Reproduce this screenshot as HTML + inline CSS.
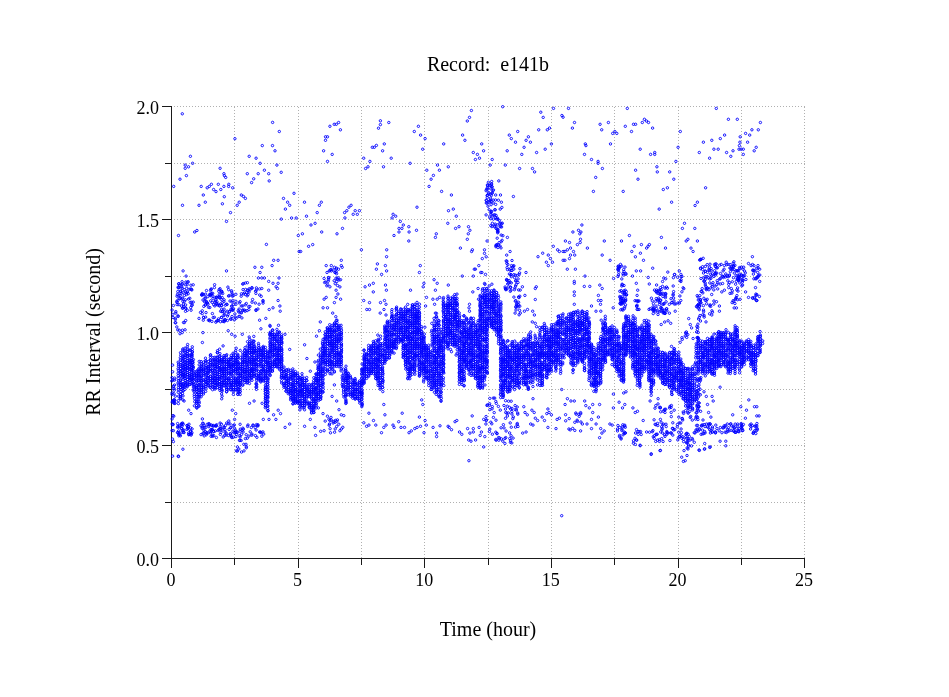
<!DOCTYPE html>
<html><head><meta charset="utf-8"><style>
html,body{margin:0;padding:0;background:#fff;width:949px;height:697px;overflow:hidden}
svg{display:block}
text{font-family:"Liberation Serif",serif;fill:#000}
</style></head><body>
<svg width="949" height="697" viewBox="0 0 949 697">
<path d="M171.5 107V558M234.5 107V558M298.5 107V558M361.5 107V558M424.5 107V558M488.5 107V558M551.5 107V558M614.5 107V558M678.5 107V558M741.5 107V558M804.5 107V558M171 558.5H805M171 502.5H805M171 445.5H805M171 389.5H805M171 332.5H805M171 276.5H805M171 219.5H805M171 163.5H805M171 106.5H805" stroke="#b0b0b0" stroke-width="1" stroke-dasharray="1 2" fill="none"/><path d="M171.5 106V559M171 558.5H805M162 558.5H171M165 502.5H171M162 445.5H171M165 389.5H171M162 332.5H171M165 276.5H171M162 219.5H171M165 163.5H171M162 106.5H171M171.5 559V568M234.5 559V565M298.5 559V568M361.5 559V565M424.5 559V568M488.5 559V565M551.5 559V568M614.5 559V565M678.5 559V568M741.5 559V565M804.5 559V568" stroke="#1a1a1a" stroke-width="1" fill="none"/><defs><marker id="m" markerUnits="userSpaceOnUse" markerWidth="6" markerHeight="6" refX="3" refY="3" overflow="visible"><circle cx="3" cy="3" r="1.2" fill="none" stroke="#0000ff" stroke-width="0.9"/></marker></defs><path d="M182.3 113.8m52.6 24.9m37.7-16.3m6.7 9.1m-17 14.1m10.2 0m2.5 5.2m-25.8 5.5m6.9 1.9m4 5.1m16.8 1.8m-12.5 5.1m16.8 2.1m-33.9 1.4m10.9 0m10.5 0m-15 5.1m-2.1 3.8m17.6-1.7m-78.8-24.6m2.2 7m-7.4 1.8m0 3.2m3.3-1.5m-2.1 8.8m-6.4 3.6m-6.3 7.2m8.8 18.9m18.7-18.9m2.1 8.6m2 7.2m-6.3 3.1m8.2-17.5m2.1-1.4m2.1-2.1m2.2 5.2m2.4 2.1m2.3-7.3m2.5 5.2m-0.7-21.2m3.8 5.4m0.5 2m1.3 1.7m-1.8 9m4.9-2.1m-0.2 2.1m4.1 1.4m-8.4 8.9m-1.9 7.1m8.1 8.8m6.7-7.3m2-3.1m2.1-7.2m2.1 1.4m2 2m48.6-5.1m-10.5 5.1m4.1 3.8m2.1 3.1m-4.3 3.8m44.5-82.8m4.3-2m2.1 0m2.3-1.8m1.8 7.3m-14.9 7m2 0m-2 3.5m-1.9 10.5m8.6 3.6m-4.7 7m52.9-40.6m0 3.8m-1.9 3.6m10.3-5.7m-4.5 21.4m-1.7 6.9m-6.2-5.4m-2.1 1.9m-2 0m18.9 10.9m-27.5 0m6.2 3.2m-1.9 5.4m-2.4 1.7m17.9-1.7m34.9-40.5m-4.1 5.2m6.3 3.6m4.5 3.5m-2.4 10.6m-12.6 14.1m16.7 6.9m4.3 9m-2 7.2m-12.1 20.8m-112.5-5m2 14m12.9-10.9m1.9-3.1m-4.1 10.4m27.4 0m2.2-1.9m2.1-3.5m2.2-1.9m-6.2 12.6m8.3-3.6m4.1 0m-2.1-3.6m4.2 0m33.7 3.6m2.6 1.9m-3.6 1.7m79.3-107.4m-1.9 6.9m-2.2 3.6m-4.7 14.1m2.3 5.2m-21.2 3.6m38 0m1.9 6.9m-10.3 1.7m4.1 1.9m-2 5.1m4.1-1.3m12.7 1.3m10.5-52.8m-65.2 58.4m1.9 5.1m8.9-3.4m-14.9 8.6m8.2 16m9.8 3.6m1.9 14.1m-4.8 1.6m7.8 5.5m33.9-51.1m15.1 0m12.4-33.6m-8.4 3.6m2 3.5m4.2 3.6m10.6-1.9m2.3-3.5m2 5.4m-6.3 5.1m-2.3 7.1m-14.6-3.6m29.4 1.7m8.6-3.3m6.2-5.3m-12.7-14.1m8.6 0m2.2-1.7m-8.7-15.9m2.4 5.2m10.3-9m8.4 7.1m1.2 1.7m-43.5 51.3m12.9 0m2.1 3.4m-35.8 9m14.6 15.6m-12.9-1.5m-4.8 0m2.7 5.2m3 2m0.5 5.2m-1.7 1.7m68.3-100.7m6 14.1m-2.1 5.6m27.7-3.8m1.6 5.5m6.7-7.3m4.3 10.9m2.1-1.9m2 1.9m-6.3 10.5m-25.2 0m0.6 1.7m-1.4 8.8m7 5.1m6.6 1.9m0 1.9m4.3 5.2m-6.7 8.9m-2.3 14m33.9-83m-2 17.9m6.2 5.2m2-7.2m2.1 0m6.7-1.8m2.1-3.2m2 1.7m2.1 1.5m4.1 5.6m-12.4 21.1m10.4 5.2m4.1-1.9m0 1.9m21.2 7m2.2-14.1m2.2-15.8m-23.4 35.3m0.4 5.1m12.4 0m4.1 7.3m-38.2-9m2.4 9m-14.8 12.2m40.1-1.9m4.1-1.7m4.2 14.4m-12.4 6.9m35.9-3.6m21.2-97.1m12.1 10.9m8.9 0m23.1 3.2m-8.5 7.3m6.4 0m-12.7 3.6m4.1 1.7m-9.5 1.7m-15.6-1.7m-4.3 3.5m-8.5 1.7m-8.4 1.9m36.5 0m7.7 0m-8.2 3.4m16.8 1.7m-17.2 1.9m2.1 0m2.2 0m10.9 1.6m-10.9 3.6m-10.3-3.6m-6.4 1.7m4.2 3.8m-16.9-7.1m4.3 0m-18.9 3.3m10.3 5.7m-4 29.6m-8.2 14.4m-518.9 33.3m16.2-3.5m2.2-1.5m29.6-9.1m71.8 14.1m0.8 16m-32.7-7.1m-83.3 26.5m43.4 0m-40.4 5.2m87.6-15.8m4.4 0m-6 5.3m-17.2 1.7m6.9 0m-1.7 5.2m-1.7 5.5m3.4 0m2.6 0m14.6 0m-10.3 3.4m4.3 1.9m5.1 0m-2 3.5m1.4 1.7m-8.8 1.7m-6.9-1.7m-5.2 1.7m-53.7 42.4m25.3-1.9m3.5 3.6m3.4 1.9m7.2-1.9m18.6-5.5m-1.3-8.6m6.2-1.8m12.7 6.9m6.5 9m-6.9-33.8m1.8 5.5m0.3 5.2m-7.2-3.4m-3.8 1.7m-70.2 8.9m4.3 1.8m99.1-86.4m8.6-8.8m4.1-1.7m6.6 8.7m15.3 1.8m5.5-5.4m-33.9 17.9m4.1-1.7m-12 6.9m60.7-1.7m38.9-28.4m3 3.6m5.5 1.7m-9.8 1.7m2.9 0m7.2 3.6m-10.1 0m-5 3.5m22.5-5.2m-7.7 10.7m-22.1 8.8m-0.1 6.9m-9.2 7.2m-1 5.3m9-3.6m1.2 5.3m-5 3.5m38.7-8.8m-0.9 6.9m-78.1-12.2m-15.1 5.3m5.1 0m3.1 1.7m6.9-1.7m0.9 1.7m-3.6 1.9m26.5 17.6m4.4-1.7m3.8-1.8m0 8.6m12.2-6.8m0.9 5.1m24.1 0m13.4-6.9m-0.7 3.5m3.3 10.6m-0.9 8.6m-61.9-5.5m5.8 2.1m-2.7 6.9m2.7 0m11-6.9m4-2.1m1.5 3.8m-2 5.2m-3.8 3.6m5.8 1.9m-61.9-36.5m16.5 1.2m-4.5 10.5m1.8 3.8m-1.8 3.4m4.5 1.8m-6.2 3.4m-10.3-3.4m2.1-1.8m-3.1 10.4m4.4 0m5.2 5.3m3.1 3.6m-15.5 5.2m-0.9 8.8m-2.9 5.5m108.4-9m-0.6 6.9m23.5-110.8m7.8 5.1m3.4-1.7m9.5 0m1.4 3.6m-1.6 3.5m-1 5.5m-31-5.5m-0.9 3.6m25 10.7m12 1.7m-0.8 1.7m12.9-1.7m0 3.6m1.7 3.4m-3.9 1.8m4.8-17.6m-8.3 24.6m-3.4 3.6m-1.1 0m6.4 3.3m1.2 0m3.6 1.9m-23.2 1.7m11 0m34.1-38.7m2.7 14.1m-3.4 3.6m46.6-8.8m4.3 3.5m1.8 1.7m3.7 0m-20.4 1.7m-4.7 3.5m10.3-1.6m2.1 3.5m-4 3.6m6.1 0m-4.2 3.4m14.8-5.3m-37.1 12.2m-91.9 7.2m3.1 3.6m11.1 1.8m-12.9 5.1m4.3 7.2m-2.5 1.8m-4.3 0m1.7 5.1m0.8 8.8m37.4-21.2m5.3-3.4m0.4 10.7m-9 5.1m-0.5 3.5m0.5 3.4m52.9-24.4m2.5 8.6m2.6 14.1m-3.1 1.7m8.3 0m2.6-11.7m0-11m1-1.7m-1.9 28.2m-2.1 6.9m3 1.4m1.3 3.4m45.3-101.7m-9 7m5.6-1.7m2.4 1.7m-1.1 1.8m0.7 5.5m-0.3 3.2m-2.8 2.1m-12-3.6m4.1 1.5m-4.6 9m2.5-1.7m3.1-1.7m3 3.4m-3 3.6m4.2 0m-5.2 3.5m-4.6 1.7m22.5-12.2m16.9-7.1m-2.1 14.1m7.9 5.2m-42.8 8.9m8.1 0m9.6 6.9m-0.7 10.3m5.5 0m-15.5-5m0 1.9m0 8.6m0 3.5m0 8.9m25.5-19.2m2.4 3.4m-3.8 6.9m0 5.1m2.6 0m-0.5 3.8m-9 1.7m4.5 5.2m4.8 0m0.4 9m12-12.4m0.4-29.3m15.8-43m-7.9 5.5m12.7 5.3m-2.4 5.2m9.6-6.9m-1 8.6m-5 3.6m8.1 3.5m4.5-14m1.4-1.7m-2.8 3.5m14.8-10.7m4.1 10.7m-29.2 22.8m4.3 0m-8.1 5.2m3.8 7.2m1.4 6.9m-0.6 5.2m-0.5 5.5m1.1 0m-1.1 5.1m45.8-77.6m2.1-5.1m3.4 16m-1.7 1.7m4.8 7.1m2.1 3.4m1.7-23.1m-15.5 42.5m-15.5 7.1m5.5 26.3m5.9 6.9m-4.5 12.1m26.7-82.3m55 15.7m-3.9 6.8m2.6 2.1m6.9 0m1.7 3.6m-13.8 10.3m13.8 1.9m-14.1 10.5m2.9 5.5m-29.1 8.6m0 5.2m-7.6 3.8m-5.8 6.9m15.8-30m2.6-1.7m6.9-1.7m0.8 14.1m3.5-3.4m-533.2 43.3m20.7 3.4m13.1 2.3m53.5 1.2m-106.8 50.5m1.2 1.1m4.6 9.2m2.3 3.4m41.3-3.4m3.4 3.4m13.8-10.3m4.6-2.3m8 2.3m11.5 11.5m4.6-4.6m2.3 3.4m-4.6 5.8m13.8 4.6m-4.6 3.4m-16.1-8m-5.7 0m-60.9-0.5m32.2 0.5m-5.8 1.6m-56.2 35.1m5.7 0m4.6-6.9m121.7-104.4m2.3 13.7m3.4 12.7m4.6-9.2m3.5-6.9m-13.8 71.2m5.7-6.9m4.6 8m0.7 8m5.1-4.1m2.3-17.7m-4.6-5.7m13.7-11.5m4.6 4.6m2.3 8.7m2.3 5.1m-6.9-29.9m34.5 28.3m-5.1 9.6m2.8 3.5m2.3-1.2m4.6-4.6m2.3 4.6m5.7 7.6m3.4-17.9m1.2 10.3m-2.3 2.3m9.2-2.3m1.1 2.3m4.6-5.7m3.5-8.5m-1.2 14.2m3.5 0m4.5 5.3m2.3-1.8m3.5-2.3m2.3-1.2m2.3-10.3m1.1 9.2m3.5 6.4m1.1-12.2m1.2 4.6m-4.6-25.2m1.1 4.6m-39 0m49.3 22.9m3.5 5.7m0 3.5m3.4-10.8m8.1 0.5m1.1 1.1m2.3 2.3m3.5-8m1.8-1.2m2.7 11.5m2.3 2.3m5.8-5.7m2.3 4.5m-1.2 6.9m2.3 1.2m4.6-1.2m-2.3-11.4m0 3.4m5.8-4.6m1.1 8m1.2-3.4m3.4 4.6m-1.1 10.3m2.2-22.9m-2.2-4.6m-11.5-3.5m51.6-9.2m1.2 5.8m-2.3 20.6m3.4-1.1m1.2-17.2m3.4 9.2m2.3 1.1m-1.1-14.9m2.3 2.3m1.1 5.7m2.3 2.3m4.6-3.4m2.3 3.4m2.3-6.9m1.1-4.6m1.2 3.5m2.3 2.3m5.7 4.6m2.3-1.2m-11.5 9.2m13.8-37.9m-5.7 39.1m-23-29.9m4.6-13.8m-86.1-33.2m4.6 3.4m111.3 43.6m3.5 2.3m3.4 0m-9.2 3.5m19.6-3.5m1.1 4.6m3.5 2.3m3.4 4.6m0-8m6.9 0m-8.1 14.9m-9.1 4.6m4.6 0m4.5 4.6m4.6-4.6m2.3-6.9m2.3 11.5m1.2 4.5m2.3-2.2m-4.6 6.8m13.8-29.8m0-13.8m5.7 8.1m4.6-9.2m2.3-1.2m-1.2 12.7m-2.3 3.4m10.4 0m2.3 4.6m2.3-1.2m5.7 9.2m3.4 11.5m11.5-33.3m-6.9-3.4m-1.1 5.7m5.7 4.6m4.6 2.3m4.6 4.6m4.6-4.6m4.6 2.3m-13.8 9.2m18.4-2.3m-27.6 36.7m9.2-3.4m-50.5-26.4m2.3 1.1m107.9-37.9m-16.1 4.6m2.3 4.6m5.8 0m1.1 4.6m-5.7 3.5m-6.9 6.8m8 1.2m2.3 4.6m21.8-2.3m8.1-8.1m5.7 3.5m2.3-10.3m5.7 6.8m2.3 0m0 9.2m2.3 0m-13.7 2.3m-25.3 23m5.7 0m0 4.6m-15.6 1.1m-5.5-3.4m-5.3 6.9m5.3-1.6m45.2-23.7m1.2-1.1m-282.2 36.7m-290.4-4.2m383.2 59.2m89.5-61.3m8.8-3.8m21.7 6.6m5.3-1.7m-3.6 5.9m1.8-0.7m-1.2-10.1m4-1.6m11 1m5.4-0.8m5.3-1.8m-428.4-228.3m10.3-1.1m4.6 0m-114.4 66.8m5.9-2.5m-2.1 9.4m-8.6 4.5m6.6 10.3m-5.4-19.4m9.1 23.2m-0.9-17.6m5.1-3.4m-12.9-5.5m3 22.3m-2.3-7.5m8.2-6.7m-1.6-9.9m2.3 11.7m-6.5 5m2.5-9.1m6.1 12.8m-9.9-4m5.1 9.6m3.6-18.8m-5.6 15m-4.8-8.6m-2 5.8m13.1-3.1m2-8.3m-3.3 9m-2.1-4.4m4.7 15.6m-6.6-8.9m-7.4 1.1m13.7-13.3m-7.9 12.3m-3.9-17.7m-1.9 20.9m1.2-16.7m4.7 20m-5.5-13.5m8.4 13.9m4.8-0.7m-9.7-14.3m1.5 15m10.7-23.5m-14 2.6m1 8.1m6.4-7.1m-4 9.7m10.6 4m-7.9-2.3m2.9-18.1m4 23.3m-0.5 0.5m-8.6-12.7m-5.2 7.5m1.9-15.1m2.3-3.5m-4.3 9.9m9.3-6.8m-6.6 6.3m2.1-7.2m1.8 11.6m-2.2-7m8.7-3.3m-5.4-0.5m0 26.6m6-9m-10.8-10.6m-1.7 13m6.6 0.2m-3.7-17.8m-6.7 35.6m0.2-3.2m-0.1-1.2m-2.4-4m0.5-8.8m-1.3 4.5m0.9 7.5m2.8-4.4m-0.1 9.7m0.1-11.2m2.4 4.8m-0.2-0.5m4.2 16.7m2.2-10.1m-1.9 7.7m-5.7-3.3m8.3 2.9m-1.6-7.3m-5.7 7.4m1.5 0.3m6.4-9.7m-5.7 13.2m51.6-42.9m8.1 25.5m-34.1 0.8m37.5-6.8m-28.3-4.4m27.9 4.1m-20 11.3m-4.2-2.4m-8.2-23.2m-0.5 11.8m0.9-6.7m4.2 1.5m10.4 17.9m-7.4 0.5m3.7-15.4m-2.8-14m-12 11.6m24.8 3.4m-17.9-1.6m10.3 10.7m-20.2-9m6.4-11.3m23.6 9.2m-9.5 10.1m15.8-12.7m-13.5 2.5m-4.6 7.5m-2.6-6.4m1.1 16.4m10-2.6m-6.3 2.6m-19.7-20m-2.2-8.1m0 17.2m32 9.1m-28.3-7.3m22.7-22.9m-11.8 13.8m-10.6-2.2m15.9-3.7m-14.4-0.9m16.1 4.9m3.2 2.9m-23.4-9.9m7.5-5.4m6.8 31.3m17.9-26.2m-11.2 17.7m5.3-11m-2.5 15.1m-8.1-18.5m4.5 23.5m-12.8-31.9m11.6 4.3m-9.7 2.7m20.2-0.6m-11.7-4.5m-6.9-6.4m17.4 21.3m-24.5-3m28.4-1.7m-14.6 16.1m-4.6-13.1m-2.3 13m16.4-7.9m-13.6-11.5m-15 15.7m8.3-23.1m27.7 20.3m-26.5-17.1m0.5 8.7m-6.1-0.6m36.7 4.1m-29.9-7.6m7.5 5.8m-12.4 0.1m-5-4.2m9.7-6.7m12.7 11.9m7.4 5.1m-1.6 8.9m-14.7-22.2m15.1 12.7m7.5-0.6m-7.1 7.4m-26.7-11.5m16.4 12.4m13.5-0.3m-9.9 2.6m4.4-8m-24.7-13.3m-1.3 19m20.4-8.3m3.1 2.1m7.7 2.7m-13.3-8.5m10.6-11.3m-29.8 0.5m29.4-2.4m-10.6 7.1m-0.6 12m12.9-2.6m-5.6-21.6m-22.3 7.1m26.8 2m-30.7-1.4m27.5 16.9m0.2-16.1m-7.2 7m-2.2-13.9m-0.8 6m-10.7 12.6m-3.1-2.3m30.5-0.7m3 7.8m-29.5 7.8m9.9-23.8m-14 1.7m7.9 19.8m27.5-5.1m-25-12.8m-0.5 1.4m-11.6 16.3m8.3 4m-1.7-26.8m11.8-3m-6.2 30.6m23-5.7m-11.4 4m13.9-14.5m-9.3-4m0.9 7.8m-12.7-12.1m-7.8 15.9m16.1-17.6m-4.4 3.8m-17.6-9.3m1.9 29.7m13-27.4m-2.2-3.2m-4.8-2m-4.6 6.7m14.8 25.2m8.1-19m-15.1 4.5m-1.6-7.5m-14.2-2.4m19.9 14.1m-10.5-15.3m5.8 7.9m24.9 16.1m-41.4-5.5m38.8-9.5m-22.7 18.2m19.6-2.9m-13.7-6.9m18.9 1.6m-13.3 1.7m-8.5-8.5m-10.1 14.7m46-29.7m-12.4-1.5m12.2 13.4m-12.6-18.9m9.9 15.4m-3.3-10.8m-2.1 7.1m15.8 5.5m-1.8-5m-15.6-6.9m17.5 13.7m-15.7-20.4m4.6 19.5m-1.9-12.5m5.9 20.1m-10.6-26.8m2.7 11.6m8.3-6.7m2.7 16.3m-7-16m7.6 0.7m-14.4 15.9m1.8 5.8m4.8-23m-6.5 6.9m10.6 16m-12.5-16.7m1.6 17.4m-1.7-27.6m-2 10.2m3.1 16.3m11.4-16.7m-6.9-1.4m-2.3 0.5m1.9 14.1m11.1-11.6m-18.5 1.2m7.7 13.4m-4.3-16.7m5.3 13.5m8 2.6m-9.8-18.8m14.9 10.3m-16.7 3m1.3-13.2m79.4-17.8m9.2-0.7m0.2-3.7m-7.1 2.8m7.3 2.8m-5.7-4.2m0.4 1.5m5-1.9m-1.3 3.3m0.2 0.2m-2.1-2.6m-2.9 0.2m7.9 7.6m-10.5 6.7m0.9-6.9m-3.9 4.9m5.3 4.3m10 0.1m-11.1-9.1m-3.1 4.2m11.1-0.5m-8.6-0.3m7 2.5m2.3 1.8m-1.5-7.3m3.1 1.7m-4.9 0.8m3.1-1.7m-8.8 0.5m-1.7 6.3m166.1-95.1m-2.1 28m1.3-32m3.6 17.7m-4 7m4.4 4m-9.6-26.1m0.9-4.3m1.7 24.7m4.1-6.7m-4.6-10.5m-0.9-6.9m1.4 16.6m-3-11.5m3.6-5.2m5.8 14.5m-4.8 0.1m-2.7 6.1m2.9-17.3m-1.2 28.1m0-16.2m0.6-6.3m6.1 24.4m-6-33.6m-4.3 29.6m5-3.4m-0.2 2.6m0.6-30.3m-5.3 16.4m7.5 15m-6.6-12.1m3.4-4.9m-2.7-9.3m4.5 27m-5-18.3m8.4 20m-7.3-35.3m8.9 35.7m-6.4-5.5m-2.3-18.7m3.6-0.7m-4.7-5.7m7.2 27.3m-8.2-14.1m6.7-0.5m0.3-10.2m-2.5 11.6m0.1 3.2m0.3-9.3m-5.1 7.6m5.6-16.1m3.3 22.9m-3.7-25.3m0.2-3m-4.2 13.6m-0.4 0.5m7.7 14.1m-2.8-16.8m9 55m-1.8-5.3m-3.3 4.1m5.9-22.9m-1.8 22.2m-0.4-22.4m2 3.4m-1.2-3.8m-4.4 22.5m-4.1-19.1m4.2 1.7m2.4 16.7m-0.6-15.6m3.3 5.7m-4.1 9.5m0.7-14.2m2.4-3.7m2.7 9m-7.7-11.6m4.2-3.7m1.1 6m-2.6 21.1m-0.7-9.3m-3.8-19.1m4.2 12.4m-1.4 13.5m-5.4-19.4m7.3-6m-0.9 5.3m0.5 7.9m-5.3-9.5m8.8 18.4m-6.6-15m2.3 2.5m1.1 2.7m4.1 8.4m-7.4-14.4m7.5-2.8m4.4 56.4m2.5 1m2.4-14.9m-4 4m-2.1 18.9m5.9-5.6m-6.2 4.1m5.9-12.1m-0.1-0.4m-4.1-11.1m0.1-2.2m0.8 22.8m2.9 3.1m0.1-18.6m-1.3 5.5m1.9 2.7m-4.2 3.8m5.6-13.6m-0.7-6.4m-4.9 7.1m3.9 22.6m0-19.7m1 0m-5.1 18.5m3.1-6.8m0.3 9.1m-1.5-4.4m1.8 0.5m-2.1-4.2m1.1-13.4m-2.9 10.1m-1.1 9.2m0.6-28.2m-0.3 28.8m1.9-25.2m5.4 1.7m5.3 30.8m0.1 5.3m-2.7 4.2m3.7 3.8m0.7 2.8m-6.4-38.4m0-8.9m5.9 40.4m-1.7 0.7m0-28m-4.3-9.8m5.3 5.6m-3.5 11.3m-0.3 15.2m0.6-20.5m3.9 15.5m-3.3 8m-0.7-3.6m1.5-25.3m2.6-6.6m-0.3 4.2m-0.5 41.9m-2.2-9.4m-2.4-15.7m1.3 17.6m-0.7 5.8m0.2-37.9m3.3 14.7m-4.7 7.2m4.7 7.8m-0.6-22.4m-1.8 2m-1.6-6.8m5.6 12.4m-4.2 19.9m-1.1-22m2.4 15.2m1.7-5.6m-3.2-16.6m102.6-6m4.6-1.4m-4.5-3.9m5.5 1.8m-5.9-1.5m6.9-2.9m-6.3 0.8m4.6 7.1m-4.9-9m0.8 2.2m2.5-2.1m-1.7 0.4m5.8 7m-7.9 3m0-7.5m8 5.3m-2.3-4.6m-4.8 2.6m-0.8-5.6m2.5-2.3m1.7 39.5m2.3-9.9m-0.4-1.2m-4 4.7m2.1 4.7m4.1-10.6m-2.7 10.9m-1.2-17.7m2.4 22.1m0.4-6.1m0.6-0.7m-1.7-7.7m-2.6 6m-1.7-7.1m5.5 9.9m-1.3-15.7m-1.6 7m1.6-1.6m0.4 17.7m-3.9-9.3m4.7-9.1m-2.3 19.9m-2.6-6.5m6.2-8.9m-6.7 1.8m3.5 4.9m-0.2-2.7m2.5-4m-3.3 14.5m-1.6-8.9m1.4 2.6m-0.3-24m-0.6 11.7m1.2 10.1m-0.6-14.7m-1 16.2m5.7-7.3m-5.7 9.4m1.3-20.1m-2.1 19.2m5.5-4.8m-2.7-2.5m-2 13.7m1-11.1m3.7 6.1m34.5-10.3m1.2-4.9m4.3 6.7m0.3-2.5m-7.2-0.4m0.8-2m-6.4 15.5m4.2-13.8m0.3 6.8m1.9 4.6m3.5-8m4 14.3m-13-0.8m12.7-1.3m-11.5 1.4m7.4-23.7m-9.3 27.2m9.6-20.3m-8.3-3.2m2 18.4m1.7-18.1m8.4 18.6m-11.1 2.8m6.6-3.1m0.9 3.2m1.8-1.6m-8.8-4.2m5 1.4m-1.4 4.1m1.7-17.9m-4.8-3.7m3.9-2.3m-0.4 2.5m0.4 10.2m0.7 10.6m-8-0.6m6.9-8.1m3 8.1m-4.4-12.3m8.8-9.9m-4.8 16.2m-9.2-0.7m9.8 9.3m-5.2 1.5m2.7-14.4m5.8-13.1m-2.7 17.1m-5.7 6.9m0.4-11.2m2.4 8.5m-4.7-9.7m3.1 3.5m6.1-7.6m0 3.2m-4.8-3.8m0.6 30.6m3.8-11m-8.4-28.5m-0.8 16.2m8.7 11.9m-15.5-3.7m22-10.7m-21.7-14.7m-1.1-6.6m23.8 25.1m-6.9 10.8m6.6-10.6m-7.7 0.9m2.1-1.8m-0.4-23m-0.4 14.7m2.5-21.4m-15.1-3.9m15.4 52.6m-3.1-32.7m4.4 25.1m-6.8-31.7m-6.7 9.8m0.4 0.5m8.4 30.2m8.9-30.4m-0.2-13.9m8.5 14.1m1.2-4m-9.9-1.8m6.3 17.1m4.3-14.4m-6.3-11.5m2.6 3.4m-5.4-6.1m-1.6 20.7m1.2 8.8m-0.3-3m0.4-26.4m6.5 6.9m0.2-1.7m-7.5 18.2m7.2 2.5m0.2-23.9m-1.1 19.4m-1.8 6.9m-2.3 1m5.1-29.5m-7.7 19.8m8.8-17.7m3.2 59.5m-2.9 3.4m6.4-20.8m-2.3 13.3m1.4 2.7m-5.9 3.1m4.4-3.9m5.3-5.9m-4.9 9.5m11.2 0m-7.6-12.8m-10.1 17.7m12.9-3.8m-7.5-5.7m12.9 5.8m-60.5-37.3m-0.9 8.1m-0.2-2.8m1.1 2.9m1-8.5m-4-0.3m2.1 4.5m2 4.2m11.1-0.7m3 0.4m-0.9-8.3m1.1 7.5m-0.7 1.5m-1.3-11.6m52 7.4m-2.8-2.8m3.3-4.5m-1.2-28.7m-1.7 33.2m4.3-17.8m-5.6 21.2m5.5-35m-1.6 40.5m2.5-22.9m-3.3 4.1m-2.3-24.2m-0.1 31.1m1.5-8.4m0.3-2.8m-2-28.9m-0.4 35.9m5.5-29.1m-1.5 11.5m-0.6-19.7m-3.9 59.1m6.6-30.7m-2.4-13.7m1.7 10m1.4 20.8m-5.6-44.5m-0.4 8.7m-0.9-7.9m3.8 50m-0.8 4.7m1.1-33.6m-3.8 34.3m1.1-24.1m3 23.9m0.3-34.3m-1.8-14.3m-1.8-7.3m0.2 19.1m4.3 21.8m-1.1 16.8m3-52.5m24.9 5m-3.4 14.7m-19.5-13.9m6.1-6.4m9 1.4m-9.8-0.8m19.2 1.6m-27.3 23.5m7.4 0.2m-3.2-15.6m-1.7 15.4m29.8-9.6m-15.6-9.2m14.8 4.4m-7.8-10.7m3.4 13.1m-22.7 10.2m4.9-14.7m-4.5-4.5m27.4 2m-26.9 5m6 13.2m-10.4-0.3m24.4-21.8m-7.6 2.4m-8.8-2.7m-6.4 2.8m25.2 0.1m3.2 1.5m1 6m-25.9-3m29.1-6.9m-13.6-2.6m-15.7 20.3m21.3-18.4m-4.2 9.6m-13.3-9.3m13.5 16m8-3.9m-3.2-5.6m-0.4-11.3m3.5 8.9m4 4.6m-1.5-6.8m-27.5 18.1m7.3-21.4m0.1 13.8m-14.6-2.4m17.6-0.1m-13 6.4m8-0.1m2.5 1.2m-12.9 3.9m35.8-12.1m-17.7 1.2m18.2-9.8m-28.7 18.9m18-19.9m-27.3 13m22.4-2.5m5-13.4m6.7 19.6m-15.1-6.9m-8.5-12.1m5 0.5m7.5 23.2m-17.8-9.3m24-13m-14.4 8.2m18.1 3.3m-2.5-6m-21.5-0.1m-7.5 5.9m7.9-3.1m15.3-1.8m-4.1-9.5m-3.9 14m20.2 4.1m-11.8-11.8m1.4 0.2m-2.2-0.7m-4.1 5.9m17.2-4.7m-25.8 11.5m-7.4-1.7m33.4-2.6m-27.5-1.5m10.7-10.2m-16.4-0.5m6.7 8.8m-0.2-5.2m-8 9.7m30.1 2m-10.8 1.3m-14.8 1.9m10.4-5.2m6.1-2.5m-12.1-7.2m-3.5 8.6m6.4 2.3m-14.8-7.4m34-3.7m-12.2 8.1m-10.5 9m23.1-10.6m-32.4-1.7m15.1 11.1m-13.2-16.3m1.8 3.6m24.4 13.4m7.5-3.8m-1.3 5.4m0.4-6.4m0.4 5.6m2-13.9m-2.3 11m-3.1-4.1m0.5-0.9m-2.5 1.9m4.4-4m-5.3 6.3m-0.1-5.6m1.8 3m-5.7 3.1m12.4-6m0.6-2.9m-8.5 17m2.2-10m-0.7 0.5m-24.4 20.6m-4.2 4.7m-0.1 8.1m4.2-9.7m-7.5-3.5m3.9 4.3m2.3 7.3m-1.8-5.8m1.2 4.4m-4.7-11.5m4.5-4.8m4.8 7.2m15.4-8.6m4.2 4.5m-3.8-6.8m5.3 8.9m-3.4 8.2m3.4-20m-2.7 15.6m-1.2-2m-3.7-8.1m10.1 5.9m-2.1-8.2m-2 7.5m-2.8 2m3.2 7.3m0.5-12.3m16.1-25.6m5.1-1.9m-5.3 2.4m3.4 24.8m0.7-0.6m-4.4-30.2m5.7 11.8m-0.5 1.1m-4.3-3.3m-0.6 24.2m3.9-21m-1.1 1.4m-3.2 19.1m4.3 2.7m-1.2-12.9m-1.5-21.9m5.4 30.8m-4.9 1.7m4-22.7m-1.7 25m-0.8-0.4m-2.1-21.3m3.8-6.4m-3.2 24.9m1.4-3.2m-2-23.5m1 0.5m4.9 3.9m-3.3-6.6m-0.2 10.3m-58.3 18.3m-1.4 35m1.2-26.7m-0.8 1.7m0.2-11.4m2.1 14.1m-2.5 16.8m-0.3-20.1m3.7-6.5m-2 32.6m1.8-31.2m-2.2 25.9m0.1 10.9m-0.9-0.4m1.5-33.2m-0.2-4.5m1.2 6m1 15m-2.7-15.7m1.2-1.5m1.4-4.2m-1.8 19.4m-1.2 10.5m0.5-5.3m0.9-15.9m-515.6 115.9m-3.4 10.7m2.3-2.6m-3.4-1.4m4.1-0.9m-1-6.1m0.2 2.3m-3 6.8m2.5-4.4m10 5.2m-0.4 1.3m-12-8.2m-1.6 5.6m10.1-4.6m-4 4.3m4.6-5.7m2.3 1.4m-3.4-2.4m-8.3 10.3m9.9-2.8m-11.1-9.4m2 2.2m2.2 2.5m-4.2-0.9m9.6-1.9m3.2 5.5m-1.9-4.4m-4.5 6m-1.4-9.6m7.7 10.9m-8.7-10.3m9.1 7.9m-12.9-5.1m1 7.7m1.6 1.7m8.6-11.6m-0.9 4.3m0.9 6.1m-7.5-10.3m10.6 4.6m-0.2 3.8m-3.1 1.9m-1.8-5.3m-9.1 3.5m6-2.6m50.4-5.3m-6.1-1.2m-2.2 11.4m-16.3-3.9m26.2 1.4m-15.8-5.9m-17.9 1.7m13-2.4m-3.7-1m14.7 8.1m-17.4-6.5m10.3 3.1m15.5-1.4m-23.5 8m-5.9-4.9m7.1 3.8m8-0.8m-14-1.4m15.9-3.1m6.1 5.6m-24.1-8.2m9.1-1.2m-11.1 1.1m5.1 6.3m9.3-8.8m-4.6 5.3m1.4-4.5m-10.7-2.3m34 11.1m-33.6-0.5m33.2-2.3m-32.3-1.2m12.1-4.5m4-2.7m13.9 9.6m-10.8 4.3m0.9-10.2m-15-1.7m-8.1 9.5m30.1-7.2m-24.2 5.2m24.4 4.3m-25.1-2.1m24.5-0.7m-18.6-8.3m18.4 2m-16.9 3.5m0.1 4.2m-4.8-11.9m12.1 8.8m9.3 1.2m3.2 3.6m-15.2-6.7m-12.5-3m15.7-3.3m4 1.3m-9.1 12m-13.1-13.9m13 2.3m10.4-2.9m4.4 12.8m-2-6.4m-18.6 3.5m8.5-3.6m-6.5 0.3m12.1 5.8m8.8-9.9m-22.5 4.1m9.9-1.4m-13.6-3.9m4.8 5.6m23.9 6.7m-3.9 1m3.6-5.3m-5.6-8.4m-5 8.2m-14-0.5m24.3-1.4m-11.3-2.7m-11.3 8.8m-11.7-10.5m24.1 3.9m-21.9 3.2m10.6-1.2m1.6-0.8m5.5-2m-16.7-3.2m28.7 5.5m-28.7 4.7m5.2-11.5m41.9 3.1m-1.1 4.3m-7.1 0.2m-3-0.8m12.8-6.1m-4.9-0.1m0.9 11.1m3-2.1m5.5-8.4m6.3 8.5m-23.9 1.5m7.8-9.2m15.3 5.5m-5-6m0.1-1.1m-14.6 4.4m-6 3.1m5.4-4.1m13.3 1.8m4.9 2.7m-0.5-0.8m1.3 4.3m-20.3-1.8m4.7 0.3m9.2 0.9m-15.1-6.4m16.6 8.1m-0.4-12.7m-3.2 0.8m-1.5 9.8m-11.7 1.8m15.1-9.4m-13 2.7m17.4 1.8m-19.5-7.8m-3.7 26.5m1-3.9m1.4 2.1m1.2-8.7m6.4 6.3m-2.4 4.3m3.3-12.7m-7.8 2.2m2 11.6m3.9-13.4m-8 12.5m6.4-6.8m-2.6-3.8m4.8 3.8m0.3 3.5m-74.1-23.9m0.4 15.2m1.2-22.9m-1.3 8.5m0.9 5.9m-0.2-6.1m-1.2 6.1m1-15m0.4 26m-1.3-22.7m165.3 1m-7.9 4.1m-0.3 1.2m5.4 7m9.2-16.6m-8.6 13.3m6.2 0m-4.7-2.5m-5.4-6.3m8.6 10.6m2.9-3.4m-12.7 1.4m8.7-4.5m-2.1-2.9m-1.7 1m-9.8-1.2m5.3 11.7m3.1-11.2m-4.7-2.4m2.1-1.8m-6.9 13.3m9-7.7m2.3-2.6m-8-4.2m2.6 4.4m180.2 2.3m7.5-9.9m-0.5 11.4m-30.3-19m18 38m-8-10m2.5 4.4m-13-18m30-9.8m-23.1-11.9m-3.4 11.5m19.5-2.3m-11-0.9m7.3 31.2m1.6-31.4m3.1 36.1m-4.8-41.6m7.5 37.4m-16.8-34.7m-5.5 18.8m24.7 4.9m1.7-20.1m-21.4 25.2m11.6-16.2m1-3.1m-22.3 3.6m9.9 3.7m9.5-11.1m-4.8-11.5m16.6 25.9m-11.2 7.5m-10.3-29.6m-6.2 2.3m23.7 13.2m-9.9 7.8m0.6 3.2m1.7-15.4m5-3.4m-1.1 23.8m2.3-21.4m-0.1 31.4m-11.5-32.8m2.5 31.1m-1.7-13.4m10.8-13.8m-0.7-12.8m-25 19.4m17.8-15.1m13.8 8.7m-28.4-8.9m21.2 35m-20.8-41.9m22.2 10m-5.1 4.8m5.9 5.4m-17.1 20.9m2.8-1.9m0.3 2.6m19.2-13.7m-25.9-17.7m1.3 8.6m-1.1-10.8m19 20.6m-19.5-3.4m23.5-14.2m-4.2 26.1m-16.9-23.1m7.3 26.3m-11.7-9.8m15.7-10.8m-0.6 20.2m-7.9-4.8m18.1-28.1m-20.4-7.5m-5.3 33.5m-1.9-26.7m21.1-3.7m-12.4 39m13.6-1.7m-17.4-4.3m180.4-11.4m-6.6 3.8m-2.7-2.5m-4.1 15.5m-7.1-7.9m0.6-1.1m1.5 5.1m-1.1 1.1m12.7-12.6m-5.3 7.7m20.4-2.9m-25.4 12.4m24.1-4.8m-22-11.1m-0.3-2.1m-7.9 8.8m13.1 0.9m-1.6-10.9m11.7 12.9m-5.2-2.1m11.9 3.4m-17.1-8m0.7 13.1m-1.2-11.8m0.9-4.8m7.1 15.6m-12.7-6.3m4.4-7.4m-6.5-2.5m23.3 13.4m2.3-14.7m-7.7 5.5m-1.7 4.5m-11.9 8.4m19.3-9.2m-22.3 2.4m18.4-5m-1.2 0.3m-6.7 4.4m5.5-5.9m-1.8 4.5m-14.6 1.4m1.5 5.9m7.5-3.8m1.8-4.9m-10.8-6.7m25.4 7.8m-14.5-0.1m10.4-5.7m-23.1 11.6m10.4-3.6m13.2 5.1m1.4-17m-17.5 15.7m15.7-14.1m5.4 12.3m-0.9 1.5m6.3-4m-1.1 13.7m5.4-8.3m-3.9 5.3m3.6-6.5m-2.8-1.9m-2.7 1.5m0.2-4.8m-3.3 8.3m-2.6-5.9m4.8 0.9m5.7 9.3m-7.9-6.6m10.7 3m-7.6-8.6m1.3 4.8m-0.7 4.2m-0.4-1m-0.2 1.3m-0.8-8.9m3.6 6.3m-1.2-0.5m0.2 6.5m2.2-30m1.6 3.7m3.4-1m-5.9-7.7m6.2 5.7m1.9 2.4m-14.3-6.1m-0.9 6.6m0.5-8m14.4 5.2m-15.4 1.3m14.4-2.2m-14.4 2.3m8-1.2m12.8 2.6m-31.6-14.5m-10.7 6.3m-6.6 8m5.4-12.3m0.8-0.2m10.9 5.1m-7-2.3m-9.2-1.9m16.3 8.4m-0.2-9.2m-13.1-3.5m6.7 5.5m-1.4 1.9m2.4-2.1m4.3-2.8m-44.7 26.5m-7.8-3.9m4.3 1.5m0.3-1.3m-2.6 7.5m0.1-1.3m4.6-1.9m-3.1 5.5m-0.1-1m-3.5-7.1m5.3-6.1m2 0.4m-2.4 1.7m2.9 6.1m-1.1-1m-1.1 2.8m-3.4-7.4m4.8-1.1m0.8 1m-7.4-1.8m22.2 19.7m-3.4-5m-1.4 4.2m3.9-12.8m-5.7 9.2m-0.1 2.4m2.2-10.2m2.6 1.4m-0.2-2.8m3.2 2.9m-0.6-2.9m-0.4 14.1m-3.7-16.1m-0.1 10.3m-1.4-1.6m-69.3-17.5m11.4-0.6m-0.9-6m2.7 0.1m1.7 16.6m0.3-8.9m-11.7-3.4m8.3 2.8m3.2-7.6m-8 14.6m2.1-6.1m-9.2-7.6m3.3 14.3m10.3-12.7m1.4-3.7m-5.8 17.8m-4.6-0.5m5.6-16.9m121.9-19.5m-0.5 11.5m-0.3 1.7m0.6-28m1.3 1m0 27m0.2-12.7m-2.8 2m0.3 5.2m0.2-2.7m1.1-7.9m1.5-8.2m-2.5 30.3m0.9-3.9m2.7-14.1m-3.7-15m3.7 0.9m-1.9 16.3m-1.9-2.7m0.2 2.7m1.7-6.6m-1.5 1.4m0-10.7m0.2 29m1.3 0.7m-2.4 2.1m2.3-5.9m0.5-4m-1.8 2.4m-0.3-19m-0.6 5m2.4-3.9m1.9-8.1m-1.6 5.8m0.1 21.5m0.6-28.2m-2.4 21m3.7-21.8m-1.8 25.4m1-13.7m34 38.7m6.8-0.6m-36.2 4.1m22.6-7.5m-17.4-0.2m-7.6 1.1m14.6 3.6m14.2 1.8m-28.7-0.2m33.6 2.1m-39.2-0.9m13.4-7.2m32 6.6m-11.4-6.9m8.2 7.9m-16.3-4m12.2 4.5m2.4-6.3m4.7 3m-0.8-5.4m-36.1 9.4m-1-8.3m11.7 0.5m11.8 6.1m-15.2 1m20.9-1.3m-23.6-1.2m25.8 2.6m-1.3-4.9m-10.8 0.5m-14-3.1m1 8.2m13.8-7.2m-27.6-0.3m31.9 2.2m-2.1 4.8m-28.1-1.6m-4.1 1.8m7.4-7.2m40.2 1.2m-38.1 6.9m8.8-5.1m29.2 0.1m1.7-4.1m-8.2-0.4m-34.1 10.2m14.5-1.8m-10.6-5.9m-7.8 2.6m39.6-0.5m1.7 2m-42.6-0.6m14.9 0.5m14.1-3.7m-5.7 3.9m20-2.3m-44.2 4.4m32.5-3.7m-12.2 2.6m23-0.3m-38.8-1.9m12.9 2.1m13-6m6.2 0.1m-11.3 1.7m22.6 2.9m-9 0.4m-5 0.2m-22.5-6.9m15.5 8.6m11.4-6.2m-34 2.2m38.3-4.6m-7.2 0.1m-22.9 2.8m-5.8-1m39.4-1.4m-32.4 3.1m-11.1-2.3m14.9 1.6m29.6-1.5m-39.5 8.3m12.8-0.9m9.7-0.8m-16.7-8.1m48.4 4.2m-1.8 2.2m1.8-4.4m-3.5 7.1m1.5-6.9m0.9-0.3m1.2-2.4m0.5 5.7m-4.2 4.1m-0.8-7.6m-1.8 3.3m6.2 1.5m-3.1 1.4m-2.7-5.5m4.8 7.2m-581.8-39.8m0.6-13.7m0.7 16.1m-2.4-16.1m1.8-2m-2.5 24m1.4-16.1m0.6 17.5m-2.2-25.9m-0.2 3.4m1.7 20.2m0.7-12.6m-1.1-0.2m-0.5 12.5m2.1-0.3m-2.6-7.7m2.4-7.9m0.6 18.3m-0.6-3.5m-0.4 2.6m-2.1-8m2.3-4.2m-1.7-25.1m1.3 34.8m-1.3-28.1m5.6-9.6m0.3 1.9m-0.1 2.1m-0.3 2.6m0.4 1.8m-0.4 2.6m0.1 2.4m0 2.8m0.3 2.4m-0.5 2.2m0.3 1.9m0.1 2.7m-0.1 2m-0.1 2.7m0.4 4m-0.3 4.4m0.1 2.9m2.1-50.9m0.2 2.6m-0.4 2.5m0.1 2.2m0.4 2.5m-0.1 6.1m-0.5 3.2m0.4 1.6m-0.3 2.8m0 4m0.5 3.1m-0.5 1.4m0.4 2.8m-0.2 7.3m-0.2 2m0.1 1.9m0.4-34m-0.5 1.6m0.3 2m0.2 2.9m0.1 2.3m-0.4 2.5m0.2 4m0.2 2.6m-0.2 2m-0.1 2.8m0.2 2.1m0 1.9m-0.2 3m-0.1 2.3m0.1 1.7m2.1-48.3m0.1 2m0.2 3.7m0.1 3.3m-0.5 1.6m0.3 5.4m0.2 1.5m-0.6 2.9m0.6 2.3m-0.1 1.6m-0.4 3m0.4 6.7m-0.2 2.3m0.2 1.7m-0.1 2.5m-0.4 2.9m0.5 2.4m-0.1-47m-0.2 7.6m0.4 1.6m-0.3 3.1m0.2 2.5m-0.4 1.2m0.4 3m-0.1 2m0.1 3m0.1 2.3m0 1.2m0 2.8m0.1 4.6m-0.4 2.1m0 2.1m0.4 2.9m1.8-42.7m0 2.8m0.3 4.5m-0.2 3.8m-0.1 2.9m0.1 2.7m0 1.9m0.3 2m0 4.3m-0.4 3.2m0 2.1m0.1 4.6m0.2 2.4m-0.3 1.4m-0.1 2.6m0.2-37.1m-0.2 2.6m0.1 2.5m0.1 4.9m-0.1 1.8m0.3 2.4m-0.3 2.9m0.4 1.2m-0.3 3.3m0.2 1.6m-0.3 3.1m0.3 1.9m-0.3 1.8m0.5 2.6m2.1-40.4m0 4.6m-0.3 2.5m-0.1 2.2m0.1 2.5m0 2m0 2.5m0.1 3m0.1 2.2m-0.4 1.8m0.3 2.7m-0.2 2m0.1 2.2m-0.1 2.2m0.5 2.6m-0.4 2.5m0.3 2.6m-0.4 2.2m0.1-40m0.4 4.4m-0.3 2.4m0 2.2m-0.1 4.5m0.2 2.3m0.2 2.9m-0.2 2.4m-0.2 2.5m0.4 4.1m-0.4 4.9m0 3.9m0 2.5m2.7-35.7m0 5m-0.5 5m0.5 1.8m0 2.2m-0.4 2.7m0 1.7m-0.2 2.8m0.3 2.2m-0.2 2m0.5 2.1m-0.3 2.9m-0.1 4.1m0.5-34.4m-0.6 5.4m0 1.6m0.6 3m-0.3 2.2m0.1 1.9m-0.2 2.5m0.3 2.6m-0.4 4.6m0 2m0.1 2m0.2 1.9m0 2.8m0.1 1.7m2.3-32.4m-0.3 2.5m0 2.3m0.2 3.8m0 2.1m-0.4 2.4m0 2.5m0 2.5m0.1 4.8m-0.1 2m0.3 1.9m0.2 3m-0.2 2.2m0.2-37.2m0 2.7m0 2.3m-0.5 2.2m0.2 1.7m-0.1 3.1m0 1.8m0.5 2m0 3.4m-0.4 1.8m0.1 2.2m-0.3 1.9m0.1 2.9m0.4 4.7m-0.2 1.7m1.3-21.6m-0.3 2.7m-0.1 2.1m0.4 2.6m-0.3 1.4m0.2 2.4m0 2.2m-0.2 2.5m0.2 2.9m0.1 1.7m-0.1 2.8m0.2 1.7m-0.1 2.4m-0.3 2.9m1.2-16.2m0.2 1.6m-0.1 2.4m-0.2 6.8m0.2 2.6m0 2.8m-0.3 1.8m0.2 2.7m0 2m0.3 2.2m0.1 3m-0.3 4.2m2.2-34.4m-0.3 2.5m0.3 1.5m-0.2 3.3m0.1 2.1m-0.1 1.5m0.2 3.2m-0.2 2.2m0.1 1.5m0.4 2.3m-0.2 3.2m0.2 4.3m-0.3 2.4m-0.2 1.7m0.4 4.8m0.1-36.9m-0.1 2.3m-0.2 2.9m0.1 1.3m0.1 3.4m0.1 4.5m-0.3 1.7m0 2m0.3 2.7m0 2.7m0 2.3m-0.1 4.7m0 1.7m-0.3 2.5m0.4 2.1m2.3-43m-0.6 4.7m0.3 1.7m0.2 2.9m-0.3 1.6m0 2m-0.1 2.4m0.3 2.4m-0.2 3m0.2 4.7m0.1 2.2m0 2.1m-0.2 2.6m0 1.8m-0.1 6.8m0.4-44.3m-0.3 7m0.3 3.1m-0.4 2.3m0 2.4m0.1 4.4m0 4.2m-0.1 2.5m0.3 1.9m0.1 6.9m-0.1 5.4m0.1 1.5m-0.2 3.2m2.3-39.2m0 1.7m-0.2 2.6m-0.2 1.7m0.4 3.2m-0.3 2m0.3 2.8m-0.1 2m0.1 2.3m0.1 2.6m0.1 1.7m-0.6 2.7m0.3 4.4m-0.1-35.1m0.3 2.5m-0.3 2m0.1 2.8m0.1 2.2m0.3 4.7m-0.3 1.9m-0.3 2.9m0.2 4.3m0.2 2.3m0.1 2.5m0 2.5m-0.1 2.5m2.1-32.6m-0.1 7.1m0.1 2.1m0.3 2.1m-0.5 1.8m-0.1 4.9m0.3 2.3m0 5.3m0 1.6m0.1 2.8m-0.2 1.9m0.1-29.3m0.2 1.3m-0.4 3.3m0.1 1.4m0.3 3m0.1 6.2m-0.4 5.4m0.1 1.5m2-28.6m0.4 2.9m-0.3 1.8m0.5 4.8m-0.4 4.5m0.4 3.2m-0.5 1.3m0.1 3m0.1 2.2m-0.1 2.4m0.1 2.4m-0.1 4.7m0-30.7m0.4 5.1m-0.5 2.3m0.4 2m-0.2 2.8m0 6.2m0.3 2.8m0 2.5m-0.1 3.8m2.3-26.8m-0.4 5.5m0.4 2m0 1.7m-0.5 2.6m0.5 2.5m-0.4 2.6m-0.1 2m0.1 2.5m0.1 2.6m0.1-20.7m0.3 1.9m-0.1 1.9m-0.4 3.3m0.4 1.2m-0.2 2.5m-0.2 2.6m0.5 2.8m-0.2 1.8m0.1 2.1m2.3-30m-0.2 2.6m0.2 2.5m-0.4 2.8m0.4 1.9m-0.1 4.5m-0.2 1.8m0.2 5.4m-0.1 2.4m0.1 6.6m-0.3 1.8m0.2-31.9m-0.1 5m0.4 2.4m-0.2 2.3m0 1.5m-0.2 2m0.2 2.9m-0.1 5m0.1 2.2m-0.1 2m0.4 1.9m-0.6 5m2.7-29.9m0 2.7m-0.1 1.1m-0.2 3.5m0.1 1.1m0.2 3m-0.5 1.8m0.5 2.2m0 5.1m0 2.2m-0.5 2.8m0.4 3.9m-0.2 2.8m0.3-25.3m-0.3 6.4m0.2 3.1m0 2m-0.1 2.2m-0.2 2.2m0.4 2.1m-0.3 2.1m0.1 2.6m2.3-26.9m-0.2 1.3m0.1 2.3m0 2.6m0.3 2.2m-0.4 2.4m0.1 4.4m-0.2 3.1m0.1 2m0.2 2m0.1 2.8m-0.3 2.2m0.1-30.2m-0.1 2.6m0.1 4.6m0.1 2.3m-0.1 1.6m0.5 3.3m-0.3 1.8m0.1 2.3m-0.3 2.8m0.1 1.4m-0.2 2.9m0.3 2.7m0.1 2.1m-0.2 1.4m2.4-36.3m-0.4 4.4m0.5 3m0 2.4m-0.3 2.2m-0.2 1.9m0.5 7.4m-0.2 2.6m0.2 1.8m-0.2 2.2m-0.1 2.3m-0.1 2m0.2 2.5m0.2-36.8m-0.1 1.8m-0.1 4.7m0.2 2.9m0 1.6m-0.2 2.4m0.2 2.8m-0.3 2.3m0.3 2.2m-0.3 1.6m-0.1 3.4m0.4 2.3m-0.3 1.5m0.3 2.8m-0.2 1.7m2.5-28.8m-0.4 3.2m0.1 2.2m-0.1 4.5m-0.1 2.5m0.2 1.9m-0.2 2.1m0 2.3m0.2 2.6m-0.1 1.5m0.2 2.7m0.2 3m-0.2 1.9m-0.3 2m0.3-39.1m0.3 4.4m-0.4 2.8m-0.1 2.5m0.1 2.3m0.4 1.4m-0.4 3m0.4 2.2m-0.1 1.8m0 2.7m-0.2 4.3m-0.2 2.2m0.2 2.8m0.2 2.3m-0.1 4.5m0.2 2m1.7-32.7m0 1.9m0.1 2m0.1 2.4m0 4.3m0.2 2.6m-0.3 2.7m0.4 1.8m-0.5 2.1m0.4 5m-0.3 1.9m0.3 2.4m-0.4 2.7m0.3 1.9m-0.3 2.5m0.1 4.9m0.2-38.7m0.2 1.7m0.1 2.9m-0.5 2m0.5 2.8m-0.4 2.1m0.3 1.9m0.1 2.2m-0.1 2.4m-0.3 2.8m-0.1 1.6m0 2.6m0 1.9m0.5 3.1m-0.1 6.1m1.8-40.6m0.3 2.2m0.1 1.9m-0.2 1.9m0.2 5.4m0 1.8m-0.3 2.9m0.2 1.8m0.1 2.6m-0.3 4.1m0.2 2.4m-0.3 2.9m0.1-28.4m0.2 2.4m-0.1 2.4m0.3 2.1m-0.1 2.7m-0.3 2.5m0.5 2.3m-0.1 1.9m0.1 2m-0.3 2.7m-0.1 2.7m-0.1 1.5m0.1 2.7m2.6-30.3m-0.1 2.8m0 4.3m-0.3 2.6m0.1 2.2m0.1 2.5m0 2.4m0.1 2.4m-0.3 1.4m-0.1 2.8m0.1 2.3m0.3 2.6m-0.3 1.4m-0.1 3.1m0.5 1.7m-0.1 2.6m-0.3-36.2m0.2 4.4m0 1.6m0.3 2.6m-0.2 2.4m-0.2 2.4m-0.1 2m0.3 7.3m-0.1 1.7m0.2 3m-0.1 2.2m-0.3 2m0.3 2.2m0 2.2m1.9-31.7m0.5 1.4m-0.3 2.5m0 2.6m0.1 2.2m-0.1 4.5m0.1 5.3m0.1 1.6m-0.4 2.5m0.2 5m-0.2 2m0.4-29.9m-0.1 2.9m0.1 2m0.2 1.6m-0.1 2.2m-0.4 2.9m0 2m0 2.2m0 3.1m0.1 1.6m-0.1 2.9m0.5 1.9m2.1-29.6m-0.3 2.2m0.1 2m-0.1 2.3m-0.1 3m0.1 1.4m0.1 3.1m0 2.5m0.3 2.3m-0.1 6.5m0.1 2.4m-0.2 1.6m-0.3 2.5m0.1 2.5m0.2-32m-0.2 1.7m0.2 4.8m0.2 2.7m-0.1 2.1m0.2 2.9m0 1.7m-0.4 2.6m0.4 2.4m-0.1 4.2m-0.2 2.7m0.2 2.1m-0.4 2.2m2.2-36.5m0.4 1.8m-0.3 2.2m-0.2 2.5m0 2.8m0 2.4m0.2 1.2m0.3 3m-0.3 1.9m0.4 5.4m-0.1 1.2m0 3.1m0 1.7m-0.3 2.6m0.3 2.5m-0.1 2.3m-0.1-32.2m0.2 4.9m-0.1 1.8m-0.1 1.8m0.3 2.5m0.1 2.2m-0.3 2.5m0.2 7.3m0.1 1.7m-0.3 2.1m0 3.4m0.2 2.1m-0.3 1.8m0.1 2.7m2.1-42m-0.1 2.8m0.3 3m0 1.8m-0.1 1.9m-0.2 2.7m0.2 2.1m0.2 2.8m-0.4 2m0 7.3m0.1 2.3m0.4 1.5m-0.3 2.4m0.1 2.3m0.2 2.6m-0.2-39.3m0 7m0.1 2.6m-0.2 2.3m0.3 1.2m0 2.6m-0.3 2.9m0.2 1.8m0.2 2.8m-0.3 4.2m0.2 2m0 3.2m-0.3 1.8m0.3 4.5m1.9-35.1m0 3m0.3 4.3m0 2.7m0.1 2.3m-0.6 2.4m0.1 2.1m0.3 2.4m0.1 4.7m-0.1 2m0 1.8m-0.1 2.2m0.3 2.4m-0.2 2.2m0.1 2.5m-0.3 2.8m0.1-38.6m-0.1 2.1m0.3 1.5m0 3.2m-0.1 1.3m-0.1 3.2m0.3 2m-0.4 2.2m0.1 2.7m0 1.7m0.2 2.6m0.2 2.8m-0.2 2.2m-0.2 1.4m0.3 2.4m0.1 2.7m-0.1 2.8m-0.4 2m2.4-44m0.3 13.7m-0.1 4.9m0 5.1m0 1.6m-0.2 2.5m0.2 2.7m0.1 1.7m-0.3 2.7m-0.1 6.3m0.1 2.9m0.4-37m-0.4 6.8m0.4 2.4m-0.6 1.8m0.5 3.2m0 1.7m-0.2 1.9m0.1 3m0.2 2.5m-0.5 2m0 1.7m-0.1 3.1m0.2 1.9m-0.1 2m2.6-38.7m-0.4 7.4m0.2 1.9m-0.1 1.8m-0.2 2.5m0.5 2.7m-0.3 2.3m0.2 1.8m0 2.9m0.2 3.6m-0.3 5.1m0.3-29.7m0 2m-0.5 2.3m0.5 2.8m-0.1 2.3m-0.1 2.2m-0.2 2m0 2.3m0.3 2.1m-0.3 3m0 1.7m0.1 3.1m0.3 4.3m1.9-34.6m0.1 3m0.2 1.6m0 2.2m-0.4 2.4m0 2.2m0.2 2.4m0.2 2.8m0.1 2.4m-0.3 1.7m0.2 2.6m0.1 2.7m-0.2 1.5m0.1 2.4m-0.1 2.1m0.1-34.9m-0.3 2.4m0 3.1m0.3 2.3m-0.3 2.2m0.5 1.8m0 2.3m-0.3 7.6m0.2 2.1m-0.1 1.5m0.1 5.4m-0.1 1.9m2.1-30.2m-0.2 3.3m0.2 2.5m0.1 6.6m-0.4 2.5m0.4 2.2m-0.4 2.4m0 1.4m0.1 4.6m0.3 4.6m0.2 2.1m0.1-40.6m-0.2 4.2m-0.1 5m0.2 1.8m-0.4 2.4m0.2 2.8m0 2.4m-0.3 1.5m0.1 2.4m0.5 2.4m-0.2 4.9m0 1.7m0 3m-0.2 2.3m0.4 1.5m-0.5 3m2.5-39.1m0.1 2.3m-0.2 2.1m0 2.3m0 2.3m-0.3 5m0.3 2.1m-0.2 1.6m0.2 7.3m0.2 2.9m-0.3 2.2m0.1 1.9m0.2 2.9m-0.1 4.7m-0.3-46.5m0.5 2.2m0 2.7m-0.4 1.8m0 2.7m0 1.5m0.2 2.4m0.2 2.1m-0.3 3.3m0.2 3.6m0 2.9m-0.4 1.7m0.1 2.5m0.4 2.5m-0.2 2.1m-0.2 2.2m0.4 2.2m-0.4 2.4m0.1 2.9m2.5-37.5m-0.1 4.8m-0.3 2.9m0.3 1.8m-0.3 1.9m0.3 2.8m0 2.2m-0.2 2m0.1 2.4m-0.1 2.3m0.3 2.9m0 2.1m-0.5 1.7m0.3 3.1m0 1.6m0.3-36.8m-0.3 3.2m-0.1 1.5m0.5 2.8m-0.4 1.9m0.4 2m-0.4 2.5m0.4 2.3m-0.2 2.8m-0.3 2.6m0 1.5m0.2 2.7m0.2 2.2m0 1.7m-0.4 3m0 2m0.3 2.1m0.1 2.6m1.8-43.9m0.1 5.1m0 2.6m0 2.4m0.3 2.1m0 2.1m-0.4 1.7m0.1 5.2m0.2 2.6m0.1 1.7m-0.1 2.8m-0.2 1.6m0.1 3.1m-0.1 1.9m0.3 2.2m-0.3 2.9m-0.1-35.4m0.5 5m-0.2 2.1m-0.3 2.9m0.1 2m0.4 2.4m-0.5 4m0.1 2.7m0 2.3m0.1 4.5m0.4 2.7m-0.4 2.2m0.3 1.9m2.2-25.2m0 1.6m-0.1 3.1m0.2 2.1m-0.5 1.6m0.1 2.5m-0.2 3.1m0.3 1.8m0 2.1m0.2 6.6m-0.3 2.4m0.4 3.1m-0.5 3.7m-0.1 2.9m0.4 2.3m0-41.2m-0.3 2.3m0.1 2.8m0.4 4.1m-0.4 2.6m-0.1 4.1m0.3 2.1m-0.1 3.2m0 1.4m0.3 4.5m-0.1 3.4m-0.2 4.6m0.4 1.4m0 2.3m2.1-39.3m0.1 2.6m-0.3 2.3m0.1 2.1m0 4.9m-0.4 3.1m0.3 2.1m-0.2 6.5m0.3 5m-0.1 2.3m0.2 1.3m-0.3-36.4m0.1 1.8m0.2 2.5m0.1 3.2m-0.5 4.4m0.2 1.4m-0.1 3m-0.1 4.8m0.1 1.9m0.1 4.7m0 2.6m0.3 1.6m-0.1 2.7m2.1-27.5m0 2.2m-0.1 1.7m0.1 3.2m-0.1 3.8m0.2 2.3m0.2 2.5m-0.2 5.2m-0.2 2.4m0 1.7m0.2 2.8m-0.4 1.3m0.2 2.3m0.5-34m-0.3 2.2m-0.3 2.3m0.5 2.6m-0.3 2.4m-0.2 2.5m0.3 1.9m0.3 2.9m-0.2 3.7m0.1 2.9m-0.3 1.8m-0.2 4.7m0 3.1m2.6-34.6m0.1 1.5m-0.5 3.1m0.3 1.6m-0.3 2.4m0.6 2.4m-0.1 2.5m0 5.1m-0.1 1.4m-0.2 3.2m0 1.3m0.2 5m-0.2 2.2m0.2 2.9m0-33.3m-0.1 2.4m0.2 3m-0.3 2.3m0.2 1.7m-0.1 2.3m0.3 2.8m-0.4 4.4m0.1 2.4m0.3 2.3m-0.2 2.6m0.3 4.6m-0.6 1.6m2.5-32.7m-0.1 2.6m-0.1 2.3m0.1 2.4m-0.2 2.9m0.3 1.3m0.2 2.9m0 2.8m-0.2 1.9m-0.1 2.4m0.1 2.3m-0.3 1.5m0.5 3.4m-0.1 1.4m-0.3 3.1m0.4 1.8m-0.2 4.9m-0.1 1.6m-0.1 2.4m0.3 2.9m0.1 2.4m-0.2 1.6m-0.2 2.2m0.4 3m-0.4 2.2m0.4-53.1m-0.1 2.4m-0.1 4.9m0.4 2.5m-0.2 2.2m-0.3 6.8m0 2.5m0.3 2m0 2.6m-0.3 6.8m0.4 2m-0.5 2.4m0.2 1.8m-0.2 2.4m0.2 2.7m0 1.9m0.1 3.3m-0.1 1.5m0.1 2.9m-0.3 1.6m2.5-56.5m0 2.1m-0.3 2.5m0.3 1.2m-0.1 3m0.3 2m0 2.1m-0.2 3.2m-0.2 2.1m0.1 2.2m0.2 1.6m0.1 5m-0.4 4.2m-0.1 2.3m0.5 4.6m-0.3 2.2m0.3 3.1m-0.2 2.4m-0.3 4.7m0.1 1.4m0.2 2.7m0.1 4.7m-0.1-57.7m0.2 2.8m-0.1 2.4m-0.3 4m0.4 1.9m0.2 2.1m-0.6 3.2m0.5 1.7m-0.5 4.4m0.2 3.4m0.2 1.2m-0.1 2.3m-0.1 2.6m0.2 2.1m-0.4 2.4m0.5 3.2m-0.5 2.1m0.2 2.5m-0.2 1.4m0.3 2.8m-0.3 5m0.1 2.2m0.3 2.3m2.1-84.5m-0.2 6.9m-0.1 1.8m0.3 2.4m-0.2 4.9m0.1 2.1m0.4 2.6m-0.3 1.9m0.1 1.9m-0.2 3m0 2.4m-0.1 2.1m0 2.6m0.1 1.7m0.3 3.1m-0.5 2m0.5 2.3m-0.3 2.3m0 2.5m-0.1-49.4m0.5 6.7m-0.4 2.3m-0.1 4.5m0.3 2.5m0.2 2.6m-0.5 2.2m0.3 2.1m-0.1 2.7m-0.2 1.4m0.1 5.3m0.2 4.7m-0.1 2.3m-0.2 2.4m0 1.3m0.5 3m-0.2 4.1m2.3-45.6m-0.4 4.9m0.5 1.8m-0.1 2m0.1 4.9m-0.1 2.6m-0.3 2m0 1.9m0.3 2.2m0.1 2.6m-0.4 2.1m0.4 3.1m-0.1 2.1m0 2.2m0 1.8m0.1 2.8m-0.1 2.2m0.3-40.8m-0.6 2.3m0.4 2m0 1.9m-0.1 2.9m-0.2 1.8m-0.1 2.9m0.2 1.9m0 4.8m0.1 1.8m0.1 2.4m-0.1 8.9m-0.3 2.8m0.2 4.3m2-36.2m0.2 1.7m0.1 2.8m-0.3 4.5m0.3 1.4m0.2 2.7m0 2.1m-0.5 2.7m0 2.6m0.4 4.8m-0.1 2.1m0 2.2m-0.1 1.8m-0.1-32m0.5 2.4m0 2.5m-0.3 2.2m0.1 4.6m-0.3 2.3m0.2 1.8m0.3 4.6m-0.5 2.6m0.4 2.5m-0.2 2.4m0.3 1.9m-0.2 2.5m2.4-34.5m-0.4 2.6m0.3 2.1m-0.3 2.4m0.3 2.5m-0.4 1.7m0.1 2.4m0.1 3.1m-0.1 1.5m0.3 2.7m0 2.5m-0.1 2.2m-0.3 2m0.3 4.2m0.2 2.7m-0.3-37.2m0.4 5.6m-0.5 5.9m0.3 7.3m-0.3 2.4m0 2.7m0.5 1.6m-0.4 2.9m0.2 2m-0.3 2.2m0.4 2m-0.3 3m2.1-34.7m0 2m0.3 4.5m-0.3 2.9m0.2 1.6m0.3 3m-0.2 1.9m-0.3 2.5m0.3 1.5m-0.3 3m0.5 2.3m-0.5 2.7m0.5 1.2m-0.3 2.5m-0.2 2.7m0.4 1.9m0.1-36.5m0 4.9m0.1 2.7m-0.1 4.3m0 2m0 2.5m0.1 1.6m-0.3 2.4m-0.2 3.2m0 2.1m0.2 2.2m0.3 2.1m-0.3 2.2m0.2 5.3m2.1-34.7m-0.2 2.1m0.1 2.5m-0.1 1.9m0.1 2m0 2.4m0 2.7m0.1 2m0.2 2.1m0 2.2m-0.4 2.2m0.2 2.2m-0.1 2.4m0.3 2.7m-0.2 1.9m0 2.2m-0.2 3.1m0.4 2.2m-0.4 2.4m-0.1 1.9m0.2 2.9m0.2 2.2m0-46.1m0.1 1.7m0 3.3m0.1 1.2m-0.5 5.4m0.4 1.4m-0.2 2.4m-0.1 3.1m0.4 2.4m0 2.4m-0.2 1.4m-0.2 2.4m0 3m0.3 1.4m-0.2 3m0.2 2m-0.1 2m0.1 2.2m2.2-10.6m-0.3 2.9m0 1.9m0.4 5.2m-0.2 1.4m-0.3 5.3m0.3 2m0.2-14.1m0 3.9m-0.1 2.5m0.2 5.2m-0.1 2m-0.2 2.1m2.4-17.1m-0.1 2.3m-0.1 2.6m0 1.3m0.2 2.2m0 3.3m0.1 1.7m0 2.5m-0.5 1.7m0 3.3m0.5-21.3m-0.4 2.9m0.3 2.2m-0.3 1.8m0.3 2.1m-0.1 2.1m0 2.5m0.2 5.4m-0.1 2.5m2.4-20.4m-0.4 2.7m-0.1 5m0.2 2.1m0.1 2.3m0 1.4m-0.2 3m0.1 2.2m0.3 2m-0.5 2.1m0.2-24.3m-0.1 8.4m-0.1 2.3m0.4 2.2m-0.2 2.2m-0.1 3.1m0.4 4.7m1.8-21.8m0.5 2.1m-0.5 2.1m0.3 2.4m-0.1 1.7m0.1 5.1m0.2 2.5m-0.2 2m-0.1 2m-0.1 2m0.3 3.1m-0.2 2.2m0.3-22.9m-0.3 1.9m0.1 2.3m-0.1 5.1m0.2 4.9m0.1 2.1m-0.4 2.3m0.1 1.9m0.4 2.8m-0.5 1.7m2.2-30.9m0.3 2.2m0 2.2m0.1 2.8m-0.3 4.6m0.4 2.2m-0.5 1.9m0.5 2.1m-0.5 3.3m0.4 2m-0.3 1.5m-0.1 2.4m0.5 3.1m0 1.5m-0.4 3.1m-0.1-30.8m0.3 3.1m-0.1 1.6m0.2 2.3m-0.4 2.6m0.5 2.6m-0.4 1.5m0.3 2.3m0.2 2.7m-0.2 3m-0.1 2.1m-0.3 2m0.2 2.1m0 2.8m2.3-30m-0.1 1.6m0.2 4.8m0 2.4m0.1 4.8m-0.4 2.8m0.3 1.3m0 2.9m-0.2 2.1m0.2 2.8m0.1 1.2m-0.2 2.4m0.1-31.3m0.2 2.5m-0.4 1.3m0.2 3m0.3 4.3m-0.6 2.3m0.1 2.7m0.1 2m-0.2 1.8m0.3 2.3m-0.1 3.4m-0.1 1.2m0.5 3.1m-0.3 1.8m2.2-29.8m0 1.8m0.3 2.6m-0.1 2.8m-0.3 2.2m0.2 1.5m-0.3 2.7m-0.1 2.9m0.6 2.4m-0.1 2.3m0 1.2m-0.1 3.2m-0.3 2m0.3 1.9m0-27.2m-0.2 1.9m0 3.2m0.4 1.9m-0.2 6.6m-0.1 3m0.2 1.7m-0.1 3m0.3 4.6m-0.3 1.4m2.2-25.5m-0.3 2.4m0.1 4.9m0.3 2m0 3.2m0 1.9m-0.1 1.6m0 2.7m0.2 5.1m-0.2 2m-0.2 4m0.5-29.2m0 1.7m-0.2 3.5m-0.1 2m0.4 1.4m-0.4 3.3m0.2 2.3m-0.4 4.1m0.1 2.1m0.2 2.1m-0.3 3.3m0.3 2.3m-0.1 3.7m2.4-31.4m-0.1 1.3m0 3.2m0.3 2m0 2.5m-0.5 2.5m0.5 2.3m0 1.9m-0.2 1.8m0 2.6m-0.1 2.1m0.2 2.7m0 2.1m-0.2 2.2m-0.2-34m0.2 2.7m0 2m-0.1 2.5m0.1 1.6m0.1 2.2m0.1 2.8m-0.2 2.5m-0.1 1.3m0.2 2.5m-0.3 2.1m0.4 7.5m0.1 2.4m2.2-27.5m-0.3 4.3m-0.2 2.3m0.4 2.1m0 2.3m0.1 2.3m-0.2 2.9m-0.1 1.7m-0.1 3m0.3 1.7m-0.2 2.4m0.4 2.4m-0.6 1.9m0.4 2.2m0.1-29.3m0 2.1m0.2 2.2m-0.5 2.6m0.4 2.1m-0.2 2.2m0.1 2.6m-0.2 2.7m0 1.9m0.4 2.7m-0.5 1.4m0.1 2.9m2.2-28.4m0 3m0.2 6.2m0.1 3.2m-0.4 2.3m0.3 1.3m-0.4 3.1m0.2 1.5m0.4 3m-0.4 2.5m0.1-23m0.3 4.2m0 3m-0.1 2.1m-0.2 6m0.4 7.2m1.9-18.7m0.1 2.7m0.1 2.3m-0.2 2.6m-0.1 2.4m0.2 1.8m-0.2 6.9m0.1 1.9m0.2 2.3m0.1-17.3m-0.4 1.8m0.1 2.3m0.4 2.5m-0.2 6.6m-0.1 2.7m0.1 1.9m1.8-22.5m0.5 4.6m0.1 1.7m-0.1 2.3m-0.3 2.3m0.3 1.9m-0.2 5.3m0.1 2.6m-0.1 1.5m0.2 2.8m-0.1 1.8m0-27.4m0.1 2.4m0 2.3m0.1 2.5m-0.1 2.3m0.2 4.7m-0.1 2.6m-0.5 2m0.3 2.5m0.2 1.7m-0.5 2.1m0.3 3.3m2.1-32.4m-0.2 2.2m0.1 1.7m-0.1 3.4m0.1 1.6m-0.1 2.3m0.4 7.1m0 2.2m0.1 2.1m-0.1 3.1m-0.2 1.6m0 2.8m0.1 1.7m0.1-34.8m-0.2 7m0.4 3m-0.3 1.8m0.1 2.9m-0.1 1.4m0 2.6m0.2 2.4m0 2.5m-0.3 2.2m0.4 2.4m-0.3 1.5m0.2 2.4m0 2.7m2.1-38.5m0.2 2.4m-0.4 2.1m0.2 1.7m-0.1 2.4m0.1 3m0 2.6m-0.1 1.3m-0.1 2.2m0 2.9m0.2 1.7m-0.2 2.4m0 2.6m0.2 2m0.2 2.5m0.1 2.1m-0.1-33.9m-0.2 4.1m0 2m-0.1 2.1m0.1 5.6m0 1.3m-0.1 3.3m0.5 1.5m-0.1 2.1m-0.2 2.5m-0.1 3.2m0.3 2.2m2.1-43.5m-0.4 1.5m0 3.2m0.6 2.2m-0.5 1.9m0.4 2.8m-0.5 2.1m0.4 2.4m-0.1 2.4m0.2 2.1m-0.4 2.2m0.4 1.9m-0.2 3.1m0.2 2m0 2.5m-0.2 1.3m0.1 2.4m-0.2 2.6m-0.1-31.9m0 2m0.4 2.3m0.1 2.7m0.1 2m-0.1 2.5m-0.5 1.6m0.2 2.1m-0.1 2.7m0.3 1.9m-0.1 5.2m0 2.1m-0.2 2.3m0.2 2m0.2 2.1m1.7-51.5m0.2 3.7m0.3 3.1m-0.3 1.5m0.1 3.1m0.2 2.6m-0.5 1.2m0 3.3m0 2.4m0.3 1.8m-0.1 2m0.2 2.7m-0.2 2.6m0 1.9m0.2 4.4m0.1 1.9m-0.3 3.1m0 1.6m0.2 2.8m0.1 1.9m-0.1 2.3m-0.1-41.6m0.2 2.2m-0.1 4.3m-0.2 2.2m0.2 2.7m0 2.6m-0.1 1.5m0.3 2.5m-0.3 2.9m0.3 5m0.1 2m-0.4 2m-0.2 2.8m0.3 1.7m-0.1 2.7m0.2 2.5m-0.4 2.3m2.2-57.7m0 1.8m0.5 3.2m-0.3 1.9m-0.1 2.2m0 2.4m0.2 1.9m0 2.5m0 2.4m0.2 2m-0.2 5.2m0 2.7m-0.3 1.4m0.4 4.9m0 2.5m-0.2 4.7m0.1 8.8m0.2-52.8m-0.4 4.7m0.4 1.9m-0.4 2m0.2 3.1m0.1 2.4m-0.1 1.8m0.3 1.8m-0.4 2.6m0 2m0.2 2.2m-0.2 4.9m0.2 3m0 2m-0.1 2.1m0 4.1m0.2 2.7m-0.1 1.9m0.1 2.4m0.1 2.4m-0.3 2.7m2.2-57.3m0 2.6m0.1 1.9m0.2 4.9m-0.2 2.7m0.2 1.9m-0.5 2.6m0.3 1.7m0 2.3m0.1 5.2m-0.2 2.5m0.3 11.3m-0.2-42.5m0 2.8m-0.2 3.9m0.2 2.8m-0.2 1.7m0.1 5.2m0 2.5m0.4 1.7m-0.5 2.5m0 2.9m0.4 2.3m-0.4 2m0.3 2.4m0.1 2.2m-0.1 2.2m0.1 2.7m1.8-43.8m0.3 2m0.1 2.1m-0.1 3m0.2 2.3m-0.1 4.2m0 2.3m-0.2 5m0.3 1.8m-0.5 5m0.2 1.8m0.2 2.9m-0.4 2.1m0.4 2.3m-0.1 4.9m-0.2 1.4m0.2-42.8m-0.2 2.3m0.5 2.3m-0.5 1.7m0.2 2.7m0.3 1.6m-0.1 2.3m-0.3 2.5m0 2.8m-0.1 6.5m0.3 2.9m-0.2 3.9m0.1 2.8m-0.1 2m0.1 6.5m2.2-42.7m0.1 1.9m0 2.1m0 2.6m0.1 1.9m-0.2 2.2m0.2 2.6m0 1.7m0 2.3m-0.1 3.4m-0.1 1.6m0.2 2.4m0.1 2.7m-0.1 1.9m-0.2 2.9m0.1 3.6m0.2 2.4m-0.4 2.9m0.2 2.4m0.2 2m-0.3-49m0.2 2.7m0.1 2.3m-0.4 2.6m0.1 2.4m0.4 2.1m-0.4 4.8m0.1 2.3m0.2 1.7m0.1 7.8m-0.4 1.4m-0.1 2.3m0 2.8m0.4 1.9m-0.3 2m0.1 2.6m2.5-37m-0.5 2.8m0.2 2.4m0.1 2m0.1 2m0 2.6m-0.3 1.9m0.1 2.8m-0.1 1.9m0.1 2.2m-0.1 4.6m0.3 2.2m0 5.1m-0.4 2.1m0.5 5.3m-0.3 4.6m0.2-48.6m-0.2 2.4m0.3 2.6m-0.4 1.9m0 2.5m0.1 1.7m0.4 2.5m-0.4 2.4m0 2.5m-0.1 1.7m0 2.8m0.3 2.7m0.1 1.4m0 7.4m-0.4 2.2m0.4 2.8m0.1 1.7m-0.3 2.5m2.5-45.8m-0.2 2.6m0.2 1.4m-0.2 3.1m0.2 1.7m-0.2 2.5m-0.1 2.9m0.2 1.9m0.1 2m-0.4 2.8m0.1 1.6m-0.1 2.8m-0.2 1.7m0.6 2.4m-0.3 3.2m0.3 1.4m-0.2 5.6m0.2 1.6m-0.1 7.6m0.2-49.1m-0.5 2.1m0.5 5.2m-0.4 1.4m0.3 3.4m0.1 4m0 2.7m-0.4 1.5m0 2.4m0 2.3m-0.2 4.4m0.1 2.9m0.2 2.4m-0.1 2.6m0.4 4.7m-0.2 1.7m-0.2 4.6m2-50.7m0.3 4.9m0.1 5m0 6.6m0 1.9m-0.2 2.1m0.2 2.3m-0.2 2.5m0.4 2.5m-0.3 2.3m0 2.3m-0.2 1.9m0.1 2.1m0.2 2.4m-0.1 2.9m0.2 2.4m-0.1 1.8m0.3-46.2m0 2.2m-0.3 3.1m0.3 1.8m-0.4 2m0.2 3.3m-0.2 2.3m0.1 1.3m-0.1 3m0.1 2.5m-0.1 1.9m0.3 2.6m-0.3 2.2m0.4 2.2m-0.2 2.2m0 2.5m-0.1 5m0.1 1.5m-0.1 2.5m2.3-38.9m-0.2 1.5m0.2 2.8m0 1.8m-0.1 3.4m0 1.5m0.1 2.9m-0.3 1.7m0.4 2.4m-0.5 4.4m0.1 4.7m0.2 2m-0.1 4.6m0.4 3.1m-0.4-34.2m0.1 1.8m0.2 4.3m0.2 4.8m-0.4 2.3m0.2 12.1m0.2 2.2m-0.4 2.2m0 1.7m0.4 3.3m-0.3 2m0 2m2.1-41.4m0 2.6m0.4 2.2m-0.3 2.4m-0.1 1.8m-0.2 2m0.4 2.6m-0.1 2.2m0.2 2.8m0 2.3m0 2.5m0.1 1.7m-0.1 1.9m-0.4 3m0.2 1.8m0.1 2.3m-0.3 2.9m0.4 2.1m-0.2 4.6m-0.1 1.9m0.3-38.2m-0.1 1.5m0.2 2.5m-0.4 2.3m0.4 5m-0.1 1.7m0 3.1m-0.2 2.2m0 2m-0.1 2.6m0.4 1.5m-0.3 3m0.1 1.8m-0.2 2.7m0 1.9m1.2 9.2m-0.1 2.3m0.3 2.2m0.1 2.4m-0.4 2m0.5 2.2m0.8-17.7m0.2 3.9m-0.2 2.4m0.2 2.7m0 2.2m-0.4 4.8m0.2 2m0 2.8m0 2m-0.1 2.6m0.5 2.5m2.1-30.8m-0.1 4.5m0.1 2.9m0.1 2.6m-0.2 1.8m-0.2 2.1m0 2.3m0.2 5.3m-0.3 2.5m0.1 4.5m-0.2 1.7m0.3 3m0.2 2.3m0.1 1.2m-0.4-33.9m0 1.9m0.2 2m0.3 2.6m-0.3 3m-0.1 2.1m-0.1 1.9m0 1.9m0 2.3m0 2.6m0.3 2.3m-0.2 2.7m0.2 1.6m-0.1 4.8m-0.1 2.8m2.3-30.4m0 3m0.2 1.6m-0.3 2.7m0 2m-0.1 2.9m0.2 2m0.3 1.7m0-15.3m-0.4 2m-0.1 2.7m0.3 1.7m0.3 2.7m-0.2 2.2m-0.2 4.2m0 3.2m0 2.3m2.1-18.8m0.4 1.6m-0.5 4.7m0.2 5.3m0 2.2m-0.1 2.5m0.1 1.8m0.1-16m0.2 6.5m-0.3 2.8m0.4 7.1m0 1.8m2-16.4m0.2 2.7m0 4.1m-0.1 3.2m-0.1 2.2m-0.1 2.4m0.1 1.3m0 2.5m0.4-17.6m-0.3 2.6m-0.1 1.3m0 2.9m0.3 2.1m-0.4 2.4m0.2 1.8m0 2.3m2.3-16.1m-0.4 2.8m0.2 1.8m0.2 5.4m0 1.8m0 1.9m-0.3 2.8m0.2 2.5m0.1-20.3m0.1 2.1m0.2 2.5m-0.1 1.3m-0.1 2.8m0.1 2.1m-0.1 2m-0.2 2.6m0.2 2.6m0.1 2.4m2.1-14.7m0 3.3m-0.3 1.8m0.3 1.9m-0.3 3m0.4 1.9m-0.3 2m0-15m0.1 2.2m0.2 4.2m0 2.4m0.1 4.8m0 1.7m2.2-15.7m-0.1 4.9m0.1 4.3m-0.4 2.2m0.1 6.5m0.1-19.8m0.1 1.5m-0.3 2.8m0.6 1.8m-0.6 3.1m0.5 2m-0.1 1.9m0.1 2.6m-0.5 2.3m0.1 1.6m0.3 2.6m2.2-34m0.1 2.8m-0.5 2m0.2 4.9m0.3 2.6m-0.5 2.4m0.4 1.5m-0.4 5.5m0.1 2.2m0.3 1.3m0.1 2.3m-0.5 2.9m0.5 2.2m0 2.9m-0.3 2.1m0.3-42.7m-0.2 5.1m-0.1 1.7m0.3 2.9m0.1 1.8m-0.5 2.4m0.1 2.8m0.1 2.2m0.2 2m-0.4 2.6m0.4 2.5m0.1 2.3m-0.2 1.5m-0.3 2.2m0.2 2.9m0.3 4.9m-0.2 1.5m1.9-54.8m0.5 3.3m-0.5 2.3m0.2 2.1m0 1.7m0.2 3.2m-0.3 1.8m0.2 2.3m-0.2 2.2m0 2.4m0.2 2.1m0.3 4.5m-0.3 3m0 1.9m-0.1-33.3m0.4 5.1m-0.4 2.8m0.1 2.1m0.4 2m-0.1 2.2m-0.2 2.2m0.1 2.3m-0.2 2m0.2 3.1m-0.3 2m0.3 2.4m-0.3 1.7m-0.1 2.5m2.3-27.6m-0.1 3.3m0.3 1.2m0.1 4.8m-0.3 2.6m0.2 2.6m-0.2 2m0.1 2.1m-0.1 2.8m0.3 2.2m-0.1-25m0.3 1.3m-0.4 2.4m0.1 2.8m0.3 1.7m-0.3 3.1m-0.1 2.4m0.3 1.8m0.1 2.6m-0.3 4.8m2.1-28.4m0.1 2.6m-0.2 2.2m0 2.5m0.5 5m-0.5 1.4m0.5 2.6m-0.1 2.6m-0.3 2.3m0.3 2.7m0.1 1.6m-0.3 2.9m-0.1-30.9m0 4.7m0.6 5.1m-0.4 4m0.2 3m-0.3 2.3m0.5 4.5m-0.5 2.5m0 3.9m2.5-29.7m-0.2 2.2m-0.2 2.1m0 2.9m0.2 4.5m0 1.9m-0.1 2.5m-0.1 2.8m0.3 2.3m0.1 2.4m-0.3 1.5m0.1 2.6m0.4-27.1m-0.4 2.4m0.2 2.3m-0.1 2.4m0.3 2m-0.5 1.4m0.5 5.8m0 1.4m-0.4 3.2m0.2 4.4m0.2 1.8m2.2-30m0 2.7m0 2.1m-0.1 2.3m0.1 2.9m-0.1 4.2m-0.3 2.2m0.3 2.6m-0.4 1.6m0.4 2.5m-0.1 2.7m-0.2 1.9m0.4 2.4m-0.3-32m0.4 1.7m-0.5 2.3m0.4 3.2m-0.4 1.7m0.1 2.5m0 2m0.2 4.6m0.1 1.9m0.1 3.1m-0.5 2.5m0.2 2.1m-0.1 2.3m2.6-27.3m-0.1 3.9m-0.2 3.2m-0.1 2.2m0.1 4.5m-0.2 1.4m0.1 3.3m0.4 1.8m-0.3 1.8m0.3 3.4m-0.3 4.4m-0.2 1.6m0.4 2.9m-0.2-37.7m-0.1 4.8m0.1 2.5m-0.1 2.4m0.5 1.7m-0.5 3m0.2 2.8m0.2 1.9m0 2.7m0.1 1.5m-0.1 2.9m-0.3 1.9m0.2 2.9m-0.1 1.4m0.1 3.2m0 2m2-43.3m0.3 6m-0.4 2.6m0.4 3m-0.1 1.6m-0.2 1.8m0.3 3.3m-0.2 1.8m-0.1 3m0.1 1.8m-0.1 2.1m0.4 2.9m-0.3 1.5m0 4.3m0 2.3m0.1 2.9m-0.3 2.1m0 2.6m0.3 2.5m0 2.2m0.2-46.1m0.1 1.5m-0.2 5.5m0 1.4m0.2 2.5m-0.5 3.2m0.5 1.5m-0.4 2.6m0.2 2.3m0.2 1.7m-0.1 3.4m-0.3 2.3m0.2 1.9m0.2 2.6m0 1.6m-0.5 2.7m0.5 2.3m0 1.7m2.3-43.8m-0.1 7.4m-0.4 1.8m-0.1 2.4m0.2 2.9m-0.1 2.1m0 1.9m0.1 2.5m-0.1 2.2m0 2m0 7.4m0.3 2.8m-0.2 2.2m0.2 3.8m-0.2 5.3m-0.2 2.1m0.2 2.7m-0.1 1.5m0.2-50.2m0 4.7m-0.1 2.3m0.1 4m0 2.4m0.1 2.6m0 1.9m0 3m-0.2 1.9m0.1 2.6m0.1 2.2m0.1 2.7m-0.2 6.2m0 2.4m0.1 2.8m-0.3 1.7m0 3.1m2.5-39.7m0.1 4.5m0 4.3m-0.1 2.2m0.2 4.7m-0.2 2.3m-0.3 4.6m0.2 2.6m0.2 2.2m0 2m-0.4 2.3m0.5 2.7m0 1.7m-0.1 5.5m-0.3-43.7m0.3 4m0 2.4m-0.3 3.2m0.5 2.3m-0.1 3.6m-0.4 4.7m0.2 3.2m-0.1 2.2m0.2 1.8m0.2 2.6m-0.2 4m0.2 2.8m-0.3 2m-0.1 2.1m-0.1 3m0.4 4m1.9-65.5m0 2.6m0.4 2.2m-0.3 2.2m0.3 2.3m-0.3 4m0 2.2m-0.2 2.6m0.3 7.2m-0.2 2.4m0.2 1.7m0 2.4m0.2 3.2m-0.2 2.1m0-35.8m0 2.4m-0.1 2.5m0.2 4.5m0 2.1m-0.1 2.5m0.3 2.4m-0.3 2.5m0.3 1.9m-0.1 2.4m-0.4 4.7m0.1 2.8m0 1.5m0 2m2.6-40.4m0 1.9m-0.3 4m-0.1 3.3m0.4 1.7m-0.1 3m-0.2 1.5m-0.2 2.3m0.4 2m-0.2 2.4m-0.1 3m0.4 1.8m-0.5 2.2m0.1 3.2m0.1 2.1m-0.2 2.4m0 1.5m0.3-36.9m-0.1 2.4m-0.1 2.4m0 3m0.3 1.4m0.1 3.2m0 1.4m-0.1 2.2m0.1 2.5m-0.2 2.9m0.2 1.5m-0.4 2.3m0.5 5.5m1.9-32m0.3 3.9m-0.4 2.6m0.3 2.8m-0.3 1.2m0 3.3m0.3 4.4m-0.2 2.6m0.1 2.3m0.1 1.8m-0.4 2.4m0 2.6m0.3 4.1m-0.3 2.1m0.3-34.3m0.1 3.9m0 5.3m-0.1 2.1m0 1.8m0.3 2.9m-0.3 1.8m0.1 2.3m-0.3 3m0.5 1.5m-0.5 2.9m0.5 2.7m-0.1 1.8m-0.2 2.9m2.4-42.1m-0.3 2.2m0.3 2.5m0.1 4.4m-0.2 3m0.2 4.6m-0.4 2.8m0.1 1.3m0.3 5.4m-0.1 1.5m0 2.2m-0.4 2.4m0.4 2.9m0.1 1.7m0-43.2m-0.3 2m0.2 2.2m0.1 2.7m-0.4 1.6m0.4 2.7m-0.3 4.5m0.1 2.6m0.2 2.1m-0.2 2.6m0.2 2m-0.2 4.1m-0.1 2.9m-0.2 2.2m0.2 2.4m0 2.3m-0.1 2.5m2.5-25.8m0.2 2.5m-0.3 1.7m0.2 3m-0.4 2.6m0 4.3m0.2 1.9m-0.2 2.7m0.2 2.4m-0.2 1.7m0.1-31.8m0.5 2.6m-0.2 1.6m0.1 2.3m-0.1 2m-0.3 3.2m0 1.6m0.4 5.1m-0.4 4.8m-0.1 2.5m0.3 1.8m0.1 1.8m-0.1 2.3m0 5.3m2.5-46m-0.2 1.9m0 2.1m0 3.3m0.1 1.4m-0.5 2.1m0.6 2.3m-0.5 2.8m0 2.8m0.3 1.5m-0.3 2.3m0.2 5.2m-0.2 4.6m0.3 1.9m-0.3 2.5m0.5 2.6m-0.3 2.1m-0.1-39.9m0.3 5.7m0 6.8m-0.2 1.8m0.4 2.5m-0.1 1.8m-0.5 2.8m0.3 2.3m-0.2 2.3m0.2 2.7m0.2 1.3m-0.4 2.4m0.1 2.3m0 4.5m2.4-36.4m-0.1 2m0.2 2.2m-0.1 3m0 2m-0.4 2.3m0.2 4.8m0.1 4.9m-0.1 2.1m0 2.5m0.4 1.9m-0.3 4m0-29.7m0.1 5.3m0.1 1.5m0.1 2.8m-0.1 1.9m0 3.3m0 1.7m-0.3 2.1m0 2.3m0.4 3.1m-0.2 4.1m2.3-31.9m0.2 3.9m-0.1 2.8m-0.2 2.5m0 2.5m0 1.8m0 2.7m0 1.9m-0.3 2.2m0.2 2.7m-0.1 4m0 2.9m0.2 1.6m-0.2-32.3m0.5 2.9m0.1 1.7m-0.2 2.8m-0.4 1.8m0 7.4m0.5 2.7m0 2.1m-0.3 2.3m0.2 1.9m-0.1 4.9m0.1 1.5m2.3-26.9m-0.3 2.2m0.1 2.4m-0.1 1.7m0.2 2.2m0 4.9m-0.4 5m0.5 2.3m-0.1 2.3m-0.3 2.3m-0.1 1.7m0.1 2.7m0.1 2.6m-0.1 2.1m0.5 4.2m-0.4 2.3m0 2.6m0.4-48.1m-0.5 2.6m0.2 1.6m0.4 3.1m-0.1 1.7m-0.4 2m0 2.5m0.1 2.9m0.1 2.3m0.1 1.9m0.1 2.6m0.1 2.1m-0.5 1.6m0.3 2.5m0 2.5m0.1 2.6m-0.1 2.4m0.2 2.1m-0.6 2m0.3 2.6m0.1 1.7m0 2.3m2.3-44.9m-0.2 1.9m-0.2 2.7m0.4 2.4m-0.1 1.5m-0.2 3m0 2.4m0.4 2m-0.4 2.7m0.2 1.6m-0.3 2.2m0.4 2.1m-0.1 2.7m-0.1 5m-0.1 1.9m-0.2 1.8m0.5 2.4m-0.2 2.9m-0.1 1.9m0.3 2.3m-0.4 2.5m0.1 1.8m0.1 2.6m0.2 2m-0.1-59.2m-0.1 2.6m0.1 1.4m0.3 2.4m-0.4 2.6m-0.1 2m0.4 3.1m0 1.5m-0.4 3.1m0.3 2.1m-0.1 2.2m0 1.8m-0.2 3.2m-0.1 1.3m0.3 3.3m0.2 4.6m0.1 1.5m-0.2 2.8m0.1 1.8m-0.1 3m0 2.2m0 1.5m-0.2 2.9m0.2 1.6m-0.2 2.8m0.4 2m-0.1 2.7m1.9-64.7m0.3 5.4m0.1 2.3m-0.4 8.8m0 2.2m-0.1 2.6m0.3 1.9m-0.2 1.9m0 2.4m0.1 3.2m0 1.7m-0.2 2.1m0.5 2.7m0 2.5m-0.4 1.4m-0.1 3.3m0.4 2m-0.5 2.3m0.3 2.5m0 2m-0.2 2.4m0 1.9m0.2 7.1m-0.1 2.6m0.4 1.8m0 2.2m-0.3 2.5m0-68.5m-0.2 1.6m0.2 2.4m0.2 1.9m0.1 3.3m-0.4 2.1m0.3 1.8m0.1 2.6m0.1 2.8m-0.2 1.6m-0.3 2.4m0 2.6m0 2.6m0.2 1.8m0.3 2.6m-0.1 4.8m-0.4 3.6m0.3 2.3m-0.2 3.1m0.2 2.5m-0.2 2.1m0.3 2.6m-0.2 1.3m-0.1 3.3m0.4 2.1m-0.4 9.3m2.4-67.6m0.1 5.2m-0.1 4.6m-0.4 2.4m0.4 2.3m0.1 2.1m0 3.9m-0.2 3m-0.3 2.6m0.5 1.5m-0.1 2.3m-0.3 2.6m0.2 2m0.1 2.3m-0.2 5.2m0.2 4.1m-0.4 4.2m0.4 2.6m-0.2 2.4m0.1 2.7m0.2 1.8m-0.4 2.8m0.2 2m-0.3 3m0.6-69.6m-0.2 2.1m0.3 3.1m-0.1 2m-0.4 2.2m0.3 2.3m0.1 2.7m0.1 1.7m-0.3 2.2m0.3 4.4m-0.6 2.1m0 2.6m0.5 2.3m-0.1 2.8m0.1 2.5m-0.2 4.4m0.1 1.9m-0.2 2m0.3 2.2m-0.5 2.9m0.6 2.1m-0.4 3m0 1.5m0 3m-0.1 1.8m0 2.4m0 1.9m0.2 2.7m2.4-71m-0.3 1.9m0.2 4.3m-0.3 3m0.4 2.5m0.1 2.4m-0.4 3.7m0.1 2.2m0 2.9m0 2.3m0.1 2.1m0.1 1.8m-0.4 3m0 2.2m0.3 1.8m-0.2 2.6m0.3 2.6m-0.2 1.7m-0.3 2.3m0 2.7m0.5 3m-0.3 2.3m0 2.3m0.2 4.3m-0.4 1.8m0.6 2.4m-0.4 2.5m0.3 2.7m-0.3-69.3m0.2 2.5m-0.2 1.7m0 2.9m0.1 1.5m0 2.8m0.4 1.6m-0.4 3.3m0.2 2.2m-0.2 2.2m0.4 1.7m-0.1 5.1m0 1.6m-0.2 3.2m0.2 1.4m-0.2 3m0.2 2.3m-0.2 2m-0.2 4.4m0.4 2.8m-0.3 2.6m0.4 3.6m0 4.5m-0.1 3.3m-0.4 1.6m2.5-64.3m0.1 2m-0.3 2.8m0.3 4m0 2.3m-0.1 3.3m0.1 1.4m0 3.1m-0.2 1.9m-0.1 2.2m0.2 2.3m-0.3 2.5m0.1 2.2m0 2.2m0.1 3m-0.1 1.4m0.3 3m0 1.9m-0.5 2.3m0 2.3m0.1 2.5m0.5 2m-0.6 2.1m0 2.2m0.3 3.3m-0.3 1.4m0.6 3m-0.4 1.9m0 2m0.3 3.3m-0.3-67.9m0.4 2.9m-0.2 2.3m0 2.8m0.3 2.1m-0.1 2.2m-0.4 2.3m0.2 1.7m0.3 2.8m-0.2 2.4m-0.2 1.7m0.3 3.1m-0.3 2m0.1 2.5m-0.2 4.3m0.5 1.8m-0.3 3.1m-0.1 2.2m-0.1 1.6m0.2 2.8m0.1 2.2m0.1 1.9m-0.2 2.8m0.2 2.1m-0.5 3m0 1.4m0 2.7m0.4 2.3m2.1-68.9m0 2.9m0.2 4m-0.1 1.9m-0.1 2.4m-0.2 2.8m0.2 1.6m-0.3 3.2m0.5 1.7m-0.4 5m0.4 2.1m-0.2 2m-0.3 2.3m0.1 2.5m0.2 2.5m0.1 2.2m-0.3 2m0.4 3m0 2m-0.3 6.7m0 9.8m0.4-53.1m-0.5 2.1m0.1 1.9m0 2m0.2 2.2m-0.1 2.6m0 2.7m0 2.5m0.3 2.3m-0.5 1.8m0.5 2.1m-0.4 5.2m0.1 2m0.1 2.6m0.3 2.2m-0.3 2m0 2.7m0.1 2.6m0 2.3m0.1 1.5m0 2.7m2.2-55.7m-0.2 2.9m-0.3 2.3m0.2 2.5m0.2 1.3m0 3m0 1.5m-0.4 2.6m0.3 2.1m-0.2 2.6m-0.1 2.9m0.1 2.4m0.4 1.6m-0.2 2.4m0.2 4.7m0 2.8m-0.2 2.1m-0.1 2.3m0.1 1.6m0.2 2.6m-0.2 2.6m0.1 2.3m-0.2 4.7m0.2 2.4m0 1.6m-0.2 2.9m0 2.2m-0.1 2.5m0.3 2.3m-0.1 2.1m0.2-62.5m-0.1 2.1m-0.2 2.7m0.5 2m-0.3 2.9m0.2 1.9m-0.3 2.6m0.2 2m0.1 2.9m-0.3 1.9m-0.1 2.4m0 2.1m0.5 4.9m-0.1 2.2m-0.2 2.5m0.2 3.7m-0.5 3.2m0.1 2.4m0.4 1.8m-0.3 2.7m0.1 1.7m-0.3 2.3m0.4 2.2m0.2 2.9m-0.1 2.4m0.1 2m1.9-49.2m-0.3 1.7m0.2 3.3m-0.2 1.9m0.1 2m0.1 2.2m0.1 2.7m-0.2 1.6m0.1 2.5m0.3 2.8m-0.5 2.2m0.5 2.6m0.1 1.4m-0.3 3.4m-0.3 4.3m0.2 1.6m-0.2 2.8m0.1 2.6m0.2 2.4m0.2 2.4m0.1-41.4m0 2.3m-0.4 3.1m0.2 2m0.2 1.7m0 2.9m-0.1 2.2m0 2.7m-0.1 1.4m0 2.3m-0.2 3.2m0.3 1.6m-0.1 5.4m0.3 1.6m-0.5 2.4m-0.1 2.9m2.6-32.6m-0.2 1.5m0.3 4.7m-0.1 2.4m-0.4 2.6m0.1 1.9m-0.1 2.7m0.1 2m0 5.2m0.3 4.3m0.1 2.4m0 2m-0.5 2.6m0.1 9m-0.1 1.7m0.5-44.8m-0.1 2.3m0.1 1.8m0.1 2.2m-0.5 2.8m0.2 1.8m0.3 2.4m-0.2 4.8m0.2 2m-0.4 2.3m0.3 3.2m-0.3 1.3m0.1 3.2m0.1 2m-0.1 2.1m0 2.4m-0.1 1.7m0 2.2m2.1-32m0.2 2.6m-0.1 1.7m-0.1 2.5m0.5 2.3m-0.2 2.1m0.1 2.5m0 2.7m-0.1 2.4m0.1 2.4m-0.2 1.6m-0.1 2.8m0.1 1.8m-0.1 3.1m0.1 2.2m0-32.1m0.3 1.8m-0.1 2.5m-0.2 2.8m0.3 2.1m-0.2 2.2m-0.2 2.8m0.4 1.7m-0.4 4.8m0.5 1.7m-0.3 2.5m-0.2 2m0 4.6m2.6-32.4m0.1 2.3m-0.2 2.6m0.2 2.9m-0.3 2m0.1 2m0 2.2m0.1 2.6m-0.1 2.6m0.2 1.9m-0.2 2.7m-0.2 2m0.1 1.9m0 3.2m-0.1 2m-0.1 2m0.3-31.5m0.1 2.2m0 2m-0.1 1.9m0.2 2.3m0.1 3.1m-0.3 2m0.3 2.6m0 6.3m-0.2 2.4m0.2 2m-0.3 3.1m0 1.8m0.2 2.7m0 2.5m2-33.5m0.2 2.5m0 2.5m0 2.7m0.1 2m-0.3 2.8m-0.1 1.8m0.3 2m0.2 2.5m-0.2 2.7m-0.4 2.6m0.5 2.2m-0.1 2.2m0.1 2.5m0 3.6m0 2.9m0.8-66.1m-0.1 7m0.1 1.7m0.2 2.6m0.2 1.8m0 2.8m0 2m-0.2 2.8m0.1 1.8m0.2 4.6m-0.5 2m0 2.8m0.3 2.5m0 4.3m-0.2 2m0.1 2.5m0.1 2.9m0.2 1.5m-0.3 2.5m-0.2 2.9m0.4 1.7m-0.3 2.9m0.1 1.7m0 2.4m-0.3 2.4m0.3 1.9m2-71m0.3 2.9m-0.4 4.4m0.4 1.7m-0.3 2.9m0.2 4.5m-0.1 1.9m0 2.6m0.1 2.8m-0.2 1.6m-0.1 4.4m0.5 2.9m0 2.5m-0.3 2.2m0.4 1.5m-0.4 3.1m0.1 2m0.1 1.7m0.2 2.8m-0.2 2.2m-0.1 5m-0.1 1.6m-0.1 3.1m0.4 2.3m0 2.3m-0.3 1.5m-0.1 3m0.6-62.6m-0.5 2.4m0.3 2.5m0.1 1.5m-0.2 3m0.2 2.5m0.1 1.9m-0.5 2.2m-0.1 2m0.3 2.7m0.2 2.5m-0.3 2.1m0.1 5.2m0.2 1.2m-0.4 2.6m0.4 3m-0.2 1.4m0.2 3m0.1 2.6m-0.6 2m0 2m0 2.6m0.2 1.7m-0.1 2.7m0.4 1.7m-0.1 2.8m-0.2 2.1m0.2 5.1m1.9-75.4m0.5 1.4m-0.6 3.1m0.2 4m0 2.4m0 1.9m0.2 2.2m0.1 3m0.1 1.8m-0.5 3.1m0.4 2.1m-0.1 1.8m0 2.9m0 2m-0.3 2.3m0.3 2.6m-0.1 2.1m0.3 2.6m-0.4 1.3m-0.1 3.1m0.4 1.5m-0.3 2.7m0.3 2.4m-0.4 2.4m0 2.1m0.2 2m0.3 4.5m-0.1 2.8m-0.1 2.1m0.1 2.7m-0.2 2.5m-0.1 1.7m-0.2 2.5m0.3-81m-0.1 3.1m0.5 6.6m-0.2 1.6m-0.3 5.1m0.4 4.8m-0.1 2.3m-0.4 2.2m0.4 4.1m0 7.7m0.1 1.4m-0.4 3.3m0 2.1m0.2 2m0 2.2m-0.2 2.6m0 2.3m0 1.6m0.3 2.4m-0.1 2.4m0 2.3m0.1 3.2m0.1 1.9m-0.5 1.9m0 2.1m0.1 2.8m0.2 2.1m0 2.2m2.3-70.9m0 4.6m0 2.4m-0.2 1.7m0.3 2.3m-0.1 4.6m-0.2 2.7m-0.1 1.6m0 2.4m-0.1 2.6m0.5 2.4m-0.2 1.7m0.3 2.3m-0.1 3.3m0.1 9.4m-0.1 1.4m-0.4 2.5m0.2 4.5m-0.1 2.2m0.1 2.5m-0.1 2.4m0.3 2.7m-0.1 1.6m-0.2 2.1m0.3 2.9m-0.4 2.5m0 2.6m0.5 2.3m-0.3-76.3m-0.1 2m0.5 2.5m-0.4 9.5m0.3 1.6m-0.5 2.5m0.3 2.1m-0.1 3.1m0.4 1.5m-0.3 2.8m-0.3 1.9m0.2 3.1m-0.1 1.7m0.2 2m-0.3 2.7m0.2 2.2m-0.2 2m0.2 2.7m-0.1 4.2m0.4 2.4m-0.3 3.2m0.3 4.2m-0.1 15.5m2.2-66.5m0.1 2.8m-0.4 1.6m0 4.7m-0.1 2.6m0.5 1.5m-0.4 3.2m0.3 1.3m-0.2 3.1m0.4 1.9m-0.3 2.3m-0.3 3m0.1 3.7m-0.1 2.5m0.2 2.9m0.4 1.6m-0.2 2.8m-0.2 2.4m0.2 2.2m0 2m-0.1 2.5m-0.1 2.2m-0.1 2.5m0.4 1.5m-0.1 2.8m-0.1 2.9m-0.1 2.3m-0.2 2m0.5 1.9m-0.4 2.2m0.5-61.9m0 3.3m0 1.5m-0.5 2.5m0.2 2m0.2 2.9m-0.2 6.6m0.3 2.7m-0.1 1.7m0 2.1m-0.3 5.4m0.4 4.3m-0.2 1.9m0.1 3.1m0 4.4m0.1 2m-0.4 7.1m0.1 9.2m2.1-102.4m0 2.6m0.1 2.5m0.3 1.9m-0.2 2.3m-0.1 2.2m0.3 2.2m-0.1 4.3m0 3.1m0 1.5m0.1 4.6m-0.4 5.5m0.3 1.8m0 2.8m0 1.3m-0.2 2.9m0.1 1.7m-0.1 2.8m-0.1 2m0.4 2.3m0 5.4m0 1.5m-0.3 2.2m0.2 2.3m0.1 3.1m-0.4 1.4m0.5 2.4m-0.4 3m0.2 1.6m-0.4 7.7m0.4-82.2m0.2 4.5m-0.4 2.9m0.1 2.4m-0.1 3.9m0.4 2.8m-0.1 2.4m-0.1 4.4m0 2.1m0 2.2m-0.1 2.7m0.1 1.7m-0.1 5.5m-0.1 2m-0.1 1.5m0.1 2.7m0.3 7.1m-0.2 2.4m-0.1 1.8m0.1 2.7m0 2.3m0.3 2.1m-0.5 2.9m0.5 1.3m-0.3 3.2m-0.1 2.5m0 1.8m0.5 1.7m-0.4 4.7m0 4.5m0.4 3.2m2.1-80.1m-0.1 2m-0.3 7.5m0.1 2.7m-0.1 1.7m0.1 2.3m0.2 2.5m-0.2 2.8m0.1 1.6m-0.1 2.4m-0.2 2.4m0.5 2.6m-0.4 2.2m0.1 2m0 1.8m-0.1 2.3m0 2.7m0.2-41.8m0 2.7m0.4 2.1m-0.4 2.3m0.2 2.4m0.1 2m0.1 2.8m-0.6 1.9m0.4 2.2m-0.4 3.1m0.2 2m-0.1 2.3m0.3 2.8m-0.2 1.8m0.2 6.7m2.1-46.1m0.1 2.2m-0.3 3m0.1 1.9m0.1 1.8m0.2 2.6m-0.2 2.5m0.1 2.4m-0.2 1.9m0.2 2.6m-0.1 2.8m0 1.6m0.1 2.3m-0.2 3.1m0 1.4m0.2 2.7m-0.3 2.3m0.1 1.7m0.4 5.3m-0.5 2.7m0.2 1.2m-0.1 2.3m0.1 2.5m-0.1-50.3m-0.1 5.1m0.3 2.4m-0.3 1.5m0.4 2m-0.1 2.4m-0.1 2.6m0.3 4.2m-0.4 2.3m0.3 3m0 2.4m0 1.5m0.1 3.3m-0.5 2.3m0.4 2.3m-0.4 2.4m0.2 4.5m0.1 2.4m-0.1 1.3m2.5-48.2m0.1 2.3m-0.1 3.1m-0.3 1.4m0.3 2.5m-0.2 5m0.2 2m-0.1 2.8m-0.3 2.4m0.2 1.6m-0.3 2.8m0.4 2.1m-0.2 2.2m-0.1 2.5m0.4 2.2m-0.4 2m0 2.3m0.4 11.9m0-47.9m0.1 2.2m0 1.7m-0.3 2.1m0.2 2.8m-0.3 2.5m0.3 2.3m0 2.4m-0.4 2.3m0.3 2.3m0 1.3m-0.1 5.5m0.2 2.3m-0.4 1.7m0.5 2.5m-0.3 2.4m-0.1 2.7m0.1 1.6m0.1 2.1m2.3-47.3m-0.2 1.9m0.2 4m-0.2 2.9m0.2 2.5m-0.1 1.5m0 3.1m0.1 2.1m-0.4 2.2m0.4 2.4m0.2 2.6m-0.5 2.2m0.4 1.7m-0.3 2.6m0.1 1.7m-0.1 2.9m0.1 2.8m0.1 1.6m-0.2 2.3m0.1 2.8m-0.1 2.3m0.2-45.9m-0.3 4.2m0.2 2.4m-0.2 2.1m0.3 2.7m-0.1 6.6m0.3 2.6m-0.2 4.3m-0.2 2.4m0.1 4.4m-0.1 1.9m-0.1 2.5m0.5 2.7m-0.3 2.3m0.3 2.5m-0.2 1.8m2-49.9m0.2 4.3m0 2.2m0.2 2.3m-0.4 1.8m0.1 4.6m-0.1 3.1m0.4 2.4m-0.1 1.9m-0.1 1.7m-0.3 2.3m0.5 5m-0.2 2.2m-0.2 4.4m0.1 2.2m0.3 2.8m-0.2 1.9m-0.2 2.5m0.1 2.9m-0.1 1.4m0.4-50.1m0.1 2.2m-0.2 2.3m-0.3 2.3m0.2 2.5m0.2 2.5m0.1 1.8m-0.5 2.3m0.4 2.3m-0.1 1.9m0.2 2.4m-0.2 2.9m-0.1 2.7m-0.1 6m0.2 4.4m0.2 2.5m-0.5 3m0.1 2.4m0.1 1.5m2.1-43.7m0.1 3.1m0 1.6m0.3 2.3m-0.4 2.9m0.3 2.1m-0.1 1.6m-0.2 3.3m0.3 2.1m0 2.5m-0.3 2.1m0.3 2.1m-0.4 1.9m0 3.1m0.2 4.2m-0.2 2.8m0 2m0.3 2.1m0 2.6m-0.2-50.9m0 4.2m0.2 5m0 1.7m0.2 5.6m-0.4 1.5m0.1 2.5m0.2 2.7m0.2 2.5m-0.1 2.4m-0.1 1.6m-0.2 1.9m0.3 2.8m0 2.1m-0.3 4.5m0.4 6.7m-0.3 2.5m-0.1 2.7m0.1 2.7m-0.1 3.5m2.1-40.3m0.5 2.7m-0.2 1.5m0.1 2.3m-0.3 2.4m0 3.2m0.2 1.4m0.2 7.5m-0.5 3.8m0.5 2.8m-0.1 7.3m-0.3 1.4m0 2.9m0.1 2m-0.1 2.8m0.4 2.5m-0.4 2m0 4.1m0.4 2.4m-0.1 2.3m-0.4 2.4m0.4 2.2m0 2.1m0 3m-0.4 1.7m0.2 2.8m-0.1-63.7m0.5 2m-0.4 2.8m-0.1 1.9m0.4 2.8m0 1.9m0.1 5.2m-0.5 1.6m0.5 2.1m-0.3 2.7m-0.2 2m0.2 2.8m0.2 1.7m-0.3 5.1m0.1 2.4m-0.1 1.9m-0.1 2.7m0.3 2.6m0.1 1.4m-0.4 2.3m0.4 3.3m-0.2 1.4m-0.2 3.1m0.1 2.2m2.4-55.9m-0.3 7m0 2m0.4 2.2m0.1 2.4m-0.2 2.7m-0.2 2.6m0 1.9m0.3 2.6m0 4.8m-0.2 2.3m0.1 1.9m-0.1 2.2m0.1 2.1m-0.2 4.6m0.1 5.2m0.2 1.4m0.1 2.9m-0.4 2.5m0.4 1.9m-0.1 2.7m-0.4 1.8m0.5 2m-0.2-63.7m-0.1 2m0.1 2.3m0.2 2.2m-0.3 5.2m0 1.8m0.1 2.9m0.1 3.9m0.2 2.8m-0.4 4.5m0.2 2m0 2.1m-0.3 3m0.1 2.5m0.1 1.7m0.2 2.3m-0.3 2.7m0.4 1.7m-0.3 2.4m-0.1 2.2m0.1 2.2m0 4.6m-0.1 2.3m2.2-64m-0.1 4.7m0.3 2.5m-0.2 4.4m0.1 2.9m0.3 2.1m0 2m0 2.9m-0.1 4.6m-0.2 2.4m-0.1 2.1m0.1 2.1m-0.2 2.3m0.3 1.8m-0.3 2.7m0.1 2.3m0.3 1.8m-0.2 2.4m-0.2 9.8m0.1 4.7m0.2 2.2m0.1 2.1m-0.2 5.1m0-70.2m0 7m0.3 2.3m-0.2 2.6m0 1.7m0.3 2.6m0 2.4m0 2.4m-0.4 1.9m0.3 2.8m0 2.4m-0.3 1.8m0.3 2.3m0 3m-0.4 2.3m0 2.1m0.4 2.4m-0.2 2.6m0 1.3m0.2 2.8m-0.4 2.4m0.4 2.3m-0.1 2.5m0.2 2.1m-0.3 2.6m0.1 2m0.2 1.8m-0.3 5.3m2.3-67.3m-0.2 1.7m0.4 5.3m-0.5 2m0 2.8m0 2m0.4 2.2m-0.4 2.5m0.5 1.9m-0.2 2.8m-0.2 1.7m0.2 2.4m-0.2 2m0.3 2.7m0.1 2.2m0 2.3m-0.4 3.2m-0.1 1.9m0.2 2.5m-0.1 2m0.1 1.8m0.1 2.1m0.3-49.2m-0.4 3.7m0.4 7.1m-0.3 3.1m0.2 1.8m-0.2 1.9m0.3 3.1m-0.1 1.6m0.1 2m-0.5 4.5m0.4 2.6m-0.4 5.2m0.4 1.4m-0.3 3.1m0.1 1.9m0 3m0.3 1.6m2.2-43.8m-0.5 5.5m0.4 2.4m0.1 2m0 2.6m-0.5 1.6m0.5 2.4m-0.3 4.8m0.2 1.9m0.1 2.6m-0.1 1.8m-0.2 3.2m0 2m-0.2 4.5m0.1 2.5m-0.1 1.5m0.3 5.2m0-48.4m0.1 2.3m0 6.2m-0.4 3.3m0.5 1.6m-0.4 2.6m0.3 1.8m0.2 4.6m-0.1 3.4m-0.3 2.1m-0.1 2m0.4 1.7m-0.2 2.4m0.2 3.2m0.1 4.2m-0.5 2.4m0.1 2.1m0.4 2.7m0 1.5m0 3.2m2-56.1m-0.2 2.3m0 5.5m-0.1 1.5m0.3 2.9m0.1 3.8m0 2.2m0.1 2.7m-0.1 2.2m-0.1 1.9m0 4.7m-0.1 3m-0.1 2.1m0.2 1.7m0 5.8m-0.2 1.4m0.1 2.1m0.2 2.4m-0.1 2.3m-0.3 3m0.5 1.7m-0.2-54.7m-0.1 4.6m0.2 2.1m-0.2 1.8m0 2.4m0.4 2.8m-0.5 2.3m0 2.3m0.3 1.8m0 2.2m-0.1 3.3m-0.2 1.4m0.1 2.9m0 2m0 2.3m0.3 3m0 1.6m-0.1 3.1m-0.4 1.7m0.2 2.8m0.2 2.2m-0.1 8.3m2.5-57.1m0 2.4m-0.2 2.2m-0.4 2.6m0.3 4.7m-0.1 2.2m0.1 4.4m0 1.7m0.2 2.6m0 2.7m-0.2 2.2m-0.2 4.1m0 2.7m0.3 2.2m-0.1 2.8m0 2.1m0.1 4.7m0 1.7m-0.3 2.3m0.2-45.4m0 4.6m0.1 4.8m0.1 1.9m-0.2 1.7m0.2 2.4m-0.1 4.6m0.2 3m-0.2 1.9m0.3 2m-0.1 3m-0.4 2m-0.1 2.4m0.3 2.6m0.3 2.3m-0.5 2.2m0.5 2m-0.4 1.9m0 2.8m0.3 2.7m-0.3 1.3m2.4-49.8m-0.1 1.6m0.3 2.4m-0.6 2.9m0.5 1.6m-0.2 2.5m-0.2 1.8m0 2.5m0.3 2.7m-0.2 2.8m0.2 6.1m-0.1 2.7m-0.1 1.9m0 2.4m0.2 2.3m0 2.6m0 1.7m0 3m0 4.5m0 2m-0.2 3m0.4-53.5m-0.2 5.1m0.3 2.3m-0.3 1.9m0.2 1.9m-0.1 2.4m-0.2 3.2m0.3 2.3m-0.1 2.2m0.2 4.7m-0.3 4.3m-0.2 2.2m0 4.3m0 4.6m0 2.5m0.3 2.1m-0.1 2.2m0 3.1m0 1.6m2.3-55.3m-0.3 7.8m0.3 1.7m-0.1 4.4m0.1 3.1m0.2 1.5m-0.4 2.5m-0.2 2.9m0.6 2.1m-0.4 1.7m0.2 5.4m0.2 1.6m-0.3 2.8m-0.1 1.9m-0.1 2.9m0.2 2.4m0 1.5m0.1 3.1m0.2 1.6m-0.1 2.2m-0.3 2.5m0.4 2.2m-0.1 2.4m-0.1 2.8m0.2-64.9m-0.4 4.9m0.1 2.4m-0.1 2m-0.1 2.2m0.1 2.7m0.2 1.6m0.3 2.4m-0.4 2.4m0.4 2.9m-0.1 2.2m0.1 1.6m-0.2 4.8m0.2 2m-0.2 2.1m0.2 4.7m-0.5 3m0 1.7m0.4 3.2m-0.1 1.7m-0.3 1.9m0.1 2.8m0.2 2.3m-0.3 2.1m0.4 2.7m-0.4 2.4m0.2 1.8m2.3-90.8m0 2.8m-0.2 1.6m0 2.5m0 2.6m0.4 2m-0.2 2.8m0.1 1.8m0 2m-0.2 2.2m0.3 2.5m-0.2 2.4m-0.3 2.4m0.3 2.2m0.2 1.9m-0.4 2.3m0.3 3.2m-0.4 1.5m0.5 2.2m-0.3 2.4m0.1 2.9m0 1.9m-0.4 2.7m0.4 2.2m-0.4 2.1m0.2 2.7m0.3 2.4m0.1 1.4m-0.2 2.8m-0.1 2.8m0.3 2.1m-0.3 2.4m0 1.8m-0.1 2.2m0.2 2.1m0 2.8m-0.1 2m0 4.5m-0.1 2.5m0 2.3m0.1-92.9m0.4 6.9m-0.5 2.6m0.2 1.7m-0.1 3.1m0.3 1.5m-0.2 2.4m-0.3 2.1m0.4 2.8m-0.3 1.9m0 5m0.4 2.6m-0.2 1.8m0 5m-0.2 2.4m0 4.7m-0.1 2.1m0.5 2m-0.5 2.5m0.2 2.4m0.1 2.2m0.1 1.7m0.1 3m-0.1 1.7m0 7.5m-0.2 1.8m0.3 2.5m0.1 4.8m-0.5 1.6m0 3m0.5 2.3m-0.1 2.3m-0.3 2.3m2.4-91.4m0.1 1.7m-0.2 5m-0.2 1.9m0.3 3.1m0 3.5m-0.3 3.3m0.2 1.9m-0.2 2.2m0.3 4.1m-0.3 2.3m0.2 3.4m0 1.5m-0.2 2.4m0.4 5.1m-0.1 2m0.1 4.9m0.1 1.4m-0.1 2.3m0 3m0 2.6m-0.3 2.2m0.1 2.5m-0.1 3.5m0 2.7m-0.1 2.8m0.1 1.4m0.2 7.6m-0.1 1.5m-0.2 2.4m0.4 7.6m0-99.2m-0.2 1.5m0.2 2.5m0.2 3.1m-0.6 1.7m0.4 2.2m-0.2 3m-0.2 4.5m0.1 2.2m0.1 1.8m0.2 3.1m0.2 1.4m-0.4 3m0 2.4m0 2.3m-0.1 2m0.3 2.5m-0.3 2.2m0 1.8m0.2 2.1m-0.1 3.3m0.3 2.1m-0.1 1.4m-0.3 9.5m0.1 2m0.3 2.6m0 2.6m-0.3 2.4m-0.2 2.7m0.3 2.1m-0.2 2.5m0.2 1.5m-0.1 3.1m-0.1 1.9m0.2 2.7m0 2.3m0 2.1m0 2m0.1 2.8m-0.3 1.4m2.2-103.6m-0.1 5.1m0.2 6.5m-0.1 3.1m0.3 2.3m0.2 2m-0.1 1.9m0 2.2m-0.3 5.6m0.1 1.5m-0.1 4.6m0 3.1m0.2 2m0 2.4m0.2 1.9m0 2.2m0 1.9m-0.3 2.6m-0.1 2.5m0.3 2.4m0 2.2m-0.4 4.9m0.1 4.6m0.1 2.2m-0.1 4.1m0.3 3.1m-0.4 2.4m0.1 1.6m-0.2 2.6m0.1 2.1m0 2.5m0 1.9m0.4 2.6m0.1 8.9m0-100.7m-0.2 6.6m0.2 2.4m0 2.5m-0.4 1.8m0.1 2m0.2 2.2m-0.1 2.4m0.1 2.2m0 3m-0.2 2m0 4.7m0.1 2.9m-0.3 2.1m0 1.7m0 3.1m0 1.9m0.1 4m0.1 2.2m0 5.3m0.3 1.8m-0.1 5m-0.4 2.7m0.1 1.7m0.4 2.1m0.1 2.1m0 3.1m-0.3 1.5m-0.1 2.3m0.1 5.4m-0.1 2.3m0.2 1.9m-0.3 5.2m0.1 1.4m-0.2 2.4m2.2-91.6m0.6 6.6m-0.2 2.5m0.1 1.9m0.1 3.1m-0.2 1.4m-0.2 2.5m-0.1 5.4m0.4 1.4m0 5.2m-0.3 1.7m-0.2 3.2m0.2 1.7m0.4 1.9m-0.3 2.8m0.1 4.8m-0.1 1.8m0.3 2.8m-0.1 2m0 2.2m0 2.7m-0.4 2.4m0.1 2.6m0.4 1.4m-0.5 7.2m0.3 1.9m-0.3 2.3m0.4 2.8m-0.1 2.8m0 3.5m-0.3-84.4m0.4 1.6m-0.2 2.4m-0.1 3.2m0.3 1.6m0.1 2.1m0.1 2.5m-0.5 4.6m0.4 2.7m-0.2 1.9m-0.2 4.9m0.1 2.8m0.1 2.2m-0.2 2.4m0.3 1.5m0.2 2.8m-0.5 2.3m0.1 1.5m0.1 2.6m0 2.2m-0.2 2.9m0 4.4m0 2.2m0.3 2.3m0.1 2.4m0 1.9m-0.3 2.6m-0.1 2m0.4 3.1m-0.2 1.7m-0.1 1.8m0.1 2.7m-0.1 5.3m0.4 1.2m2.1-78m0 3m-0.3 2.4m0.2 3.9m0 2.7m-0.3 1.6m0.4 3.5m0.1 1.5m-0.1 4.9m-0.5 1.8m0.4 5.6m-0.2-39.9m0.1 4.8m0.2 2.9m0.1 1.4m-0.4 4.3m0 2.3m0.4 2.9m-0.2 1.9m0.3 7.5m-0.5 2.7m0.1 1.5m0 2m-0.2 2.9m2.4-32.3m0.3 2.6m0.1 2.2m-0.3 1.9m0.1 2.9m0.2 2m-0.3 2.7m0.3 1.3m-0.5 2.9m0.2 1.9m-0.2 7.3m0.4 2.6m-0.4 2.1m0 1.7m0.4 2.3m0.1-43m-0.4 9.2m0.5 2.4m-0.5 2.3m0.5 1.8m-0.1 2.3m-0.1 2.1m0.1 3.2m-0.3 1.7m-0.2 2.5m0.2 1.7m-0.1 2.9m0.1 1.6m0.3 3.1m-0.4 2.2m0.2 1.6m0.2 2.7m2.1-37.4m-0.2 2.2m0.1 2.9m0 2.3m-0.1 2m0.2 2.6m0 1.9m0.1 2.4m-0.2 2.1m0 3.2m0.1 1.4m-0.2 2.7m0 2.7m-0.2 1.9m0.4 2.8m0.1 2.4m-0.5 2.1m0.3-37.3m0.4 3.1m-0.1 2.4m-0.3 1.6m0.3 2.3m0 2.6m-0.1 1.7m-0.3 3.2m0.2 2.2m0.1 3.9m0 4.9m-0.3 2.3m0.2 3m0.2 1.7m-0.5 2.4m0.4 2m2.2-37.2m0.1 2.3m-0.3 2.3m0.4 2.7m-0.3 1.9m0 4.6m-0.3 2.4m0.2 2.7m-0.2 2.9m0.3 1.2m-0.2 5.4m0 1.5m0.5 5.3m-0.1 1.6m0.2-36.7m-0.6 4.6m0.3 2.7m0.2 2.2m0 3.1m-0.5 6.8m0.1 3.6m0 2.6m0.4 2.4m-0.2 2.4m0 2.1m0.2 3.1m0 1.6m-0.2 2.2m0.2 3m1.7-39.6m0.1 4.7m0.1 4.1m0.2 1.9m0.1 2.4m0.1 3.4m-0.2 1.9m-0.4 2.1m0 2.3m0.3 4.2m0.2 3.3m-0.4 1.7m0.4 2.6m-0.4 2.2m0.3 1.5m-0.2 2.8m0.3 2.4m-0.2 2.4m0 2.3m0-46.2m0.2 6.6m-0.1 3.4m0.2 2.4m0 1.3m-0.4 2.2m0.3 3m-0.2 2.7m0.3 2.3m-0.5 2.1m0.2 2.3m0 2.1m0.1 2.2m-0.3 1.7m0.6 3.2m-0.3 1.4m2.2-34.4m0.2 2.1m-0.1 3m0 2m-0.2 2.1m-0.1 3m0 1.4m-0.1 2.6m0.3 2m0.2 2.2m0 3.1m-0.3 2.1m0.3 2.3m-0.5 2.3m0.4 4.8m-0.3 2m-0.1 2.5m0.3 2.7m-0.2 1.2m0.3 3.1m-0.2 2.1m-0.2 2.7m0.4 1.3m-0.3 3.3m-0.1 1.8m0.2 2.6m0 2.5m0.1 1.3m-0.2 2.9m-0.1 1.7m0.3 2.4m0.2 2.9m-0.2 1.8m-0.3 3m0.4 4.5m0.2 2.5m-0.5 2.1m-0.1 4.8m0.4-89.9m0.3 11.7m-0.4 4.2m0.3 2.4m-0.2 2.8m-0.1 2.4m0.2 1.9m-0.3 1.6m0.2 3.2m0.1 2m0 6.5m-0.2 4.3m-0.2 2.4m0.1 2.2m0.2 5.6m0.2 1.4m-0.1 2.6m0 2.5m0.1 2.2m-0.2 1.8m0 2.5m-0.1 3.2m-0.2 2.3m0.5 2m-0.2 2.5m-0.2 3.7m0 2.5m0.5 2.2m-0.4 2.8m-0.1 2m2.2-54m0.2 1.4m0 3.1m-0.2 4.8m0.1 5.7m0.3 2.7m0 2.7m-0.3 1.6m0 2.2m0.1 2.7m-0.1 2.3m0 2.3m0.1 2.9m0.2 1.9m0 4.8m0 1.9m-0.5 2.7m0.2 1.9m0.3 1.9m-0.2 2.7m0 2.9m-0.1 2.3m0.5-56.7m0 3.2m-0.4 2.5m0.2 1.4m0.1 2.8m0 2.6m-0.5 3.9m0.1 2.1m0.3 2.1m0 2.9m-0.4 4.2m0.4 2.9m0.1 2.4m-0.4 1.9m-0.1 4.6m0.4 2.5m0 2.2m0.2 2.8m-0.2 1.5m-0.4 3m0.5 2m-0.1 1.8m2-53m-0.2 2.7m0.4 4.6m-0.1 1.9m0.1 2.3m-0.1 2.7m-0.3 2.7m0.1 1.5m0 2.8m-0.1 2.2m0 2.8m0.1 1.7m0.1 2.7m0.1 2.3m0.2 2.4m-0.5 2.5m0.3 1.7m-0.3 2.9m0.1-39.3m0.5 1.8m0 2.3m0 2.8m-0.2 2.1m0 2.8m0 1.7m0.2 1.8m-0.2 3.4m0.2 1.9m-0.3 1.7m0.3 4.5m0 2.4m-0.2 3.2m-0.2 1.3m0.2 2.3m-0.1 3m0.3 2.2m-0.2 2.1m2.1-48.7m0 5.4m-0.2 1.7m0.1 3m0.4 2.1m-0.3 2.2m0.3 1.8m-0.2 3.1m-0.3 2m0.1 2m0.2 2.1m-0.2 2.1m0.1 2.9m-0.1 2.7m0.2 2.3m0.1 1.7m-0.4 3.1m0.2 6.5m0.3 2.1m-0.4 2.1m0.4-50.7m-0.4 7.4m0.6 1.8m-0.4 2.6m0 2.7m-0.1 1.6m0.2 2.2m0.2 2.6m-0.2 1.9m0.2 2.3m-0.3 2.5m0.1 2.8m0.1 2.2m-0.3 2.4m-0.1 6.6m0.2 2.6m0 1.8m0 2.6m0.1 2.5m2.3-46.8m-0.3 5.4m0.2 1.5m0.1 3.1m0 1.7m-0.1 2.4m-0.3 6.9m0.3 2.8m0.1 2.5m0 4.5m0.1 1.4m-0.5 3.3m0 1.6m0.1 2.1m0.1 2.7m-0.1 2.8m0 1.5m0-40.9m0.4 2.5m0.1 2.6m-0.5 1.7m0.4 1.9m-0.2 3.1m-0.2 1.3m0.2 2.8m0 2.5m-0.2 2.1m0.1 3m-0.1 1.4m0 2.2m0.5 5.5m-0.1 2.1m-0.1 2.1m0 2.3m2-46.3m0 2.4m0.4 2.2m-0.3 5.2m0.3 4.6m-0.5 2.2m0.5 2m-0.5 2.9m0 1.7m0.3 2.3m-0.3 2.1m0.5 2.3m-0.2 2.2m0.1 3.1m-0.4 2.2m0.4 6.2m-0.2-45.4m0.1 1.5m0.2 2.2m-0.3 3.1m0.1 2.3m0.1 4.6m-0.3 1.8m0 2.3m0.4 3.2m-0.4 4.1m0 2.2m0.2 4.4m0.3 2.6m-0.1 2.3m-0.2 1.7m-0.1 2.3m0.3 4.6m2.2-45.7m-0.4 4.5m0.5 2.7m-0.1 2.4m-0.4 2.5m0 1.6m0.2 2.4m0.2 2.7m0.1 1.5m-0.1 2.8m0.1 2.7m-0.1 4m0 3m-0.1 1.9m0 2m-0.3 2.2m0.3 2.4m-0.1 2.1m0 5.1m0-43.3m0.3 1.9m-0.4 2.5m0.3 1.7m0 2.9m0 2.6m-0.1 1.3m-0.1 2.3m0.2 2.3m0.2 4.8m0 2.9m0 1.8m-0.3 2.3m-0.2 4.6m0.5 2m0 2.2m0 3.1m1.7-44m0.5 1.8m-0.5 5.4m0.3 1.9m-0.1 3m0.3 1.9m-0.5 2.2m0 2.2m0.1 3m0.3 1.4m-0.2 2.2m-0.1 2.7m0 4.9m0.2 2.4m-0.2 1.5m-0.1 3.2m0.5 2.2m-0.1-39.3m-0.2 1.6m-0.1 2.3m0.1 2.8m-0.1 2.8m0.2 1.3m-0.2 2.4m0.2 3.2m0.2 2.2m-0.2 2.1m-0.2 1.6m0.3 2.4m-0.2 4.8m0.2 3.1m0.1 2m-0.1 2.6m-0.1 1.9m2-39.4m0.5 2.2m-0.5 2m0.2 2.9m0.3 2.6m-0.3 2.2m-0.1 1.7m0.3 3m-0.4 1.4m0 2.6m0.2 2.3m0.2 3.1m-0.4 2.1m0 4.4m0.5 2.5m-0.5 2.5m0.3 1.2m0 3.4m0.2-44.3m-0.2 5.2m0 1.1m-0.1 2.8m0.1 2.3m-0.1 2.7m0.2 2.4m-0.2 3.7m-0.1 2.6m0.2 4.5m0 2.6m-0.2 1.7m0.4 5.6m-0.4 1.6m0.3 4.8m2.2-45.6m-0.1 1.7m0.2 3.2m-0.3 1.8m-0.1 7.2m0 1.9m0 2m-0.1 2.5m0.2 2.5m0.1 4.8m0.2 4.9m0.1 3.9m-0.1 5m0-41.5m0.1 2.3m-0.3 2.2m0.1 2.8m-0.2 1.6m0.4 2.1m-0.2 2.5m0.3 2.5m-0.4 1.8m0.4 2.2m-0.5 2.9m0 2.6m0.3 2m0.2 9.5m1.9-39.8m0.3 2.3m-0.4 4.8m0.2 2.2m-0.2 2.4m0.3 4.7m-0.2 2.3m0.1 2.6m0 3.9m0.2 2.4m-0.6 2.3m0.4 2.5m0.2 4.4m-0.2 2m-0.2 3.2m0.3 1.7m0-41.2m0.1 5.3m-0.3 1.9m0.3 4.8m-0.1 2.2m0.1 1.5m-0.4 2.9m0.2 2.6m0 2.2m0.1 2.2m-0.1 4.8m0.2 1.8m0 2.6m0 2.4m-0.4 3.8m0.1 2.6m2.4-43.7m-0.1 3.2m0 1.6m0.1 4.2m-0.2 3.1m0 1.9m0.3 2.2m-0.1 7.4m0.2 2.1m-0.2 2.3m-0.1 2m-0.1 2.4m0.2 2.6m-0.1 2.4m-0.2 4.6m0.4 1.8m0-46m0 4.5m-0.1 2.4m0.1 4.9m0 2.7m0 4.2m-0.2 2.2m0.3 4.6m0.1 2m-0.6 2.9m0.5 1.4m0 2.5m0 3m-0.2 1.8m-0.2 2.9m0.4 2m-0.3 1.7m2.5-48.3m0.1 2.3m-0.1 2.3m-0.3 3.2m0.1 2.1m-0.2 2.2m0 2.2m0.2 2.5m-0.1 1.6m0.3 3.4m-0.2 1.6m0.1 1.9m0.2 2.6m0 2.1m-0.3 4.8m0 2.7m-0.2 2.4m0 1.9m0 8.8m0.5 2.3m0.1-54.5m-0.5 4.7m0.1 2.2m-0.2 2.6m0.4 1.5m0.1 2.1m-0.2 2.5m0.2 2.9m-0.2 2.1m0.1 1.7m0.1 5m-0.2 2.5m0 2m0.2 5.3m-0.3 3.6m0.2 2.4m-0.2 3m0.3 1.8m-0.4 5.1m-0.1 1.5m2.5-52m-0.1 6.2m-0.1 2.7m0 2.4m0.4 6.8m-0.4 2.9m-0.1 2.2m0.4 1.5m0 2.3m0 2.5m0.1 3m-0.2 2m0.2 1.6m0.1 2.6m-0.2 2m0.2 3.3m-0.2-49.3m-0.3 2.8m0.2 2.3m0.1 2.1m-0.3 2.6m0.5 1.8m0 1.9m-0.2 2.4m0 2.2m-0.3 5.3m0.1 1.6m0.4 2.4m-0.1 2.7m-0.3 1.9m0.2 2.6m0.2 2.7m-0.3 2.2m0.4 2m-0.1 2.7m-0.5 1.8m0.2 5.1m2.5-39.7m-0.2 4.4m0 2.5m-0.2 4.7m0.3 2.6m-0.3 4.6m0.1 1.8m0.2 1.9m0.2 3m-0.4 4.2m0.1 1.9m-0.2 2.4m0.3 2.7m0 2.3m-0.1 4.2m0.3-43.3m-0.3 3.3m0 4.5m-0.1 2.3m0.4 1.2m0 5.3m-0.3 2.2m-0.1 4.5m0.2 4.4m0 4.9m2-40.6m0.2 4m-0.2 2.7m0 1.9m0.4 2.1m0.1 2.6m-0.1 2.3m-0.2 2.5m0.3 2.1m-0.1 2.5m-0.1 1.9m0.1 2m-0.4 3.4m0.2 2m0.3 7.2m-0.2 3.7m0-41m-0.2 9.1m0.2 2.2m-0.1 2.6m-0.1 3.7m0.3 3m0 2.6m-0.1 1.8m-0.2 2.6m0.5 1.7m-0.2 2.9m0.2 2.2m-0.4 2.6m0.2 1.1m2.2-36.1m-0.1 4.1m0.1 2m0.1 2.6m-0.4 3.2m0.5 1.5m-0.2 3m0.2 1.4m0 2.8m-0.5 4.8m0.4 2.4m-0.3 6.5m0.1 2.2m0.2 1.9m-0.3 2.6m0.4-38.2m-0.4 1.4m0.3 2.3m-0.4 4.7m0.2 2.7m0.4 1.6m-0.4 3.2m0 2.3m0.3 4.3m-0.3 1.7m-0.2 2.8m0 2.4m0.4 2.7m2-46.5m0.3 7.8m-0.2 1.7m-0.3 9m0.5 2.6m-0.2 4.6m0 2.3m0.3 2.3m-0.1 2.9m-0.3 1.9m-0.1 1.9m0.2 2.8m0 2.4m-0.2 2.4m0 2m0.4 2m0 2.6m-0.4 4.7m0.3-53.1m0.3 2m-0.5 2m0.4 5.1m-0.3 3.8m0.2 2.6m-0.2 2.2m0.1 3.1m0.3 2.1m-0.3 1.5m-0.1 2.1m-0.2 2.9m0.1 2.8m0.1 2m0.1 2.2m-0.2 1.8m0.3 3.2m-0.1 1.8m0 1.9m-0.2 5.5m0.4 4.6m2.1-57.9m0 9.7m0.2 1.9m-0.1 2.5m-0.2 1.6m0.1 2.9m-0.3 2.1m0 2.7m0.1 2.1m0.3 1.6m-0.1 2.6m-0.3 6.7m0.1 2.5m0 2m0 2.6m0.3 2.9m-0.1 2.1m0.1 1.9m0 2.7m-0.2 2.2m-0.2 2.3m0.5-58.2m-0.5 2.5m0.3 13.8m-0.2 3.1m0.4 2.4m0 1.8m-0.1 2.3m0.1 2.4m-0.2 2m-0.3 5.3m0.1 1.9m0.4 2m-0.1 2.9m-0.4 2m0.5 2.6m-0.1 2.2m0 2.5m0.1 1.9m0 2.4m0.1 2.3m1.8-61.8m0.3 3.8m0 3m0.1 2.2m0 2.6m-0.4 1.7m0.4 3m-0.4 1.7m-0.1 2.5m0.1 2.2m0.1 4.2m-0.1 3.2m0.1 1.5m0.1 2.5m0.2 2.1m-0.3 2.3m-0.2 3.1m0.1 2.2m0.2 2.2m0 6.5m0.2-50.7m-0.3 2.5m0.1 2.3m0 2.3m0.3 2.6m-0.2 1.2m-0.2 3.4m0.2 1.9m-0.3 5m0.3 1.8m0.2 4.9m-0.5 1.6m0.1 2.3m0.3 2.7m-0.3 2.1m-0.1 2.7m0.1 2.6m0.2 1.7m2.2-39.2m-0.1 2.8m-0.3 6.9m0.5 1.7m-0.3 2.8m0.3 1.7m-0.2 5m0 1.9m-0.3 2.7m0.4 2.3m-0.2 2.6m-0.1 4.6m0.1 1.6m0.1 3m0 1.4m0 2.6m0.2 1.9m-0.5 2.3m0.2-49.9m0 4.9m0 2.2m0.2 1.9m0 2.4m0.1 2m-0.2 2.7m0.2 2.1m-0.2 1.9m0.2 5.5m0 2.4m0 1.4m-0.1 7m0.1 2.1m0.1 2.3m-0.1 2.5m0 2.5m-0.1 2.2m0.2 2.2m1.8-47.6m0 2.3m0.4 4.1m-0.5 2.8m0.5 1.7m0 2.9m-0.4 1.9m0.2 2.7m0.2 1.6m-0.3 2.7m0 2.1m-0.1 2.1m0.4 2.2m-0.4 2.1m0 3.4m0.1 4.4m0.3 1.5m-0.2-36.2m0.2 2.6m-0.2 2.1m0 1.8m0 2.3m0.2 2.7m0.1 1.7m-0.4 2.9m-0.1 1.7m0 3m0.4 2.2m0.2 2.3m-0.2 1.7m-0.1 3.2m0.2 1.7m-0.3 2.9m0 1.5m0.2 2.9m2-45.5m0.4 1.7m-0.3 2.4m0.2 2.7m-0.1 2.2m-0.1 2.4m-0.1 1.8m0 1.9m0.4 3m-0.5 1.6m0.2 2.8m-0.1 2.8m-0.1 1.5m0.4 2.2m-0.4 2.7m0 2.5m0.3 2.1m-0.2 2.1m-0.2 2.7m0.5-44.6m-0.1 2.9m0.1 1.7m-0.2 2.6m0.2 5m0.1 1.9m-0.1 3.2m0.2 1.9m-0.6 2.6m0.2 1.4m-0.2 2.9m0.6 2.2m-0.1 2.4m-0.1 1.7m-0.2 2.7m-0.1 2.5m0 4.5m0 2.8m0.4 1.7m1.8-46.6m0 5.4m0 1.4m0.2 2.7m0 1.9m-0.1 3.2m0 2.5m0.2 2m0 1.6m-0.2 2.6m-0.1 4.4m0.2 2.1m0.2 2.4m-0.3 3.1m-0.2 2.5m0 1.6m0.3-37.1m0.3 2.8m-0.5 2.5m0.1 2.5m0.1 1.8m0.1 2.9m0 1.4m-0.2 2.8m0.4 1.9m-0.1 4.9m-0.4 2.7m0.3 2.3m0 1.7m-0.2 2.6m0 1.9m2.4-38.4m0.2 1.6m-0.2 3.2m0.2 1.9m-0.3 2.9m0.3 1.4m0 2.9m-0.1 4.9m0 1.2m-0.4 7.4m0.1 2.6m0.2 2.6m0.2 1.9m0.1 2.3m-0.6 2.3m0 4.7m0.5 1.5m-0.3 2.5m0.4-39m-0.2 2.8m0.1 2.1m0 2.2m-0.3 1.7m0 2.8m0.3 2.7m-0.3 2.1m0.1 1.6m0 2.4m-0.1 2.7m0.5 2.3m-0.1 2.6m-0.1 2.1m-0.4 2.6m0.3 1.5m0 2.4m2.3-52.5m-0.3 5.3m0 1.5m-0.1 2m0 5.1m0.1 2.1m0.1 3.2m0.1 1.2m0.2 2.4m-0.1 3.2m-0.3 1.8m0.1 2.5m-0.2 1.9m0.5 1.9m-0.5 5m0.2 1.9m0 3m0.1-43.8m0.3 1.7m-0.5 3m0 2m0.2 2.2m-0.2 4.5m0 2.9m0.3 1.5m-0.1 3.1m0.2 2.2m0.1 2.3m0 1.8m-0.3 2.2m0.2 4.3m0.1 2.3m-0.3 2.5m0.3 2.9m-0.2 1.9m0.2 2.7m-0.5 1.8m2.5-48.7m0.1 5m0 2.2m0 2m-0.2 3.2m-0.1 1.5m0 2.7m0 2.2m0.4 5m-0.4 2.4m0.4 1.9m-0.4 1.8m0.4 2.8m0 1.7m-0.3 5m0 2.5m0.3 5m0 2m-0.3 4.8m0.1 4.2m0.2-54.9m-0.3 1.6m0.5 3m-0.2 1.6m-0.4 2.5m0.4 4.8m-0.1 2.3m-0.3 2.9m0.2 1.5m0 7.7m0 2.4m0.3 4.5m-0.1 6.1m-0.3 2.4m0.4 2.7m0 1.8m0 5.1m2.2-57.5m-0.3 1.7m0 2.7m0.1 2.4m-0.2 2m0.3 2.3m-0.2 2.2m0.2 2.6m-0.4 3m0.4 1.4m0 5.4m-0.4 2.3m0.4 2m-0.3 2m0.3 2m-0.3 2.4m-0.1 5.3m0.1 1.6m0.1 5.1m0 1.7m1.1-42.8m0.2 2m0.2 6.4m0.1 2.5m-0.1 2.8m-0.3 4.7m-0.1 1.5m0.2 2.4m-0.1 2.2m-0.2 2.6m0.4 2.3m-0.3 2.7m0.1 2m0.3 2.5m1.8-39.7m0 2.7m0.4 2.6m-0.1 2.5m-0.3 1.8m-0.1 2m0.3 3.1m0 1.8m0.1 1.8m-0.1 3m0.3 2.5m-0.5 1.8m0.2 1.8m-0.2 2.3m0 2.5m0.3 2.8m0.2-34.9m-0.2 4.9m0 2.4m0.1 1.7m0.2 2.9m-0.4 2.2m-0.1 2.3m-0.1 2.4m0.2 2.2m-0.1 4.8m0.5 1.5m-0.6 2.5m0.3 2.4m0.3 2.6m1.9-36.5m0 2.2m0.1 2.7m-0.3 6.6m0.2 2m-0.1 2.3m0.3 2.5m0.1 5m-0.3 1.9m0.2 4.2m-0.3 2.7m-0.1 1.6m0.4 3.3m-0.2 1.7m0.1-40.9m-0.2 4m0.5 2.5m-0.3 2.5m0.3 2.5m-0.4 2.2m-0.1 2m0.1 2.4m0.1 4.7m-0.2 4.1m0.5 1.9m-0.5 2.5m0.1 3m0.2 1.4m-0.2 2.4m0 2.5m2.4-40.6m0 1.9m0.2 1.8m-0.5 2.7m0.5 6.7m-0.4 2.6m0.1 4.1m-0.1 2.8m0.3 1.7m-0.3 2.7m-0.2 2.4m0.4 2.7m0.1 1.6m-0.4 2.6m0.2 4.7m-0.2 2.1m0.5 2.8m-0.5-46.8m0.2 4.9m0.2 2.7m-0.3 2.5m0.3 1.6m-0.4 2.9m0.4 1.9m-0.3 2.5m0.4 2m-0.5 4.2m0 2.8m0 2.4m0 4.5m0.5 5m-0.2 1.7m-0.2 2m0.1 5.5m0.2 1.3m2.2-51.4m-0.1 2.3m-0.2 2.7m0.4 1.9m-0.3 2.7m0.1 2.5m-0.3 1.5m0.4 3.1m-0.2 2m-0.2 2.5m0.3 2m0.2 2.6m-0.2 2.3m-0.2 2m0.4 2.3m0 2.3m-0.5 2.3m0.3 2.6m-0.2 2.5m0 2.3m-0.1 2m0.3 2.4m0.2 1.6m-0.1 2.3m-0.2 4.9m0.5-57.4m0 2.2m-0.2 2.8m0.1 2.5m-0.3 3.8m0.2 2.7m-0.3 2m0.2 2.7m0.1 4.1m0.1 2.8m0 1.9m-0.3 2.4m0.1 2.8m-0.3 2.3m0.5 4.3m-0.4 2.6m0.2 1.3m0.3 2.6m-0.2 4.8m-0.4 2.5m0.4 4m-0.4 2.9m2.7-60.6m-0.4 10.2m0.1 1.8m0.2 1.9m-0.1 2.8m-0.1 2.2m-0.2 2.2m0.3 2m0 2.6m0 3m-0.3 1.5m0.3 2.6m0.1 2.8m-0.3 6.7m0.3 4m-0.3-46.1m0.3 2.7m0 7.3m0 3.7m-0.3 2.6m0.5 2.7m-0.5 1.8m0.2 4.7m-0.1 2.8m0 2.4m0.3 1.5m-0.2 2.2m0 2.4m-0.1 3.1m0.4 1.5m-0.4 3.3m-0.1 1.4m0.2 5.1m0.1 2.1m2.3-45.9m-0.1 2.3m-0.2 2.1m0.3 2.1m-0.3 2.7m-0.1 2.1m0.5 2.7m-0.3 1.7m0.4 3.1m-0.1 1.9m-0.5 2.7m0.5 4.2m-0.4 2.1m0.1 1.8m0.1 2.8m0 2.7m0.3 2.4m-0.6 2.2m0.5 1.6m0-52m-0.3 1.5m0.2 2.1m0.1 2.6m-0.3 2.8m-0.1 1.6m0.4 3.3m0.1 1.3m-0.2 2.4m0.1 2.5m0 2.3m0.1 6.6m-0.3 2.6m0.3 2.1m-0.5 2.8m0.5 2.3m-0.3 2.6m0.1 1.8m0.2 2m-0.4 2.6m-0.1 2.4m2.7-47.8m-0.5 3.1m0 1.8m0.4 2.4m-0.2 1.8m-0.1 3.2m0 1.6m0.2 2.2m0.3 2.8m-0.5 7.4m0 1.7m0.1 2m0.1 2.7m0.1 2.2m0.1 2.4m-0.5 2.1m0.3 3m0 2.1m-0.2 2.2m0.2-39.1m0.1 2.6m0.2 1.9m-0.4 2.7m0.3 2m-0.4 1.7m0.1 2.5m0 4.5m0.1 2.9m0.1 2.2m0 1.6m-0.1 2.9m0.1 2.4m0.2 2.4m-0.2 1.6m0 2.6m2.1-46.3m0 2.3m0.4 7.6m-0.5 2.5m0 1.5m0.2 2.7m-0.2 2.4m0.3 7.3m-0.1 2m-0.3 2.6m0.6 3.9m-0.4 2m0.1 4.5m0.1 3.4m0.1 2.2m-0.3 1.8m0.2 2.2m-0.2-50.3m0.5 2m-0.6 1.9m0.2 2.6m0.1 2.8m-0.1 2.2m0 2m0 2.5m-0.1 2.5m0.1 4.5m0.4 1.6m-0.4 2.3m0 2.3m0.1 3.4m-0.1 1.9m0.2 4.3m0.1 2.6m-0.1 1.7m0 3.2m-0.3 2.4m0.2 1.5m2.4-49.3m-0.3 1.9m-0.2 2.3m0.5 2.6m-0.3 2.4m-0.2 2.8m0.5 1.5m0 3.2m-0.5 2.2m0.1 2.3m0.2 1.4m-0.1 3.4m0.2 1.2m0 5.2m-0.2 2.6m0.3 2.5m-0.2 2.2m-0.3 2m0.4 1.8m-0.3 2.9m0.1 4.4m-0.1 2.3m0 2.5m0.3 2.6m0-53.4m-0.2 2.3m0 1.7m0 2.4m0.1 3.2m0.1 1.8m0.2 2.6m-0.2 2.5m-0.3 1.2m0.1 3.5m0 1.8m0.3 2.5m-0.3 1.7m0 2.4m0 2.7m0.2 2m0.1 2m-0.2 3.1m-0.1 1.4m0.2 10.1m-0.3 2.1m2.7-58.7m-0.4 2.2m0.1 2.2m0.1 1.9m-0.1 2.2m-0.1 2.2m-0.1 5.5m0 1.8m0.3 2.5m-0.3 1.8m0.3 5.1m0.2 2m-0.2 2.6m0.2 2.3m-0.4 5m0.3 1.8m0 4.3m0-42.8m0 4.6m0 1.6m0.2 4.4m-0.5 3.3m0.1 1.3m0.3 2.3m0 2.6m-0.3 2.3m0 2.7m0.3 2.2m-0.4 2.6m0.2 1.6m0.3 3.1m-0.3 1.3m-0.2 4.6m2.2-36.8m0.2 4.6m-0.1 2.3m0.2 2.7m-0.1 2m-0.1 2.7m0.2 1.8m0 3m-0.1 1.6m-0.1 2.8m0 2.1m-0.1 2.5m0 1.7m0.3 4.9m-0.3 2.7m0.4 2m-0.2 1.6m-0.2 2.9m0.1 2.4m-0.1 1.6m0.1 3m-0.1 2.7m0.4 1.7m0 2.6m-0.4 4.6m0.2-59.2m0.4 1.9m0 1.7m-0.3 2.4m0.3 5.2m-0.2 2.3m-0.3 2.5m0.5 1.7m-0.4 2.3m0.4 2.3m0 2.7m-0.3 1.5m-0.1 3.2m0.2 1.6m0.1 4.8m-0.2 2.5m0 1.7m0.2 9.7m-0.2 1.9m-0.1 5.1m2.6-33.1m-0.3 2.8m0 1.8m0.3 2m-0.4 2m0.2 2.8m-0.3 2.7m0.4 1.8m0 2.2m-0.3 2.6m0.1 2.3m0.1 1.8m-0.1 2.9m-0.2 2.5m0.1 6.7m-0.1 2.7m0.3-40.7m0.2 2.1m-0.2 2.6m-0.2 1.8m0 1.8m0 2.6m0.5 3.1m0 1.7m-0.3 2m0.1 2.9m-0.2 2.6m0.1 3.6m-0.2 3.2m0 4.1m0.3 4.9m-0.1 2.6m2.5-38m0 2m-0.2 3.5m-0.3 1.2m0.2 2.9m0.1 2.3m0.2 4.2m-0.4 3.2m0 2.1m0.1 3.9m0.1 2.4m0.1 2.1m0.1 2.2m-0.4 3.2m0.2 1.8m0.1 1.9m-0.1 4.8m-0.2-38m0.2 2m-0.1 2m0.1 2.7m0.2 2.1m0.1 2.3m0 2m-0.5 2.9m0.3 1.9m0.1 2.2m-0.3 4.8m0.4 2.2m0 2.9m-0.3 2m2.4-35.3m0 2.5m-0.4 1.8m0.5 2.8m-0.3 5m0.1 2.6m0 2.3m0 1.2m0 3.3m0.1 1.4m0.1 2.5m-0.5 2.6m0.3 2.8m0.2 2.1m-0.5 2.5m0.3 4.5m-0.1 1.8m0.1-36.5m0.2 2.2m-0.3 2.5m0.2 2m-0.2 1.9m0 2.4m0 2.5m-0.2 2.2m0.2 2.1m0.3 2.2m-0.2 2.5m0 2.4m0.1 2m0 2.4m0.2 2.3m-0.2 2.6m1.9-41.3m0.1 2.5m0.1 2.7m0.2 5.1m-0.4 1.1m0.1 3m0.3 2.3m-0.1 2.1m-0.3 2.4m0.2 2.6m-0.2 2m0.5 2.1m-0.1 5.2m-0.1 1.9m-0.3-39.4m0.2 2.2m0 1.9m0.3 3.1m-0.2 3.7m0.1 4.7m0 2.7m-0.1 2.2m-0.3 7.6m0.1 1.7m0.3 4.4m-0.3 5.1m0.4 2.2m2-46.5m0.2 2.8m-0.4 1.9m0.3 2.9m-0.1 2.2m0 1.7m0.1 5.5m0.2 3.9m-0.2 2.2m-0.3 2.4m0.3 3.3m-0.3 1.6m0 2.6m0.3 2m-0.3 1.9m0.2 3.3m-0.1 4.5m0.4-46.9m-0.4 2.3m0.2 3.1m0.2 3.7m-0.1 3.2m-0.3 2.2m0.2 1.6m0 2.1m-0.2 3.3m0.4 1.8m-0.2 2.1m0.3 1.9m-0.2 3.1m0 2.3m-0.2 2.3m0 2.1m0.1 2.6m-0.1 2m0.4 2.7m-0.2 1.7m1.9-58.8m0.5 2.1m-0.2 2.5m0.2 2m-0.4 1.8m0.4 2.8m-0.2 2.7m-0.1 1.5m0.2 2.8m-0.1 2.4m-0.1 2.3m0.2 4.5m-0.1 2.7m0.2 1.7m-0.1 2.3m-0.2 2.1m-0.2 2.6m0 2.3m0 4.8m0.4-46.9m-0.3 5.3m0.2 1.4m0 9.7m0.1 2.1m-0.1 2.7m-0.1 4.2m0.4 2.3m-0.5 2.7m0.2 4.2m0.2 1.8m-0.5 7.4m2.7-43m0.1 2.4m-0.5 1.3m0.1 2.3m0.2 3.1m0.1 1.7m-0.1 5.4m-0.2 1.3m0.4 2.6m-0.4 2.8m0.3 1.7m-0.4 2.7m0.1 1.7m0 2.8m-0.1 2.9m0.4 2m-0.1 2.1m0-46.1m0 2.4m-0.3 1.6m0.3 3.2m0 1.3m-0.1 2.8m0.4 2m-0.2 2.7m-0.2 1.8m-0.2 3.2m0.3 1.9m0.3 1.9m-0.2 5m0 1.6m0.2 2.9m-0.4 2.2m0 2.3m0 1.8m0.2 2.8m0.2 2.4m1.9-30.8m-0.2 2.3m0.3 3.2m-0.4 2.2m0.2 2.5m-0.1 2.2m0.1 6.6m0.2 2.3m0.2 2.2m-0.5-26.7m0.5 2.1m0 1.8m-0.2 2.3m0 4.7m-0.2 2.7m0 1.9m0.3 2m-0.3 5.5m0.4 2m-0.2 1.5m2.3-26.9m0.1 2.3m-0.2 2.3m0.2 1.8m0.1 2.9m-0.5 2.5m0 1.2m-0.1 2.6m0.3 4.7m-0.3 2.4m0.6 2.9m-0.2-25.7m0.1 2.5m0 2.4m0 3.8m0 2.6m-0.2 2m0.1 3.3m-0.1 1.3m0.3 4.5m-0.2 4.8m2.2-28.9m-0.2 4m0.1 2.4m0.3 4.2m-0.4 2.8m0.1 4.5m0.3 1.9m-0.4 3.2m0.2 1.6m-0.1 2.5m-0.1 2.1m0.2 2.6m0.1 1.6m-0.1-29.7m0.1 2.5m-0.1 2.5m-0.1 2.2m-0.1 2.3m0.2 1.9m0.4 2.2m0 2.4m-0.2 2.6m-0.2 2.2m0.3 2.2m-0.2 2.8m-0.2 1.5m0.3 3m-0.3 4.7m2.4-37.1m0 4.6m-0.2 2.2m0 2.6m0 4.7m0.2 2.3m0 2.5m0 3.6m0.1 2.3m0 2.9m-0.3 2.5m0.3 2.2m0.1 2.3m0.1 4.2m-0.3-36.6m-0.2 5.2m0.5 1.2m-0.1 3m-0.2 4.5m0.2 2.5m-0.2 1.8m0.1 2m0.2 3.4m-0.2 1.7m0 1.7m0.1 7.5m0.1 2m2.2-34.5m0 4.8m-0.5 4.6m0.1 2.5m0.4 1.8m-0.3 2.3m0.1 2.2m0.2 3.1m-0.2 3.7m0.1 3.4m-0.2 2.2m0.2 2.3m0 2.2m0.1 2.2m-0.1 2.3m0-41.3m0.3 2.4m-0.4 2m-0.1 5m0.5 4.5m-0.2 2m0.1 4.8m-0.5 1.5m0.5 5.2m-0.2 2.1m-0.1 2.3m-0.1 2.9m-0.1 1.6m0.3 2.9m2-32.2m0 1.6m0 3m0.4 2.1m0 1.4m0.1 2.6m-0.3 2.7m-0.2 4.7m0.3 2.4m-0.3 1.5m0.5 3.2m-0.5 1.4m0.4 2.8m-0.3 1.9m-0.2 3.1m0.4-35m-0.2 6.8m0.1 2.7m0.4 2.4m-0.4 2.4m0.2 2.6m0.1 1.5m-0.3 2.4m0 4.2m0.4 4.8m-0.3 3.1m0.2 1.3m-0.2 3.1m-0.1 2.3m2.4-29.9m-0.4 1.9m0.1 2.5m0.3 4.6m0 4.5m-0.2 4.3m-0.1 7.1m0.5 2.5m-0.4 2.1m0.2 2.2m-0.3 2m0.5-36.4m0.1 2.3m0 2.7m-0.2 1.6m-0.1 3.1m0.2 6.7m-0.4 2.3m0.1 1.7m0.3 3.2m-0.4 2.1m0.1 2.5m0.2 2.4m-0.1 1.2m0 5.2m2.4-56.7m-0.2 2.6m-0.2 1.8m0.2 2.2m-0.1 2.3m0.2 2.5m-0.2 1.6m0 3.3m0.2 2.3m0 2.3m0 2.3m-0.2 2.4m0.1 4.1m-0.2 2.2m0 2.9m0.4 3.8m-0.2 3.2m-0.1 1.8m-0.1 2.8m0 1.9m0.1 2.6m0 2m-0.2 2.4m0.1 1.9m0.4-55.6m-0.3 2.7m0.1 1.3m-0.1 2.4m0.2 2.9m-0.1 2.6m0 1.5m-0.1 2.7m0.3 2m-0.4 1.9m0.5 2.9m-0.2 1.8m-0.1 2.8m0.3 2.1m-0.3 2.6m0.2 2.4m-0.3 2.5m0.4 1.6m-0.3 3m0.2 2.3m-0.1 1.8m0 2.5m0 2m0.1 2.9m0.1 1.5m-0.4 2.1m2.4-65.3m0.2 2.1m0 2.1m-0.1 1.9m-0.3 3.2m0.1 4.3m0.1 4.4m0.2 2.4m0 1.7m-0.1 2.4m-0.1 2.4m0 2.1m0.2 2.3m-0.2 2.9m-0.2 2.7m0 1.4m0.2-39.3m-0.1 2.2m-0.1 5.3m0 2.2m0.5 1.5m-0.1 5.7m-0.2 1.9m0.2 2.2m-0.2 4.8m-0.1 2.2m0 2.1m0.2 2.7m0.2 1.5m0 2.1m0 2.6m2-36.5m-0.1 2.5m0.1 1.5m0.1 7.5m-0.3 2.7m0.3 2m-0.1 2.4m-0.1 2.1m0.3 2m-0.2 2.2m-0.3 2.3m0.4 2.9m0.1 4m0.1-36.2m0 2.3m0 2m-0.5 4.9m0.3 1.9m0.3 2.4m-0.4 2.3m0.3 2.2m-0.1 2.9m-0.3 3.7m0.2 2.6m0.1 2.4m-0.3 2.8m0.2 1.9m2-27.1m-0.1 1.6m0.4 2m0 3m-0.2 1.6m-0.1 2.7m0.2 2.6m-0.2 2.2m0.1 1.8m0.2 4.8m0.1 2.1m0 3.1m-0.3 6m0.2-35.9m-0.3 2.3m0.5 2.1m-0.3 2.4m-0.1 4.2m0.4 2.2m-0.3 2m0.2 4.9m-0.2 4.2m0.2 3m-0.2 2.1m-0.2 2.4m0.4 1.9m2.3-36.6m0 5.2m-0.4 1.4m0.1 3.3m0.2 1.7m0.2 2.1m-0.5 2m-0.1 3.2m0.2 2.4m0.2 2.4m-0.3 1.4m-0.1 2.5m0.5 2.6m-0.3 2.4m0.3 2m-0.3 2m-0.2 2.3m0.5 5.5m0 2.3m-0.3 1.7m0.4-50.8m-0.3 4.8m0.1 3m-0.1 1.1m0.3 3.1m-0.1 1.7m-0.1 2.5m-0.3 2.6m0.3 2.5m0.1 1.9m-0.2 2.9m-0.1 1.6m0.3 3m-0.1 1.8m0 2.5m-0.2 1.7m0.2 2.9m0 2m-0.2 2.7m0.2 4.2m-0.1 2.4m-0.1 1.9m2.5-50.5m-0.2 6.7m0.2 3.1m0 2m-0.4 2.5m0 3.8m0.2 3m-0.1 1.5m0 2.5m0.3 2.6m0.1 1.7m-0.3 3.2m-0.2 2.5m0.3 1.2m0.2 4.7m0 3.3m-0.1 4.5m-0.3 4.2m-0.1 2.4m0.5-53.1m0 2.4m-0.3 2.7m0.5 2.1m-0.6 2.6m0.2 2.3m-0.1 2.4m0.4 2.2m-0.2 3.9m0.1 3.2m-0.4 2.2m0.3 1.3m-0.3 2.3m0 3.1m0.5 2.4m-0.1 1.6m-0.3 4.5m0 2.9m0 2.1m0.4 2.7m0 1.5m-0.1 2.9m0.1 2.5m2-49.1m-0.3 2.6m0.5 1.5m0 2.9m0 1.8m-0.2 2.8m-0.2 2.2m0.4 2.6m-0.1 2.3m0.1 2.4m-0.4 1.5m0.3 3.2m0 1.8m-0.2 2.9m0.3 1.9m-0.3 2.6m-0.1 2.1m0.1 1.8m-0.1 2.9m0.3 1.9m0.1 2.3m-0.2 2.8m-0.1-46.1m-0.1 2.2m0.3 2.9m-0.1 2m0 5m0.1 1.6m0.1 2.9m0 2.4m0 1.4m-0.4 4.7m0.6 2.5m-0.5 2.7m0 1.7m0.3 2.1m-0.3 2.7m0.4 2.1m-0.3 2.6m0.3 2.2m-0.3 2.2m0 2.6m0 1.7m0 2.5m-0.2 2.8m2.7-57.4m-0.3 1.8m-0.1 6.9m0.4 4.5m-0.1 2.7m0.1 2.5m-0.5 1.5m0 2.4m0.2 2.7m0.2 2.1m0.1 2m-0.3 3.2m-0.1 2m0.4 1.7m-0.1 3.1m-0.4 2.3m0 2.5m0 1.7m0.4 4.7m-0.4 2.7m0.3 1.5m0.1 2.2m0.2-56.5m-0.4 8.5m0.2 2.7m0.2 2.1m-0.1 2.6m-0.1 3.9m0.1 3m-0.4 1.6m0.5 5.2m-0.1 2m-0.2 4.3m0 2.4m0.3 3.1m-0.5 1.2m0.3 3.2m0 2.2m0 2.3m-0.2 1.8m0.4 2.9m0 2.5m-0.1 1.6m2-57.3m-0.2 2.6m0.5 1.6m-0.3 2.4m-0.1 2.3m0.4 2.1m-0.5 3.2m0.2 4.2m-0.2 2m0.5 5.3m-0.4 4.1m-0.1 2.8m0.4 2.4m-0.3 2.4m0.2 1.9m0.1 2.7m0 1.5m-0.4 2.4m0.2-50.6m0.3 1.8m0 2.5m0.1 2.8m-0.1 2.4m0 1.6m-0.3 2.8m-0.1 2.4m0.3 1.7m0.1 3m-0.1 1.5m-0.1 2.9m-0.1 1.8m0 2.9m0.3 2.1m-0.1 2.3m0.2 2.7m-0.5 1.9m0.1 2.5m-0.1 2.6m2.6-41.8m-0.4 2.9m0.1 2m0.2 2m-0.3 2.2m0.2 2.8m0.1 1.8m-0.2 2.9m0.1 2.4m0.3 1.3m-0.5 2.9m0.5 2.3m-0.4 1.7m0.2 2.8m-0.1 1.8m-0.1 2.9m0.3 2.2m-0.2 2.5m0.1 1.9m-0.1-48.3m0.1 2.1m0.2 5.2m-0.3 2.1m0.4 4.5m-0.4 2.8m0 2.2m0.2 1.3m-0.3 3m0.1 1.8m0.4 2.7m-0.5 1.9m0.1 2.1m0.3 4.6m-0.1 2.9m-0.1 6.3m0.3 2.7m-0.3 2.7m2.2-51.2m0 2.4m-0.1 3.1m0.1 1.2m-0.1 3.2m-0.1 1.4m0.3 2.5m0 2.8m-0.3 1.8m0 2.6m0.4 2.6m-0.2 1.9m-0.2 2.6m0.2 6.4m0.2 2.5m0 2.8m0.1 2m-0.1 2.6m-0.4 2m0 2.3m0.6-45.8m-0.2 2.1m0.1 2.5m-0.3 2.5m0 2m-0.1 2.5m0.3 1.6m0.1 3.1m-0.2 1.8m-0.1 2m-0.1 2.3m0 3.1m0.5 2.1m-0.4 1.6m0.3 2.4m0 5.3m-0.2 1.7m0.1 2.4m2.1-43m0.2 3.5m-0.1 2.5m0.1 2.1m-0.4 3m0.5 2.5m-0.5 2.5m0.4 1.7m0 2.8m-0.4 1.8m0.5 2.4m-0.5 1.9m0.3 5.5m0.2 1.9m-0.3 1.6m-0.2 3.1m-0.1 2m0.4 2.1m-0.3 3.1m0.4 2.2m-0.4 2m0.4 2.2m-0.3 1.9m0.1 2.9m0 2.2m0.4-55.4m0 2.2m-0.2 3m0 1.8m-0.3 2m0.4 2.1m0 2.4m-0.1 2.8m0.1 2.2m-0.3 4.1m0.1 2.8m-0.2 2.4m0.4 2.6m-0.1 1.4m-0.1 2.4m0.2 3m-0.1 1.8m-0.1 2.1m-0.3 3.2m0.4 2.2m0.1 1.5m-0.1 2.7m-0.3 2.1m0.4 2m2.3-43.7m-0.5 2.1m0.2 2.5m0.3 2m-0.1 3m0 1.2m0.1 2.6m-0.2 2.4m-0.3 2m0.1 2.8m0.1 2.7m0.3 2.4m-0.5 1.8m0 2.1m0.4 2.2m0 2m-0.3 3.3m0.2 1.9m0.1 2.8m0.1 1.8m-0.3 1.9m0.1 2.6m-0.1 2.8m0.2 1.9m-0.2 2.6m0.1-57.2m0 7.1m0 1.7m0.2 2.5m0.1 2.1m-0.2 3.1m-0.3 2.1m0.4 2.4m-0.3 2.3m0 2.4m0.2 1.8m-0.1 2m0.3 2.5m-0.4 2.4m-0.1 2.5m0.4 1.6m-0.4 2.6m0.1 4.6m0.4 2m0 2.6m-0.4 2.3m-0.1 2.5m0.4 2.7m1.8-55m0.4 2.2m0 2.1m-0.3 2.1m-0.1 6.3m0.2 3.1m0.1 4.3m0 4.8m0.1 2.5m-0.1 1.6m-0.3 3m0.3 2.2m0 1.6m0.2 2.9m-0.2 3.9m0.2 3.1m-0.5 2.1m0.6-48.6m0 2.5m-0.4 1.9m0.3 3.1m0 4.7m0 2.1m-0.2 1.6m0.3 2.4m-0.6 2.6m0.4 2.2m-0.2 2.9m0.4 1.5m-0.3 5.4m0.2 1.2m0 2.4m-0.2 7.7m0 1.5m2.1-41.1m0.3 4.9m0.1 3.8m0 2.8m-0.5 2.7m0.2 2.3m0 2.1m-0.2 2m0.4 2.8m-0.1 2.3m-0.1 2m0-27.7m0.3 2.8m-0.4 4.8m0 4.2m0.1 2.8m0.2 2m-0.3 1.5m0.2 3.4m0.1 1.8m0 1.8m-0.4 2.9m0.3 2m0.1 2.1m2.3-24.8m-0.3 1.7m0.4 4.8m-0.3 2.2m-0.1 2.1m0 3m-0.1 2.1m0 2.1m-0.1 2.7m0.2 2.4m0 2.4m0.1 2m0-27.7m0.3 2.8m0 2.2m-0.3 2.1m-0.1 1.6m0.4 4.9m-0.1 2.5m-0.2 2.6m0.2 1.6m0.1 2.5m0 2.2m2.2-21m0 2.5m-0.4 2.1m0.2 3m0.1 1.5m-0.3 3.2m0.4 1.9m-0.3 2.1m0 2.9m0.1 1.6m0.1 2.1m0.1 2.3m-0.3-22.5m0.3 5.1m0.1 2m0.1 2.9m-0.3 1.7m0 2.3m0.1 2m0.2 2m-0.4 2.4m0.4 3.3m2-26.1m-0.2 5.1m0 2.1m0.1 5m0.2 1.8m0.1 5.1m-0.5 2.3m0.3 1.5m0 2.2m-0.2 3.2m0 2.1m0.1-30.4m0.4 2.3m-0.2 2.1m-0.3 2.3m0 3.3m0.1 2.1m-0.1 2m0.4 1.9m-0.3 5.4m0 2.5m0.2 1.5m0.1 2.7m0 2.7m1.7-27.8m0.2 4.5m-0.1 1.6m-0.1 2.2m0.2 2.2m0.3 2.8m0.1 2.4m-0.3 2.3m-0.1 1.6m0.2 2.4m-0.3 2.7m0.1 4.1m0.4-31.2m0 1.5m-0.2 3.4m0.2 1.7m-0.4 2.5m0.4 2.7m-0.1 1.3m0 2.3m-0.3 2.4m0.5 2.3m-0.5 2m0.5 2.7m-0.4 2.8m0.4 2.1m-0.4 1.7m2.6-27.5m-0.2 2.3m-0.2 2m0.4 2.5m-0.2 4.5m-0.3 3m0.2 1.8m0.1 3.1m0 3.8m-0.1 2.1m0.2 2.6m-0.1-29.5m0.3 1.9m0 2.1m-0.4 2.7m-0.1 5.2m0.4 4.1m0 2.9m-0.5 4m0.4 2.5m2.3-28.1m-0.3 5m0.4 4.3m-0.4 3m0 1.8m-0.1 2.6m0.1 2m0.3 2.1m0 2.1m-0.4 3.3m0.1 2m-0.1 1.7m0 2.4m0.2 2.5m-0.1-34.4m0.1 1.7m0.2 3.4m-0.2 2.2m0.3 1.3m0.1 2.7m-0.4 1.9m0 3.2m-0.2 2.4m0.6 1.9m-0.5 2.2m-0.1 2.6m0.5 2m-0.3 5m0 1.6m2-40.6m0.5 6.1m-0.3 2.6m0.4 3.1m-0.5 1.6m0 2.7m0.1 1.6m0 2.3m-0.1 2.5m0.1 2.6m0 2.4m-0.1 2.3m0.3 2.1m-0.2 2.9m0.2 2m-0.3 2m0.1 2m0.2 3.2m-0.3 1.5m0.1 2.4m0.1-41.8m-0.1 3.1m0.2 2.4m0.1 1.2m-0.4 5m0.3 4.6m0 4.4m-0.1 3.1m0.3 2.3m-0.2 2.2m0.1 4.6m-0.2 2.2m0.3 6.9m2.2-45.8m-0.4 1.7m0 3m0 1.6m0 4.4m-0.1 2.3m0.3 5.3m0.2 3.8m0.1 5.7m-0.5 1.4m0.4 3.2m-0.5 1.7m0.5 2.2m-0.1 3m0 1.3m-0.1-40.5m0.1 1.9m0.1 2.2m-0.3 2.2m0.4 2m-0.4 2.6m0.1 2.8m-0.2 1.4m0.1 4.5m0.3 3.1m-0.2 2.6m0.2 1.2m-0.4 2.3m0.1 2.8m0 2.4m0 1.7m0.2 3.3m2.4-32.6m-0.2 2.6m-0.3 1.9m0.3 4m-0.2 4.9m0.3 2.1m0 3m0.1 1.5m-0.2 2.9m0.1 1.7m-0.1 7.6m0.2 2.3m0.1 1.6m-0.3-38.8m0 2.4m0.2 4.9m0.2 1.8m-0.1 2.1m-0.2 3.3m-0.2 4.6m-0.1 1.5m0.1 3m0.3 1.9m0 2.8m2.3-28.6m-0.1 7.1m0.1 2m-0.1 3.3m-0.2 2.2m0.2 1.5m-0.2 2.8m-0.1 1.8m0 2.6m0 4.6m0.4 2.4m-0.2 2.7m-0.1 3.7m0.3 5.3m0-39.3m-0.4 2m0.1 2.4m0 2.2m0.1 2.8m0.2 2.2m0.1 1.9m0 3.4m-0.5 1.5m0.1 2m-0.1 2.8m0.6 2.4m-0.4 1.8m-0.2 2.4m0.3 2.4m-0.2 2.9m0.1 2.4m2.1-33.4m0.4 2.8m-0.2 2m-0.2 2m0.3 3.3m-0.1 1.9m0.3 2.6m-0.4 2.2m0.4 2.4m-0.1 1.9m-0.1 2m-0.2 3m0.1 2.3m-0.3 4.7m0.3 1.8m0.3 1.8m-0.5-33.8m0.3 2.7m0.1 4.9m-0.4 1.4m0.3 2m-0.2 2.6m0.3 2.7m-0.3 1.9m0.1 3m0.1 1.7m-0.1 2.4m0 4.4m2.2-20.9m-0.1 2.4m0.2 3m-0.3 1.9m0 2.2m0.3 2m0.2 2.7m-0.4 2m0 2.8m0.4 2.1m-0.1 1.9m-0.2 2.9m0 2.2m0.1-34.3m0.3 2.5m-0.1 1.3m0.1 3.1m-0.5 2.4m0.5 1.5m0 2.7m-0.1 2.9m0.1 1.5m-0.5 2.8m0.5 2.1m-0.3 2.2m-0.2 2m0.4 4.7m-0.3 2.5m2.1-30.1m0.3 6.8m-0.3 2.1m0.5 2.1m0 2.9m-0.2 1.9m-0.1 3.2m0.1 1.7m-0.1 2.6m-0.2 1.9m0.2 2.9m0 1.8m-0.1 2.5m0.5-32.5m-0.3 2.1m-0.2 2.5m0.4 6.9m-0.4 3.1m0.5 2.4m-0.4 4m-0.1 1.8m0 3.4m0.4 2.1m-0.3 1.6m0 2.1m0.3 2.9m-0.2 2.6m0 4.7m2-41.6m0.1 1.9m0.1 7.3m0 2.1m-0.1 1.7m0.4 2.3m-0.5 3.5m0.3 1.3m-0.2 2.1m-0.1 2.5m0.2 2.1m0.2 3m-0.2 2m0.4 5.3m-0.2 2.2m-0.2 3.9m0.3-43.9m0 5.1m-0.3 2.6m0.3 2.1m0.1 2.6m0 2.4m-0.4 1.4m0.4 2.4m-0.1 2.1m-0.3 2.4m0.2 3.2m-0.3 4.2m0 2.4m0.5 1.6m-0.5 2.8m0.5 2.1m0 5.4m2.2-40m-0.1 2m0 3.4m-0.4 4.6m0.3 1.5m-0.2 3m0.1 2.5m0 2.1m-0.1 1.9m0.4 1.9m-0.2 2.4m0.1 2.9m-0.3 2.5m0.3 2.2m-0.3-37.1m0.4 2.4m-0.1 2.4m0 2.1m-0.3 2.2m0.4 2.5m-0.4 2.4m0.1 1.6m0.1 2.7m-0.1 1.8m0.3 2.5m0.1 3m-0.4 2.1m0 1.7m-0.1 2.4m0.4 4.5m-0.2 2.3m2.4-41m-0.2 2.2m0.3 5.3m-0.3 1.5m0.2 2.8m0 2.2m-0.1 2.2m-0.3 2.7m0.4 2.2m-0.1 1.9m-0.3 2.7m0.1 2.4m0.1 2.2m0 2.2m0.2 1.8m-0.3 2.4m0.3 5.2m0 1.4m-0.3-40.8m0.5 2.3m-0.1 2.2m-0.4 2.6m0.1 3.9m0.3 4.8m-0.2 2.7m0 1.5m-0.1 3m-0.1 2.6m0.2 2.1m0.1 2.5m0.1 4.7m-0.3 3.9m2.5-43.7m-0.3 4.5m0.3 5.1m0.1 2.7m0 2.1m-0.4 4.4m-0.1 1.9m0.1 2.8m0.4 2.2m-0.1 2.2m0.1 2.6m-0.3 1.7m0.3 3.1m-0.4 1.3m1.7-57.1m-0.2 2.7m0 1.9m0.2 2.2m-0.3 2.1m0 3m-0.3 2.2m0 4.3m0.5 1.7m-0.2 2.9m0.2 5m-0.3 2.1m2.1-35.3m0 2.5m-0.1 2.8m0.5 2.3m0.1 1.9m-0.5 4.9m-0.1 4.5m0.6 4.9m-0.4 1.6m-0.2 2.8m0.6 2.7m-0.4 1.5m0 3.1m0.2-33.2m-0.1 2.5m0.2 5.5m-0.4 3.5m0.1 3.3m0.3 1.8m0.1 2.2m-0.1 2.8m0.1 4.7m-0.5 2.3m0.4 1.9m1.8-26m0.4 3.4m0.1 1.5m-0.3 2m0.2 5m-0.3 2.7m0.3 2.1m0.1 2.4m-0.2-23.6m0.3 2.7m0.1 2.3m-0.3 2.1m0 4.7m0.1 2m-0.4 2.8m0.1 2.5m0.1 2.4m-0.1 2m0.2 2.1m0.3 2.7m-0.2 2.6m1.8-30.4m0.3 2.4m-0.2 2.6m0.3 4.2m0.1 2.3m-0.1 2.7m-0.1 1.6m0.2 2.2m-0.4 3.2m0.1 1.3m0 3.2m0.3 1.7m-0.3 2.9m0.1-25.3m-0.1 1.7m0.4 5.3m-0.2 1.5m0.2 2.4m-0.5 2m0 4.5m0.4 2.5m-0.2 3.2m0 1.6m-0.1 2.5m2.4-31.8m0.2 2.3m-0.1 3.8m0.1 2.4m-0.1 2.2m-0.2 2.4m0.1 2.9m0.2 6.4m-0.4 3.1m0.5 2.1m-0.1 6.6m0.1-34.3m0 1.6m-0.3 2.1m-0.2 3.2m0.1 2.3m0.3 3.9m0 2.8m0 4.2m-0.3 2.6m0.1 1.8m0.2 4.9m-0.2 2.2m2.4-31.5m0 2.4m0 4.7m-0.1 2.4m0.2 1.7m0 2.4m-0.1 2.7m0 1.3m0.1 2.5m0 3.2m0 1.2m-0.2 6.9m0.1-34.7m-0.3 3m0.5 2.5m-0.1 1.9m-0.2 2.5m-0.2 2m0 3m0.1 1.7m0.4 2.1m-0.1 3.1m-0.4 1.4m0.1 2.8m0.4 2.6m0 2.4m-0.3 2m2.2-31.7m0.2 1.7m0.1 2.1m0 2.9m-0.5 2.3m0.1 2.2m0.1 1.5m-0.1 3.3m0.4 4m-0.3 2.4m0.2 2m-0.2 3m0.2 1.4m0.1 2.9m-0.2-31.9m-0.1 1.9m0.3 4.5m-0.1 2.9m0.2 1.8m-0.2 4.6m0.1 4.2m-0.1 2.1m0.3 2.6m-0.4 2m-0.2 2.7m0.4 2.3m2.1-33.7m0.2 1.4m-0.1 3m-0.2 2.4m0.2 2.4m0 2m0.1 4.6m-0.3 1.8m-0.2 5.1m0 2.4m0.4 1.8m-0.1 5m0.2 2.1m-0.5 2.4m0.5-36.9m-0.3 2.2m0 2.7m0 1.6m0 2.2m0 2.1m0.1 3m-0.1 7m0.2 2.1m0.3 2.3m-0.4 1.8m0.3 3.3m-0.1 2.2m0 2.4m0.1 2.3m1.7-40m0.1 5.2m0.2 2m0.3 2.6m-0.5 1.5m0.3 3.1m-0.3 1.9m-0.1 2.5m0.3 1.8m-0.2 2.1m0.1 2.8m0.1 2.2m0 2.1m0 2m0 2.3m-0.1 5.2m0.2-31.7m-0.2 6.7m0.2 1.7m0.2 3m-0.5 2.4m0.3 1.4m0.1 3m0 2.7m-0.1 2.1m-0.1 2m0.1 2.4m0.1 2.7m-0.2 1.6m0.2 1.9m2.4-38.3m-0.1 2.2m-0.5 1.6m0.3 2.6m-0.3 2.9m0.5 1.5m-0.5 2.7m0.5 2.2m0 2.6m-0.1 1.6m0 3.2m-0.1 1.8m-0.1 2m-0.2 3.1m0.4 1.5m0-34.7m0.1 4.8m-0.1 3.1m-0.1 3.8m0.1 2.4m-0.1 2.9m0.3 1.6m-0.2 3.2m-0.3 1.7m0.3 1.9m0 2.9m0 1.9m1.9-31.9m0.3 2.6m0 2.2m0 1.9m-0.3 3.2m0 1.7m0.5 2.7m-0.2 2.4m-0.2 2.2m-0.1 1.4m0.1 3.3m0.3 2.5m-0.2 2.1m0.2 1.5m-0.2 3.3m-0.2 1.1m0.2-34.6m-0.1 2.3m0.4 2.4m-0.3 2.4m0.1 2.9m-0.2 1.6m0.5 2.5m-0.5 3m0 1.9m0.1 2.6m0.4 2m-0.3 4.4m-0.1 2.3m0.4 2.8m-0.1 1.4m1.9-33.7m0.1 2m-0.2 1.9m0.1 2.7m0.3 2.8m0.1 1.7m-0.5 2.4m0.4 4.4m-0.1 3.1m0.1 1.9m-0.1 2.1m-0.2 2.8m0.4 4.5m-0.5 1.9m0.1-32.6m0.4 3.1m0 2.2m-0.2 2.3m-0.1 4m-0.1 3m0.4 2m-0.1 1.6m0 2.4m-0.1 3.3m0.1 4.6m-0.1 2m2.5-31.8m-0.3 1.8m-0.1 2.7m-0.1 6.1m0.4 3.1m-0.1 1.5m0.2 2.5m-0.4 2.6m0.3 1.9m-0.2 2.4m0.2 2.5m0.1 2.1m-0.4 1.9m0-31.1m0 1.7m0 2m0.3 3.1m-0.1 2.1m-0.1 2.1m-0.1 2.1m0.1 2m0.1 3.1m0.2 1.4m-0.2 3m-0.2 1.6m0.4 2.5m0.1 2.9m0 2.3m1.7-30.6m0.1 3.3m0.2 2.1m0.1 2.2m0 8.6m-0.2 2.4m0.1 3.1m0 2.1m0.2 2.3m-0.5 1.7m0 5m0.5-37.1m-0.1 2.9m-0.4 1.9m0.2 2.2m0.3 2.5m-0.2 4.9m0 1.6m-0.2 2.8m0.4 3.9m0 2.5m-0.3 2.5m0 7.1m0.4 1.6m1.7-26.7m0.2 1.5m0.1 2.9m0.1 4.3m-0.4 2m0.1 5m0.1 1.8m-0.2 4.9m0.1 2.2m0.3 2.2m0.1 2.3m0 2.5m-0.3 2.1m0.2-40.8m-0.4 7.3m0.6 1.3m-0.3 3m-0.1 1.6m0.1 3.1m0.3 2.1m-0.1 4m0 5.6m-0.4 1.6m0.2 2m0.3 2.6m-0.4 3m2.5-35.3m-0.3 3.1m0.3 2.1m-0.2 2.4m0 2.1m0.1 1.7m-0.1 3.1m0 4m0 5.3m0.1 2.2m0 2.1m-0.1 1.5m0.1 2.4m0.2 3.2m-0.1 2m-0.2 2.1m0.3-39.6m0 2.4m-0.3 2.9m0 2.3m0.3 2.7m-0.1 1.2m0.1 3.4m0.1 1.2m-0.5 2.9m0 4.5m0.3 4.4m-0.1 2.7m0.3 2.7m0 2.1m-0.4 2m2.4-37.3m-0.2 2.6m0.2 2.5m0 1.7m0 4.8m0 2.9m-0.1 2m-0.1 1.9m0.2 2.2m-0.3 2.4m0.1 2.1m0.4 2.7m-0.1 6.6m-0.3-29.2m0.5 2m-0.4 2.9m0.4 2.1m-0.1 1.7m-0.4 2.7m0.1 2.8m0.1 2.2m0 2.3m0.2 1.9m-0.3 2.1m-0.1 2.5m0.2 2.3m2.4-38.8m0 2.1m-0.2 2.2m0.1 2.8m-0.2 2.1m0 2m0.1 3.1m0.3 1.3m-0.3 2.5m-0.2 2.8m0.4 1.9m-0.2 3.1m0.3 1.9m0 4.5m-0.3 1.7m0.2 2.8m-0.1 2.2m0.1 2.4m0-43.5m0 6m0 2.6m0 5m-0.1 1.9m0.1 2.8m0 1.4m-0.4 2.8m0.4 2.7m-0.2 4.1m-0.1 2.3m0.5 2.4m-0.4 2.8m-0.1 2.4m0 1.5m0.1 3m0.2 2.2m-0.1 1.8m2-43.3m0.4 1.9m-0.1 2.8m0.1 1.9m-0.2 4m-0.2 2.8m-0.1 1.8m0.5 2.5m0.1 2.7m-0.4 2m-0.1 9.9m0.2-34.9m-0.1 2.3m0.1 2.6m0 2.5m0 1.9m0.2 1.6m-0.2 3.5m0.4 1.5m-0.2 2.9m-0.1 1.5m-0.2 2.7m0.5 2.2m-0.5 2.7m-0.1 4.3m0.5 4.5m0 2.1m2.3-25.7m-0.5 1.9m0.2 3m0.2 1.5m-0.2 2.6m-0.2 2.5m0.3 1.7m-0.4 2.5m0.5 3m-0.4 2.4m0.2 8.2m0.1 2.8m0-31.1m-0.1 4.7m0.1 2.4m-0.1 1.7m0.4 2.7m-0.1 1.4m-0.1 2.8m-0.3 4.2m0.1 2.9m-0.1 4.1m2.2-25.5m0.3 2.5m-0.1 2.4m-0.2 3m0.4 2.2m-0.3 1.9m0.3 2.3m-0.1 2.7m-0.1 2.5m-0.3 1.6m0 2m0.3-25m0.2 4.4m-0.1 3.2m0.1 1.3m-0.4 2.1m0.2 2.4m0.3 2.9m-0.2 2.2m0.2 2.8m0 1.3m-0.4 3.2m2.2-23.9m0 3m0.3 1.9m-0.2 2.4m0.4 2.6m-0.3 1.5m-0.3 2.6m0.4 2.3m-0.3 2.9m0.5 2.2m-0.4-20.6m0.4 1.8m-0.3 2.2m0.2 3.2m0 4.5m-0.3 2.2m0.2 2.2m-0.2 1.9m2.7-20.2m0 1.7m-0.4 2.9m0.1 2.5m0.2 2.1m-0.2 2.2m0.3 3.9m-0.3 3m-0.1-19.1m0 2.6m0.3 5.2m0.1 2.3m0 6.8m1.9-18.3m0.3 2.2m0 2.4m-0.4 2.2m0.2 2m-0.1 2.5m0.3 1.4m-0.2 3.4m0.3 2.3m-0.4-16.2m0.4 2.3m-0.1 1.9m0.1 2.3m-0.5 2.9m0.2 1.8m0.2 2.7m-0.2 4m2.4-13.7m0.1 2.5m-0.3 4.8m0.1 1.7m-0.1 2.4m0 2.8m0.4 1.6m-0.5 2.3m0 2.4m0-25m0.1 2.3m0.1 2.1m0.2 4.8m0 1.6m-0.1 2.7m-0.1 2.4m0 3m0.4 1.8m-0.5 1.7m2.3-16m0.1 5m0.1 1.6m0 3m-0.2 2.5m0.1 2.3m-0.2 1.8m0.5 5.1m-0.5 1.6m0.5-25.1m0 2m-0.3 2.8m-0.1 2.5m0.5 2.3m-0.4 2.1m0 2.3m-0.2 2.6m0.3 2.3m0.3 1.6m-0.2 2.3m2.1-22.3m0.2 2.3m-0.1 4.1m-0.2 3.1m0 1.5m0.2 2.4m-0.2 2.2m0.3 4.4m-0.2 2.7m-0.2 2.8m0.5-27.8m-0.1 6.2m-0.4 2.6m0.4 2m-0.4 2.7m0.5 2.5m0 1.7m-0.4 2.5m0 4.8m0.1 2.7m-0.1 2.6m2.4-37.5m-0.2 2.4m0.4 2.8m-0.1 4.1m0 2.4m0.1 5.1m-0.1 2.3m0-18.7m0.1 2.3m-0.2 1.5m-0.1 2.8m0.4 4.9m-0.4 4.8m0.1 2.1m2.3-18.9m0.3 2.9m-0.3 2.4m0.2 1.9m-0.3 2.3m0.1 2.9m-0.3 1.4m0 2.3m0.2-21m0.2 3.4m0 1.4m0.2 2.3m-0.5 2.6m0.5 2.7m-0.3 2m-0.2 5m0.1 1.3m2.6-11.4m-0.1 2.7" fill="none" stroke="none" marker-start="url(#m)" marker-mid="url(#m)" marker-end="url(#m)"/>
<g style="will-change:transform"><text x="488" y="71" font-size="20" text-anchor="middle">Record:&#160; e141b</text><text x="488" y="636" font-size="20" text-anchor="middle">Time (hour)</text><text transform="translate(100 332) rotate(-90)" font-size="20" text-anchor="middle">RR Interval (second)</text><text x="159" y="565.5" font-size="18" text-anchor="end">0.0</text><text x="159" y="452.5" font-size="18" text-anchor="end">0.5</text><text x="159" y="339.5" font-size="18" text-anchor="end">1.0</text><text x="159" y="226.5" font-size="18" text-anchor="end">1.5</text><text x="159" y="113.5" font-size="18" text-anchor="end">2.0</text><text x="171.0" y="585.5" font-size="18" text-anchor="middle">0</text><text x="297.6" y="585.5" font-size="18" text-anchor="middle">5</text><text x="424.2" y="585.5" font-size="18" text-anchor="middle">10</text><text x="550.8" y="585.5" font-size="18" text-anchor="middle">15</text><text x="677.4" y="585.5" font-size="18" text-anchor="middle">20</text><text x="804.0" y="585.5" font-size="18" text-anchor="middle">25</text></g>
</svg></body></html>
